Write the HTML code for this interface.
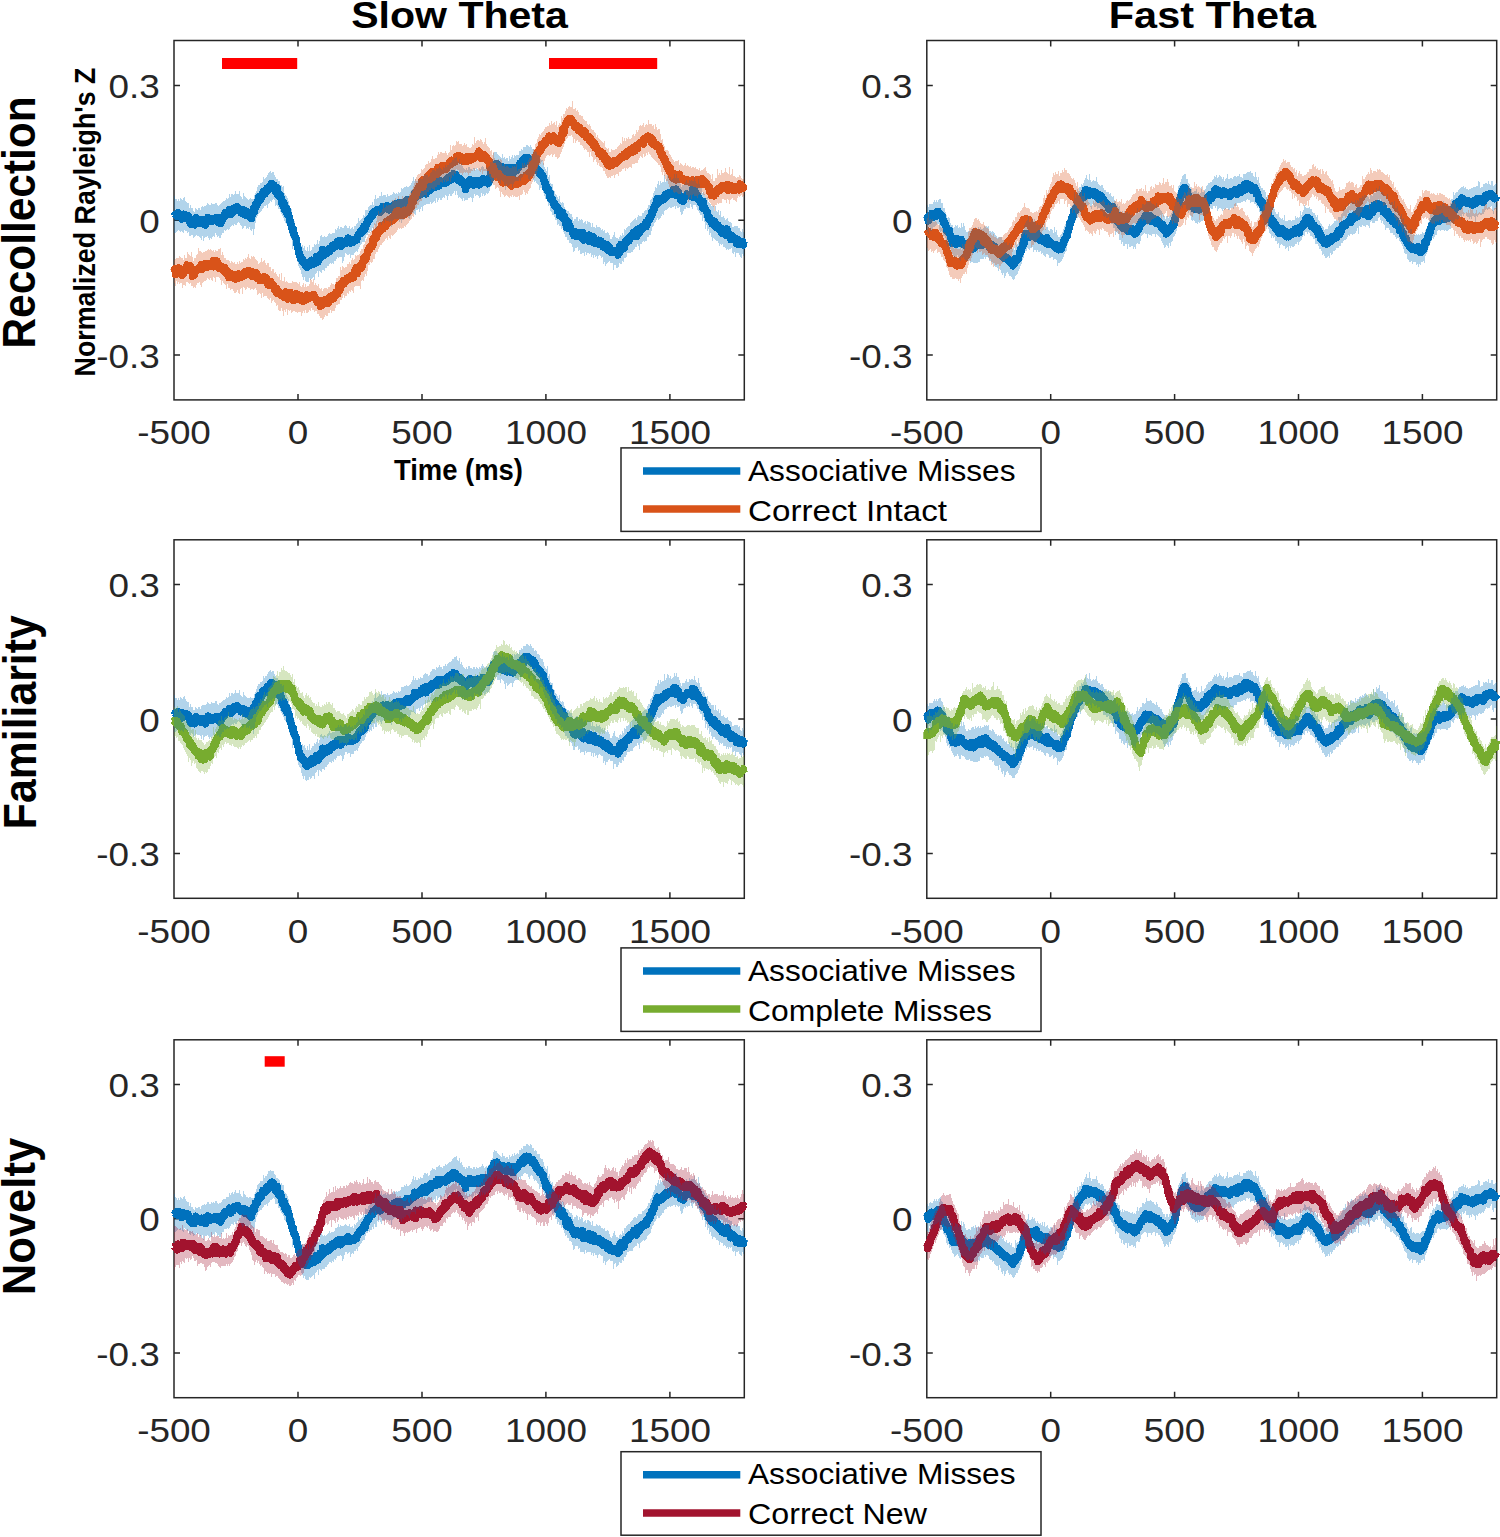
<!DOCTYPE html><html><head><meta charset="utf-8"><style>html,body{margin:0;padding:0;background:#fff;}svg{display:block;}text{font-family:"Liberation Sans",sans-serif;}</style></head><body>
<svg width="1500" height="1537" viewBox="0 0 1500 1537">
<rect width="1500" height="1537" fill="#fff"/>
<path d="M298 399.9V393.9M298 40.5V46.5M422 399.9V393.9M422 40.5V46.5M545.9 399.9V393.9M545.9 40.5V46.5M669.9 399.9V393.9M669.9 40.5V46.5M174 85.4H180M744.3 85.4H738.3M174 220.2H180M744.3 220.2H738.3M174 355H180M744.3 355H738.3" stroke="#262626" stroke-width="1.5" fill="none"/>
<rect x="174" y="40.5" width="570.3" height="359.4" fill="none" stroke="#262626" stroke-width="1.5"/>
<clipPath id="cp00"><rect x="174" y="40.5" width="570.3" height="359.4"/></clipPath>
<clipPath id="lp00"><rect x="170.5" y="40.5" width="577.3" height="359.4"/></clipPath>
<g clip-path="url(#lp00)"><path transform="scale(.1)" d="M1740 2161l5-3 5-13 5 7 5-1 5 7 5-15 5 20 5-36 5 28 5-21 5 18 5 15 5 0 5-5 5 3 5 24 5-41 5 29 5-35 5 14 5 8 5-14 5 17 5 10 5-26 5 19 5 2 5-17 5 29 5-4 5 39 5-28 5 43 5-30 5 40 5-18 5 2 5 7 5 7 5 5 5 2 5-32 5-17 5-22 5 34 5 13 5-1 5-1 5-4 5-1 5 7 5 5 5-30 5 36 5-39 5 18 5-9 5 3 5-9 5-4 5 13 5-11 5 53 5-44 5-5 5 0 5-7 5-21 5 33 5 7 5-25 5 24 5-22 5 16 5 5 5 0 5-5 5-18 5 16 5-15 5 13 5 2 5-13 5-14 5 28 5-18 5 9 5-8 5 33 5-13 5-27 5 42 5 12 5-13 5-37 5 6 5-2 5-2 5-18 5-20 5 21 5-9 5-35 5 14 5 3 5-13 5 6 5 1 5-2 5-13 5-27 5 24 5 15 5 9 5-34 5-8 5 22 5-2 5-15 5 0 5-28 5 24 5-20 5 12 5 2 5-2 5-27 5 17 5 19 5-6 5-4 5 16 5 8 5 10 5-18 5 12 5-4 5-9 5-10 5 17 5-13 5 45 5-31 5 1 5-3 5 38 5-36 5 18 5-5 5 11 5 4 5 28 5-34 5 24 5 23 5-41 5-2 5-19 5-40 5 27 5 5 5-40 5-33 5 20 5-17 5 3 5-15 5-27 5 1 5-39 5 37 5-19 5 7 5-5 5-28 5-4 5-16 5-22 5 21 5 2 5-25 5 21 5-15 5-1 5-24 5-18 5 29 5-8 5-11 5-10 5-4 5-3 5-13 5-21 5 35 5-39 5 17 5 1 5 14 5-17 5 47 5 4 5 10 5 14 5-20 5-28 5 59 5 19 5 6 5-21 5 12 5 13 5-18 5 28 5 12 5 45 5-21 5 47 5-11 5-22 5 69 5-37 5 33 5 26 5-24 5 0 5 53 5 0 5-5 5 19 5 26 5 33 5-1 5 30 5 28 5 12 5 19 5 13 5-25 5 59 5 3 5 11 5 5 5 13 5 27 5 40 5 4 5 25 5 22 5 32 5-2 5 21 5 36 5-16 5 25 5-15 5 31 5 1 5 7 5-7 5 1 5 17 5-1 5 32 5 7 5-33 5 34 5-18 5 7 5-17 5-22 5 34 5-10 5-31 5-13 5 20 5-11 5 8 5 10 5 9 5-33 5 19 5-3 5-30 5-23 5 34 5-10 5 25 5-17 5-17 5 6 5-42 5 13 5-13 5 26 5-21 5-59 5 64 5-40 5 31 5-22 5 8 5 2 5-10 5-22 5 28 5-26 5-7 5 10 5-23 5 32 5-18 5-1 5-7 5-23 5-11 5 20 5-1 5 3 5-15 5-19 5 23 5-5 5-3 5-16 5-25 5 32 5-32 5 16 5-26 5 35 5-22 5 26 5 12 5-13 5-39 5 3 5 0 5 22 5-8 5-8 5-1 5-2 5-1 5 15 5-27 5 8 5-29 5 10 5 10 5-10 5 21 5 17 5-21 5 2 5-4 5 11 5-9 5 13 5-6 5-8 5-2 5-18 5 0 5 16 5-33 5 4 5-17 5-15 5-3 5-12 5 7 5-18 5-7 5 21 5-29 5 14 5-22 5-1 5-30 5 6 5 26 5-33 5-9 5-21 5 4 5-32 5-7 5 13 5-3 5-22 5-3 5-8 5-4 5-16 5-10 5 16 5-34 5 7 5-3 5-17 5 14 5-16 5 2 5-15 5-1 5 20 5-1 5-13 5 12 5-8 5-4 5 20 5-33 5 9 5-7 5-12 5-16 5 29 5-9 5-8 5 0 5 3 5-17 5 22 5-27 5 26 5-16 5 16 5 15 5-12 5-8 5 13 5-9 5-9 5-1 5 25 5-16 5 1 5-34 5 23 5-29 5 28 5-20 5 44 5-60 5 46 5-8 5-42 5 21 5 24 5-5 5-43 5 15 5-15 5 1 5-1 5 37 5-27 5-7 5-6 5 11 5-1 5-22 5 27 5-42 5 10 5 5 5 24 5-33 5 4 5 13 5-13 5 0 5-1 5-14 5-3 5 3 5-18 5 15 5-54 5 11 5 31 5-18 5-19 5 12 5 12 5-28 5 18 5-14 5 0 5-6 5 14 5-35 5 11 5 13 5-33 5-12 5 28 5-10 5-7 5 0 5-20 5 56 5-58 5 8 5-14 5 11 5 25 5-23 5 4 5-19 5 29 5-26 5-25 5 28 5-23 5 14 5-8 5 5 5-5 5-19 5-12 5 37 5-22 5 4 5-15 5-28 5 14 5 38 5-36 5 4 5-19 5 12 5 2 5 1 5-1 5-9 5 1 5 2 5 0 5-9 5 25 5-21 5-2 5-16 5 27 5-33 5-14 5 7 5 18 5-31 5 34 5-24 5-24 5 16 5 25 5-45 5-11 5 26 5 8 5-8 5-20 5 8 5 9 5 17 5 19 5-23 5 28 5-15 5 21 5-20 5 8 5 20 5-18 5 29 5-17 5 15 5 0 5 3 5 16 5 14 5 37 5-71 5 22 5-8 5-13 5 10 5-23 5 10 5 27 5-51 5 38 5 1 5-19 5 28 5-1 5-19 5 24 5-40 5 25 5-10 5-10 5 6 5 3 5 15 5-36 5 25 5-7 5 27 5-36 5 32 5-41 5 29 5-14 5 9 5-19 5-22 5 1 5 40 5-16 5-10 5 22 5-24 5 0 5-3 5 31 5 10 5-55 5 14 5 1 5 5 5-82 5 27 5-7 5-49 5 8 5-23 5-4 5-25 5 9 5-16 5 25 5-7 5-8 5-16 5 44 5 2 5 0 5-20 5 12 5 32 5-14 5-18 5 12 5 0 5-2 5-11 5 44 5 1 5-13 5-21 5 21 5 6 5 19 5-22 5 22 5-11 5-11 5-33 5 28 5-9 5 22 5 4 5 15 5-25 5-16 5 48 5-33 5-9 5 0 5-22 5 27 5-12 5 14 5-10 5-7 5-1 5-27 5-5 5 0 5-20 5 14 5-12 5 9 5-10 5-34 5 24 5 18 5-56 5 10 5 9 5-29 5 9 5 11 5-23 5 24 5 5 5-27 5 26 5 17 5-19 5 15 5 6 5-7 5 24 5-10 5-19 5 30 5 7 5 10 5-18 5 24 5 25 5-9 5 24 5 8 5-16 5 17 5-5 5 27 5-11 5-2 5 16 5 9 5 17 5 6 5-12 5 21 5 26 5 13 5 5 5 53 5-6 5-10 5 25 5 21 5 1 5-18 5 38 5 10 5 44 5-46 5 59 5-14 5 24 5-11 5 20 5 24 5-6 5 26 5-14 5 6 5 16 5 0 5 18 5 29 5-29 5 6 5 34 5 33 5 0 5 7 5 5 5-24 5 17 5-38 5 38 5 25 5-27 5 9 5 19 5 30 5 27 5 31 5-11 5-36 5-13 5 49 5 23 5-37 5 20 5 13 5 13 5 3 5 9 5 18 5-5 5 16 5 20 5-37 5-1 5 30 5 14 5-30 5 12 5-20 5 20 5-15 5 21 5-2 5 6 5 18 5 0 5-26 5 16 5-38 5 48 5 28 5-32 5 1 5-2 5 21 5-18 5 14 5-12 5-2 5 6 5-2 5-22 5 62 5-27 5-25 5 51 5-12 5 7 5 11 5-23 5-29 5 45 5 5 5 14 5-25 5 6 5 10 5-6 5 1 5 3 5-17 5 37 5-37 5 20 5-7 5-1 5 22 5 11 5 15 5-5 5-11 5 25 5-34 5 28 5 12 5 1 5-25 5-5 5 51 5-31 5-9 5 6 5 24 5 21 5-13 5 22 5-9 5 5 5 9 5-17 5 10 5-7 5-4 5 20 5-21 5 23 5-9 5 15 5-6 5 21 5-23 5-8 5 13 5-74 5 23 5-37 5 41 5 8 5-2 5-11 5-22 5 28 5-27 5-20 5-27 5 16 5-21 5-9 5 6 5-5 5-17 5 28 5-37 5-9 5 18 5-9 5-2 5-16 5 1 5-17 5-17 5 33 5-32 5 4 5 10 5-10 5 38 5-68 5 5 5 14 5 20 5-29 5-22 5 34 5-37 5 6 5 9 5-31 5 3 5 11 5-13 5 8 5-24 5 4 5-19 5-13 5 42 5-27 5-1 5-34 5 10 5-10 5-32 5 21 5-30 5-5 5-31 5 24 5-19 5-14 5-34 5-6 5 12 5-37 5-5 5-11 5-32 5 39 5-58 5 33 5-6 5-25 5 29 5 0 5-15 5-17 5 16 5 4 5-20 5 14 5-16 5-4 5 7 5-34 5-7 5 9 5 0 5 13 5-11 5-17 5-2 5-8 5 0 5-1 5 19 5-22 5 4 5 5 5-9 5 2 5-33 5 37 5-11 5 0 5 4 5-31 5 65 5-34 5 12 5-21 5 44 5 0 5-7 5 24 5 23 5-26 5-6 5 34 5-13 5-8 5 35 5-32 5-11 5 1 5-11 5 3 5-2 5-22 5 2 5 12 5 1 5 2 5 1 5-14 5 2 5-12 5-1 5 16 5-53 5 36 5 43 5-72 5 52 5-47 5 38 5 29 5 6 5-30 5 3 5 5 5 36 5-9 5 13 5 13 5 11 5 9 5 2 5-13 5 51 5-58 5 70 5-23 5 15 5 5 5 12 5 16 5 11 5-4 5 42 5-5 5 34 5-13 5-1 5 23 5 14 5-15 5 10 5 33 5-29 5 10 5 25 5-15 5-17 5 17 5 37 5 7 5-1 5-3 5-23 5 32 5 12 5-21 5 31 5-10 5 11 5 6 5-24 5 50 5-35 5 13 5-3 5 20 5 3 5-3 5 22 5-13 5-9 5-37 5 43 5 5 5-6 5 3 5 25 5 14 5 18 5-10 5-28 5 23 5-19 5 35 5-3 5-16 5 9 5 4 5-4 5 31 5 22 5-33 5 9 5-7 5-5 5 44 5-33 5 24 5-3 5 9 5-8 5 12 5-32 5 16 5 20 5-38" fill="none" stroke="#0072bd" stroke-width="75.0" stroke-linejoin="round" shape-rendering="crispEdges"/><path transform="scale(.1)" d="M1740 2706l5-18 5 10 5 45 5-57 5 18 5 6 5-8 5-14 5 33 5-41 5 16 5 16 5-5 5 31 5-24 5 39 5-30 5 23 5-25 5-15 5-7 5 15 5-28 5 1 5-12 5-24 5 38 5 0 5-29 5 25 5-7 5-23 5 23 5 27 5 12 5 0 5 45 5-32 5-11 5-11 5 46 5-31 5-8 5-17 5-4 5 1 5 7 5-4 5-7 5 4 5-20 5-8 5 12 5-30 5 43 5-4 5 1 5-29 5 6 5 2 5-22 5-7 5 8 5 5 5-17 5 19 5 18 5-23 5-11 5-3 5 30 5-17 5 8 5-8 5-16 5 31 5-28 5 4 5-35 5 64 5-19 5-15 5-14 5 2 5-16 5 30 5-16 5 22 5 8 5 29 5-20 5 2 5 14 5-14 5 10 5 13 5 12 5-4 5-6 5 23 5-20 5-12 5 51 5-13 5-3 5-9 5 17 5 41 5-24 5 39 5-36 5 23 5-11 5-3 5-1 5 4 5-10 5 7 5 23 5 12 5-16 5 0 5-6 5 28 5-5 5-34 5 16 5-10 5-16 5 39 5-8 5-16 5 16 5-26 5 13 5 10 5-26 5 9 5-19 5 22 5 0 5-37 5 1 5 8 5 17 5-28 5-6 5 14 5 21 5-40 5 21 5 22 5-20 5-2 5 17 5-29 5 50 5-24 5-10 5 10 5-1 5 2 5-14 5 18 5-17 5 53 5-33 5 10 5 3 5 31 5-13 5 27 5-30 5 5 5-6 5 1 5 20 5 1 5 3 5-33 5 33 5-15 5-3 5-5 5 23 5 29 5 11 5 9 5-36 5 7 5 17 5 0 5 3 5-22 5 27 5 13 5-2 5-4 5 0 5 14 5 29 5-11 5 16 5 20 5-35 5 28 5 5 5 18 5-17 5 4 5-1 5 22 5-1 5 4 5 10 5-9 5-6 5 11 5-4 5 14 5 13 5-24 5-32 5 49 5-12 5-13 5 15 5 32 5-47 5 9 5 16 5-46 5 41 5 18 5-1 5-8 5-13 5 2 5 44 5-40 5 17 5-41 5 29 5 7 5-3 5-37 5 30 5 27 5-10 5-17 5 23 5-37 5 45 5-1 5-14 5-7 5-15 5 24 5 26 5-13 5-7 5 7 5-21 5 22 5-50 5 33 5-6 5 4 5-3 5 3 5-26 5 21 5-20 5 13 5-17 5 11 5-1 5-10 5 11 5-16 5 28 5 11 5-8 5 9 5 20 5 10 5 8 5-24 5 9 5 24 5 3 5-34 5 59 5-9 5-34 5 36 5-24 5-2 5-17 5 1 5 4 5 4 5-22 5 12 5-4 5 2 5-8 5 3 5 28 5-55 5 4 5 8 5-14 5-12 5 20 5-24 5 20 5 11 5-5 5-13 5-4 5-4 5-9 5-30 5 24 5-15 5 10 5-25 5-6 5-61 5 26 5 27 5-33 5-28 5 11 5-17 5-4 5-24 5 15 5 14 5-15 5 0 5-23 5 14 5-13 5-19 5 6 5-3 5 11 5-2 5-19 5-6 5 15 5-26 5 4 5-1 5-4 5-9 5 29 5-21 5-28 5-25 5 2 5 19 5-48 5 60 5-39 5 0 5 5 5-33 5 15 5-6 5 6 5-37 5 17 5 1 5-23 5-24 5-16 5-25 5 11 5 9 5 3 5-18 5-6 5-36 5-12 5-32 5-1 5-14 5 6 5 1 5-22 5-9 5 8 5 2 5-20 5-53 5 45 5-38 5-28 5 9 5 9 5-63 5 48 5-26 5-10 5-34 5 2 5-13 5 26 5-35 5 15 5-22 5-24 5 33 5-2 5 1 5-40 5 0 5 5 5-12 5-8 5 30 5-48 5 19 5-23 5 25 5-25 5-13 5 21 5-9 5-13 5-4 5-10 5 17 5-6 5 13 5-40 5 29 5-15 5-33 5 31 5-54 5 31 5-44 5 28 5-14 5 3 5-20 5 18 5 29 5-10 5-9 5 0 5-9 5 28 5-25 5 17 5-40 5-5 5 42 5-40 5 8 5 10 5 5 5-5 5-8 5 7 5-28 5 0 5-25 5-10 5 18 5-41 5-46 5 27 5-11 5 12 5-42 5-26 5 6 5 14 5-46 5 13 5-17 5-9 5-31 5 7 5-22 5 10 5-17 5 21 5-33 5-2 5-37 5 15 5 47 5-48 5-27 5 19 5-9 5-10 5-1 5-8 5 15 5-38 5 14 5 6 5-32 5 47 5-40 5-4 5-11 5 18 5-43 5 32 5 24 5-32 5 5 5-27 5 22 5-21 5-2 5-1 5 29 5-44 5-27 5 33 5 3 5-3 5-9 5 12 5-12 5-4 5-21 5-18 5 43 5-45 5 31 5 0 5-31 5 7 5 19 5 9 5-27 5 11 5-17 5-8 5 9 5-15 5-25 5 32 5-19 5-10 5-17 5 29 5-9 5-9 5-12 5-2 5 20 5-30 5-7 5-18 5 12 5-12 5-5 5 26 5-17 5-8 5 8 5 6 5-11 5 42 5-9 5-26 5 42 5-26 5 13 5-5 5 12 5 1 5 8 5 0 5-49 5 31 5 6 5 0 5-24 5 12 5 3 5-27 5 14 5 17 5-31 5 8 5 1 5 0 5-3 5 4 5-15 5 0 5-9 5-2 5-7 5 12 5-2 5-34 5-9 5 46 5-16 5-9 5 41 5 10 5-35 5 3 5 5 5 1 5 11 5-19 5 19 5-4 5 22 5-17 5 24 5 16 5-4 5 6 5-7 5 25 5 46 5-4 5-8 5 5 5 17 5 25 5-47 5 46 5-13 5 46 5-33 5 38 5-13 5 14 5 22 5-28 5 15 5-7 5-12 5 24 5 19 5-1 5 4 5-11 5 45 5-29 5 38 5-22 5 8 5-25 5 24 5-18 5 15 5 15 5-13 5-1 5 13 5-24 5 24 5-11 5 29 5-24 5 37 5 4 5-66 5 25 5-19 5 44 5-30 5 24 5-4 5-21 5-7 5 40 5-29 5 8 5 17 5-22 5-7 5-11 5 23 5-21 5-14 5 13 5-9 5-20 5 18 5 11 5-5 5 17 5-17 5-12 5-33 5 27 5 9 5-30 5 22 5-45 5 10 5-5 5 12 5-36 5 19 5-50 5-32 5 16 5 13 5-44 5 23 5-39 5 21 5-76 5 55 5-80 5 18 5-35 5 9 5-19 5-12 5 7 5 4 5-30 5 13 5-50 5 3 5-6 5 20 5-4 5-27 5-8 5-16 5 28 5-3 5-34 5 0 5-7 5 6 5 4 5-41 5 24 5 20 5-31 5 33 5-2 5-34 5-3 5 31 5-41 5 14 5-5 5 29 5 5 5 5 5 5 5-26 5 42 5-16 5-3 5 25 5-31 5-9 5-2 5 6 5-44 5-2 5-54 5 9 5 35 5-12 5-39 5-28 5-17 5-8 5 0 5-24 5 18 5-13 5-23 5-9 5-3 5 11 5 4 5 17 5-30 5 24 5 13 5 8 5 11 5-15 5 28 5 19 5-25 5 25 5-1 5-8 5-4 5 11 5 36 5-23 5-12 5 8 5 30 5-18 5 28 5-2 5-3 5 28 5-40 5 15 5 12 5 14 5-20 5 14 5 33 5-18 5 26 5-13 5-1 5 23 5 21 5-14 5-17 5 19 5 14 5 9 5-4 5 33 5-27 5 40 5-27 5 7 5 39 5 2 5-8 5 7 5 13 5 11 5 9 5 19 5-24 5 19 5 4 5-16 5 43 5 8 5-22 5-17 5 21 5 40 5-41 5 11 5 35 5 24 5 8 5 13 5-44 5 36 5-4 5 0 5 32 5-3 5-23 5 7 5-3 5 16 5-28 5 10 5-26 5 19 5-10 5 5 5-7 5 19 5-33 5-4 5-3 5 13 5-5 5-12 5-13 5 1 5-12 5 13 5-12 5-1 5-9 5-2 5 14 5-28 5 13 5-1 5-21 5 30 5-27 5-21 5 31 5-6 5-3 5-13 5-6 5 5 5-29 5 22 5-7 5 10 5-24 5 10 5-30 5 8 5 17 5 7 5-16 5-34 5 4 5 2 5 21 5-38 5 2 5-4 5-8 5-11 5 0 5 5 5-12 5-3 5 11 5 8 5 6 5-55 5 17 5-3 5-21 5 10 5-12 5-7 5 5 5 15 5-29 5 8 5 8 5-6 5 5 5 0 5 16 5 40 5-41 5 44 5-21 5 7 5 30 5 0 5 3 5-7 5 14 5-18 5 13 5 8 5-7 5 1 5 51 5-12 5-1 5 36 5 24 5-2 5-18 5 30 5 16 5 18 5-18 5 14 5 35 5 6 5 15 5 18 5-29 5 12 5 15 5 42 5-9 5 20 5-43 5 50 5 22 5 15 5-28 5 45 5-33 5 35 5 4 5-29 5-17 5 56 5-31 5-22 5 29 5-18 5 20 5-16 5-18 5 48 5-18 5 7 5 7 5 3 5-8 5 18 5 2 5-4 5-6 5 3 5 16 5-1 5-16 5 20 5 1 5 0 5-5 5 9 5-13 5 10 5-2 5 4 5 3 5-2 5-20 5 1 5 21 5-6 5 14 5-20 5 5 5-11 5 14 5 0 5 22 5-16 5 18 5-37 5-8 5 43 5-14 5 14 5-39 5-15 5 53 5-22 5-13 5 44 5-30 5-3 5 23 5-5 5 2 5 22 5 2 5 3 5 14 5-10 5 34 5 25 5-13 5 22 5 24 5-33 5 3 5 1 5 11 5 19 5-20 5 8 5-29 5 22 5-37 5-3 5-3 5-7 5 1 5 15 5-10 5 8 5-23 5-6 5-13 5 28 5-33 5 18 5-5 5 1 5-8 5 10 5-2 5 16 5-28 5-2 5-12 5 57 5-38 5 26 5-1 5-27 5 11 5 23 5-17 5-16 5 17 5 20 5-23 5 1 5 10 5 17 5-32 5-4 5 12 5-1 5-13 5 18 5-15 5 30 5-22 5-38 5 23 5 23 5-17 5-3 5 4 5-6 5 21 5-18" fill="none" stroke="#d95319" stroke-width="75.0" stroke-linejoin="round" shape-rendering="crispEdges"/></g><g clip-path="url(#cp00)"><path transform="scale(.1)" d="M1740 1958h10v30h10v6h10v20h10v-21h10v17h10v-26h10v8h10v10h10v-18h10v-12h10v33h10v19h10v6h10v2h10v44h10v-29h10v33h10v0h10v27h10v9h10v-35h10v8h10v8h10v-15h10v1h10v20h10v-30h10v-10h10v3h10v-8h10v5h10v-12h10v-17h10v4h10v16h10v0h10v-21h10v6h10v-2h10v6h10v-18h10v1h10v22h10v8h10v-11h10v-2h10v-9h10v-18h10v-9h10v0h10v-6h10v-18h10v4h10v-6h10v-40h10v26h10v-27h10v-3h10v14h10v-15h10v-27h10v31h10v4h10v-1h10v-32h10v47h10v13h10v14h10v-57h10v29h10v11h10v15h10v4h10v9h10v-9h10v-6h10v13h10v0h10v-2h10v-42h10v-21h10v-24h10v-39h10v-15h10v-5h10v-19h10v-1h10v-5h10v-55h10v27h10v-18h10v-3h10v-19h10v-27h10v-5h10v-10h10v16h10v-8h10v4h10v28h10v16h10v22h10v2h10v16h10v6h10v40h10v-5h10v18h10v-4h10v67h10v16h10v13h10v18h10v30h10v48h10v23h10v15h10v60h10v33h10v23h10v53h10v30h10v50h10v21h10v35h10v31h10v29h10v-3h10v22h10v-19h10v38h10v13h10v-39h10v45h10v-61h10v56h10v-14h10v-23h10v-2h10v-30h10v7h10v-12h10v-34h10v36h10v-29h10v-48h10v-12h10v22h10v4h10v-10h10v10h10v-5h10v-13h10v-12h10v-19h10v18h10v-6h10v-5h10v-2h10v-2h10v-37h10v5h10v-13h10v-25h10v28h10v-21h10v9h10v6h10v-3h10v-16h10v-7h10v7h10v18h10v-4h10v-16h10v26h10v-4h10v-10h10v23h10v-36h10v5h10v-22h10v-8h10v-52h10v30h10v-9h10v-11h10v-10h10v-30h10v11h10v-64h10v2h10v0h10v-30h10v-10h10v-11h10v-4h10v-29h10v31h10v-56h10v-46h10v49h10v-17h10v-1h10v-21h10v1h10v-37h10v41h10v-8h10v-3h10v-1h10v18h10v-23h10v14h10v4h10v-11h10v1h10v-10h10v-17h10v9h10v4h10v-11h10v11h10v-16h10v7h10v-12h10v-33h10v2h10v-5h10v-14h10v6h10v-16h10v18h10v-1h10v-10h10v-13h10v-16h10v-28h10v-33h10v37h10v-24h10v25h10v-1h10v-22h10v14h10v-19h10v5h10v0h10v-28h10v-14h10v-4h10v11h10v-7h10v25h10v-10h10v-35h10v-9h10v-21h10v8h10v0h10v4h10v-29h10v7h10v-9h10v-17h10v23h10v2h10v12h10v-28h10v6h10v-21h10v11h10v-15h10v-5h10v-14h10v-2h10v-7h10v-21h10v-5h10v-13h10v0h10v-10h10v39h10v7h10v-31h10v59h10v-19h10v34h10v19h10v6h10v13h10v-21h10v16h10v-24h10v0h10v17h10v4h10v12h10v-20h10v0h10v14h10v-14h10v8h10v3h10v-15h10v5h10v-11h10v-19h10v19h10v18h10v-7h10v-16h10v9h10v-13h10v-10h10v-40h10v1h10v-28h10v-59h10v-13h10v7h10v1h10v17h10v8h10v13h10v5h10v13h10v-37h10v33h10v-3h10v20h10v-15h10v5h10v24h10v-48h10v28h10v-19h10v-18h10v26h10v-30h10v14h10v-9h10v-6h10v4h10v-35h10v-2h10v-22h10v12h10v-33h10v3h10v2h10v-21h10v0h10v5h10v16h10v-26h10v17h10v22h10v7h10v27h10v-8h10v7h10v34h10v0h10v1h10v35h10v11h10v-1h10v31h10v38h10v21h10v15h10v-32h10v97h10v-22h10v79h10v13h10v-3h10v60h10v10h10v36h10v7h10v17h10v27h10v-30h10v57h10v8h10v-5h10v10h10v32h10v25h10v12h10v5h10v5h10v20h10v11h10v-2h10v25h10v38h10v-18h10v-1h10v-18h10v6h10v37h10v-26h10v16h10v-13h10v10h10v34h10v-11h10v-8h10v28h10v-30h10v7h10v4h10v10h10v35h10v-39h10v44h10v-1h10v9h10v-29h10v16h10v6h10v-8h10v12h10v21h10v-5h10v16h10v-13h10v30h10v2h10v-13h10v13h10v24h10v37h10v3h10v-18h10v-28h10v-23h10v44h10v14h10v0h10v10h10v-26h10v-11h10v8h10v-36h10v20h10v-55h10v7h10v-23h10v-7h10v-11h10v-1h10v-22h10v-11h10v-10h10v-16h10v-12h10v-5h10v15h10v-23h10v-18h10v1h10v2h10v1h10v-31h10v-1h10v-13h10v-13h10v-1h10v-24h10v-27h10v0h10v-49h10v-7h10v-24h10v-37h10v-20h10v-43h10v7h10v-31h10v-35h10v41h10v-39h10v18h10v-7h10v1h10v-69h10v61h10v-24h10v-43h10v15h10v27h10v-18h10v29h10v-15h10v-3h10v-39h10v31h10v-34h10v37h10v4h10v31h10v28h10v26h10v-22h10v0h10v-9h10v-12h10v-20h10v23h10v2h10v-33h10v17h10v-14h10v6h10v1h10v-37h10v43h10v17h10v9h10v-51h10v53h10v36h10v7h10v44h10v-7h10v20h10v26h10v13h10v-9h10v48h10v13h10v12h10v17h10v2h10v1h10v45h10v-47h10v53h10v4h10v-19h10v46h10v-35h10v58h10v-1h10v-6h10v16h10v19h10v-5h10v-7h10v29h10v4h10v5h10v7h10v39h10v4h10v-13h10v3h10v-1h10v-2h10v20h10v-3h10v34h10v10h10v-30h10v25h10v-64h10v55h10V2539h-10v-8h-10v28h-10v-21h-10v41h-10v-13h-10v-14h-10v-22h-10v2h-10v1h-10v38h-10v-50h-10v14h-10v-6h-10v-47h-10v10h-10v-6h-10v15h-10v-16h-10v12h-10v-21h-10v-8h-10v5h-10v-33h-10v8h-10v-10h-10v24h-10v-34h-10v-14h-10v0h-10v-17h-10v-12h-10v-3h-10v23h-10v-31h-10v-41h-10v17h-10v-56h-10v15h-10v-58h-10v36h-10v-69h-10v-36h-10v26h-10v-62h-10v0h-10v-16h-10v-25h-10v-8h-10v-23h-10v-20h-10v-7h-10v6h-10v40h-10v-25h-10v-25h-10v33h-10v-1h-10v9h-10v-11h-10v21h-10v-7h-10v18h-10v39h-10v10h-10v-36h-10v-49h-10v14h-10v-7h-10v-16h-10v26h-10v-24h-10v4h-10v3h-10v8h-10v2h-10v-9h-10v13h-10v2h-10v19h-10v-3h-10v11h-10v36h-10v-6h-10v20h-10v16h-10v11h-10v6h-10v-18h-10v26h-10v20h-10v9h-10v32h-10v10h-10v32h-10v42h-10v4h-10v14h-10v8h-10v32h-10v5h-10v12h-10v-10h-10v11h-10v12h-10v5h-10v56h-10v-40h-10v-14h-10v30h-10v-3h-10v16h-10v10h-10v27h-10v0h-10v3h-10v3h-10v1h-10v3h-10v33h-10v16h-10v1h-10v39h-10v-9h-10v30h-10v-1h-10v-8h-10v32h-10v12h-10v4h-10v-32h-10v3h-10v48h-10v-76h-10v1h-10v-1h-10v-20h-10v10h-10v14h-10v6h-10v28h-10v-40h-10v20h-10v-71h-10v3h-10v-11h-10v-14h-10v14h-10v26h-10v-28h-10v7h-10v-24h-10v33h-10v-33h-10v23h-10v-34h-10v1h-10v-5h-10v4h-10v12h-10v-27h-10v37h-10v-23h-10v-1h-10v3h-10v4h-10v-42h-10v10h-10v-33h-10v5h-10v0h-10v27h-10v10h-10v-50h-10v-28h-10v-9h-10v-1h-10v-32h-10v-1h-10v-27h-10v1h-10v-30h-10v-24h-10v-31h-10v7h-10v-29h-10v1h-10v-27h-10v16h-10v-52h-10v0h-10v-33h-10v-20h-10v1h-10v-26h-10v-10h-10v-62h-10v13h-10v-42h-10v-27h-10v-3h-10v-32h-10v-26h-10v-43h-10v-13h-10v6h-10v19h-10v-51h-10v-11h-10v-15h-10v-18h-10v11h-10v-20h-10v-27h-10v-14h-10v16h-10v26h-10v-13h-10v-39h-10v1h-10v-8h-10v0h-10v14h-10v16h-10v6h-10v31h-10v-24h-10v28h-10v3h-10v-3h-10v3h-10v4h-10v19h-10v39h-10v-34h-10v-1h-10v6h-10v11h-10v13h-10v-29h-10v55h-10v-43h-10v-31h-10v-17h-10v-3h-10v34h-10v-31h-10v1h-10v0h-10v-31h-10v11h-10v-6h-10v26h-10v34h-10v16h-10v9h-10v44h-10v16h-10v13h-10v-9h-10v20h-10v10h-10v-20h-10v19h-10v-25h-10v37h-10v9h-10v-17h-10v-11h-10v-5h-10v17h-10v-23h-10v35h-10v39h-10v-33h-10v-10h-10v6h-10v6h-10v14h-10v-3h-10v3h-10v13h-10v-31h-10v31h-10v-26h-10v-10h-10v-2h-10v6h-10v-28h-10v-45h-10v46h-10v-40h-10v17h-10v9h-10v23h-10v0h-10v-22h-10v24h-10v35h-10v-40h-10v-12h-10v35h-10v-11h-10v14h-10v15h-10v-1h-10v-18h-10v15h-10v22h-10v-40h-10v52h-10v-22h-10v9h-10v15h-10v5h-10v-21h-10v20h-10v0h-10v1h-10v7h-10v8h-10v1h-10v6h-10v55h-10v-44h-10v22h-10v27h-10v-28h-10v10h-10v1h-10v51h-10v-14h-10v-9h-10v5h-10v-3h-10v25h-10v34h-10v-13h-10v-14h-10v2h-10v14h-10v4h-10v21h-10v-9h-10v38h-10v-29h-10v16h-10v-28h-10v1h-10v-2h-10v-2h-10v0h-10v14h-10v9h-10v53h-10v-55h-10v9h-10v-10h-10v2h-10v-2h-10v-5h-10v21h-10v-15h-10v8h-10v34h-10v-21h-10v-20h-10v20h-10v-9h-10v60h-10v3h-10v-34h-10v51h-10v-21h-10v37h-10v-8h-10v19h-10v-3h-10v19h-10v4h-10v29h-10v37h-10v2h-10v4h-10v20h-10v9h-10v24h-10v13h-10v33h-10v-10h-10v13h-10v2h-10v28h-10v-6h-10v4h-10v32h-10v-44h-10v7h-10v5h-10v-15h-10v-5h-10v35h-10v40h-10v20h-10v-56h-10v-4h-10v8h-10v1h-10v-2h-10v20h-10v20h-10v-8h-10v30h-10v-9h-10v16h-10v-9h-10v3h-10v20h-10v7h-10v20h-10v-1h-10v25h-10v-6h-10v2h-10v25h-10v-8h-10v-10h-10v60h-10v-57h-10v21h-10v8h-10v60h-10v-34h-10v7h-10v13h-10v13h-10v-19h-10v34h-10v-1h-10v3h-10v-8h-10v-39h-10v28h-10v-32h-10v-24h-10v-48h-10v-16h-10v-20h-10v-35h-10v-56h-10v-26h-10v-62h-10v-18h-10v24h-10v-99h-10v-15h-10v-34h-10v-37h-10v-40h-10v-17h-10v-19h-10v-12h-10v-35h-10v-22h-10v-16h-10v-19h-10v-28h-10v-3h-10v-33h-10v-3h-10v3h-10v-53h-10v-14h-10v10h-10v17h-10v-6h-10v19h-10v8h-10v38h-10v-24h-10v9h-10v-2h-10v25h-10v7h-10v19h-10v6h-10v9h-10v13h-10v25h-10v17h-10v52h-10v58h-10v61h-10v-57h-10v11h-10v-4h-10v-33h-10v25h-10v-11h-10v9h-10v-32h-10v4h-10v13h-10v12h-10v-27h-10v-15h-10v-19h-10v-3h-10v4h-10v23h-10v1h-10v-15h-10v22h-10v-6h-10v4h-10v13h-10v21h-10v11h-10v-8h-10v10h-10v2h-10v-5h-10v33h-10v-4h-10v21h-10v29h-10v0h-10v-16h-10v8h-10v-27h-10v-12h-10v34h-10v-10h-10v11h-10v21h-10v-8h-10v16h-10v-19h-10v-16h-10v10h-10v-1h-10v6h-10v35h-10v-52h-10v39h-10v-23h-10v-11h-10v-6h-10v-1h-10v-10h-10v12h-10v6h-10v13h-10v-26h-10v-8h-10v17h-10v-5h-10v-33h-10v3h-10v-18h-10v-1h-10v-10h-10v32h-10v-9h-10v-7h-10v5h-10v-9h-10v-9h-10v12h-10v10h-10v10h-10v0h-10Z" fill="#0072bd" fill-opacity="0.3" shape-rendering="crispEdges"/><path transform="scale(.1)" d="M1740 2596h10v-4h10v-17h10v0h10v9h10v-23h10v4h10v12h10v6h10v13h10v-44h10v25h10v-2h10v-53h10v15h10v14h10v4h10v-35h10v52h10v34h10v-29h10v-1h10v-23h10v-9h10v-64h10v34h10v-1h10v5h10v11h10v-6h10v-6h10v-3h10v-3h10v-15h10v-3h10v10h10v-9h10v2h10v10h10v-2h10v13h10v-21h10v9h10v2h10v-16h10v-4h10v-4h10v65h10v-27h10v31h10v25h10v0h10v19h10v4h10v-3h10v16h10v19h10v-20h10v10h10v7h10v-12h10v19h10v1h10v-21h10v21h10v-29h10v19h10v-10h10v-1h10v-31h10v16h10v-18h10v3h10v-17h10v-26h10v32h10v10h10v-25h10v11h10v-11h10v10h10v16h10v15h10v9h10v30h10v-9h10v-12h10v-41h10v38h10v-6h10v-11h10v35h10v12h10v-14h10v0h10v41h10v-3h10v35h10v-16h10v-4h10v41h10v-7h10v21h10v15h10v19h10v-32h10v55h10v-67h10v78h10v4h10v-45h10v54h10v-11h10v5h10v14h10v0h10v2h10v-6h10v-18h10v8h10v5h10v-5h10v6h10v6h10v10h10v-18h10v39h10v13h10v-23h10v-21h10v38h10v-28h10v30h10v-11h10v-1h10v-15h10v-55h10v14h10v17h10v-25h10v59h10v-20h10v18h10v13h10v-17h10v36h10v5h10v-1h10v27h10v-19h10v-15h10v2h10v4h10v8h10v-24h10v1h10v-18h10v-18h10v4h10v5h10v7h10v-28h10v-43h10v1h10v-21h10v3h10v-95h10v39h10v-42h10v3h10v17h10v-17h10v3h10v-30h10v1h10v-15h10v16h10v-43h10v-19h10v18h10v-11h10v-33h10v3h10v-1h10v-4h10v-14h10v-23h10v-25h10v1h10v-38h10v-9h10v-31h10v-25h10v-16h10v-28h10v-2h10v-24h10v-9h10v-8h10v-31h10v-40h10v13h10v-33h10v-49h10v-45h10v24h10v-11h10v-5h10v-34h10v-60h10v53h10v-13h10v-14h10v9h10v-11h10v-1h10v-4h10v-12h10v-36h10v4h10v5h10v-29h10v27h10v-9h10v-41h10v47h10v-16h10v2h10v-30h10v17h10v-5h10v-11h10v11h10v-11h10v7h10v-32h10v-19h10v-12h10v-16h10v-31h10v-29h10v-40h10v-17h10v-23h10v-7h10v-4h10v-11h10v-34h10v7h10v-10h10v-8h10v-31h10v-13h10v7h10v-31h10v17h10v-11h10v-26h10v-29h10v23h10v6h10v-16h10v4h10v-31h10v-28h10v22h10v-25h10v-2h10v8h10v5h10v2h10v-20h10v20h10v17h10v-22h10v-11h10v-62h10v48h10v-43h10v-6h10v4h10v-8h10v-44h10v13h10v-4h10v26h10v2h10v-3h10v17h10v-4h10v-20h10v19h10v-8h10v28h10v3h10v5h10v1h10v-14h10v-22h10v2h10v-80h10v67h10v-23h10v-6h10v-1h10v11h10v-27h10v9h10v20h10v26h10v-22h10v-43h10v64h10v19h10v13h10v2h10v30h10v-10h10v58h10v-38h10v65h10v15h10v8h10v-8h10v-4h10v32h10v-35h10v10h10v58h10v3h10v-21h10v35h10v-16h10v5h10v3h10v10h10v4h10v1h10v-19h10v7h10v-11h10v16h10v-37h10v76h10v-26h10v8h10v-19h10v0h10v-46h10v21h10v-17h10v21h10v-11h10v-28h10v-11h10v-21h10v-6h10v-40h10v-2h10v-50h10v5h10v-47h10v-15h10v-42h10v-20h10v-22h10v3h10v-14h10v-15h10v-8h10v-18h10v-18h10v0h10v-12h10v-7h10v-21h10v18h10v-42h10v26h10v-2h10v-12h10v26h10v-35h10v53h10v-14h10v-25h10v9h10v-79h10v24h10v-44h10v-1h10v-26h10v-28h10v5h10v-18h10v-11h10v12h10v0h10v-60h10v81h10v-6h10v-3h10v27h10v-14h10v25h10v25h10v6h10v9h10v1h10v25h10v16h10v10h10v-6h10v36h10v5h10v-4h10v18h10v33h10v1h10v8h10v12h10v11h10v45h10v-18h10v26h10v14h10v9h10v7h10v10h10v9h10v-21h10v65h10v10h10v8h10v-14h10v48h10v-1h10v-32h10v9h10v-4h10v-1h10v-7h10v6h10v-21h10v-12h10v-10h10v-19h10v6h10v-66h10v39h10v-27h10v27h10v-27h10v7h10v-18h10v14h10v-1h10v-10h10v-22h10v-11h10v16h10v-17h10v-47h10v20h10v-19h10v-36h10v-9h10v13h10v-16h10v-16h10v35h10v-16h10v-10h10v8h10v-49h10v39h10v3h10v-1h10v17h10v-7h10v37h10v-47h10v33h10v29h10v-13h10v2h10v50h10v56h10v-6h10v49h10v16h10v41h10v4h10v2h10v2h10v29h10v12h10v27h10v17h10v10h10v14h10v-10h10v3h10v1h10v-5h10v42h10v-21h10v13h10v12h10v8h10v-8h10v-18h10v30h10v-12h10v8h10v14h10v-15h10v23h10v-12h10v-1h10v8h10v-10h10v25h10v-3h10v14h10v-17h10v27h10v-13h10v-1h10v-6h10v-7h10v-17h10v47h10v13h10v5h10v4h10v18h10v39h10v-58h10v75h10v0h10v-34h10v4h10v-87h10v52h10v-14h10v17h10v-45h10v24h10v0h10v-5h10v-41h10v38h10v7h10v14h10v-66h10v74h10v-7h10v-51h10v71h10v-1h10v9h10v13h10v-12h10v-1h10v-24h10v15h10v18h10v10h10v0h10v-15h10v37h10V1941h-10v13h-10v4h-10v7h-10v-15h-10v11h-10v9h-10v-10h-10v23h-10v38h-10v-15h-10v-7h-10v1h-10v-18h-10v6h-10v15h-10v37h-10v-45h-10v-3h-10v39h-10v-32h-10v2h-10v-15h-10v7h-10v37h-10v3h-10v-3h-10v13h-10v-17h-10v22h-10v-1h-10v64h-10v-45h-10v-6h-10v-7h-10v-26h-10v-6h-10v-17h-10v-18h-10v-1h-10v-20h-10v-16h-10v2h-10v-32h-10v16h-10v18h-10v-9h-10v3h-10v35h-10v-27h-10v0h-10v0h-10v-18h-10v16h-10v41h-10v-43h-10v20h-10v46h-10v-68h-10v-4h-10v-30h-10v4h-10v21h-10v-22h-10v4h-10v18h-10v2h-10v-7h-10v-6h-10v-12h-10v-1h-10v10h-10v-11h-10v-26h-10v7h-10v-12h-10v-16h-10v-33h-10v-29h-10v3h-10v-20h-10v-25h-10v-42h-10v27h-10v-30h-10v-48h-10v-23h-10v1h-10v-19h-10v-10h-10v-13h-10v-4h-10v-17h-10v-3h-10v-18h-10v-15h-10v-12h-10v-20h-10v27h-10v-12h-10v28h-10v6h-10v-26h-10v34h-10v-5h-10v-7h-10v21h-10v14h-10v35h-10v-6h-10v7h-10v8h-10v-5h-10v6h-10v38h-10v-10h-10v-5h-10v15h-10v4h-10v-8h-10v31h-10v-24h-10v10h-10v-3h-10v16h-10v15h-10v1h-10v37h-10v-19h-10v1h-10v6h-10v27h-10v-30h-10v13h-10v1h-10v19h-10v-10h-10v10h-10v1h-10v-23h-10v-14h-10v-35h-10v0h-10v-23h-10v-13h-10v-6h-10v-9h-10v-25h-10v17h-10v-31h-10v-28h-10v9h-10v17h-10v-50h-10v-7h-10v-38h-10v45h-10v-49h-10v2h-10v-18h-10v-8h-10v5h-10v-15h-10v-26h-10v-6h-10v3h-10v-31h-10v-7h-10v-15h-10v6h-10v23h-10v-39h-10v38h-10v-63h-10v-12h-10v7h-10v4h-10v-5h-10v18h-10v11h-10v25h-10v24h-10v32h-10v22h-10v28h-10v18h-10v32h-10v12h-10v7h-10v-20h-10v-2h-10v-28h-10v11h-10v17h-10v-26h-10v11h-10v10h-10v-13h-10v5h-10v4h-10v20h-10v31h-10v40h-10v-42h-10v11h-10v19h-10v17h-10v-3h-10v55h-10v49h-10v-15h-10v39h-10v10h-10v29h-10v19h-10v47h-10v9h-10v16h-10v34h-10v-14h-10v19h-10v-28h-10v-16h-10v35h-10v15h-10v-5h-10v47h-10v-34h-10v7h-10v0h-10v3h-10v-12h-10v7h-10v-12h-10v17h-10v-11h-10v20h-10v-13h-10v-7h-10v-6h-10v1h-10v10h-10v-16h-10v-7h-10v-25h-10v54h-10v-58h-10v-31h-10v-8h-10v5h-10v15h-10v-45h-10v0h-10v-19h-10v-11h-10v-32h-10v-15h-10v-24h-10v8h-10v-42h-10v-2h-10v-6h-10v6h-10v31h-10v-41h-10v16h-10v-6h-10v-10h-10v-23h-10v5h-10v7h-10v14h-10v-19h-10v26h-10v-2h-10v15h-10v9h-10v20h-10v-29h-10v-3h-10v3h-10v-1h-10v9h-10v16h-10v-18h-10v3h-10v2h-10v-33h-10v-2h-10v-13h-10v52h-10v-8h-10v32h-10v-12h-10v29h-10v39h-10v-54h-10v44h-10v-1h-10v13h-10v-27h-10v25h-10v-16h-10v21h-10v-3h-10v-4h-10v34h-10v0h-10v-3h-10v20h-10v3h-10v31h-10v-10h-10v-1h-10v-11h-10v15h-10v2h-10v26h-10v-4h-10v55h-10v-28h-10v0h-10v16h-10v4h-10v47h-10v-9h-10v10h-10v33h-10v5h-10v25h-10v5h-10v25h-10v59h-10v-10h-10v29h-10v17h-10v10h-10v17h-10v12h-10v11h-10v17h-10v-7h-10v19h-10v-4h-10v8h-10v-5h-10v5h-10v-5h-10v19h-10v20h-10v7h-10v9h-10v9h-10v15h-10v-12h-10v45h-10v-17h-10v-20h-10v41h-10v-17h-10v7h-10v22h-10v8h-10v10h-10v24h-10v1h-10v14h-10v23h-10v35h-10v0h-10v18h-10v45h-10v-1h-10v31h-10v16h-10v-15h-10v27h-10v8h-10v56h-10v53h-10v-24h-10v27h-10v46h-10v-7h-10v7h-10v74h-10v-25h-10v-5h-10v5h-10v2h-10v-7h-10v13h-10v66h-10v-24h-10v-10h-10v24h-10v-10h-10v24h-10v-10h-10v31h-10v-1h-10v21h-10v-27h-10v32h-10v12h-10v8h-10v34h-10v1h-10v8h-10v2h-10v27h-10v30h-10v1h-10v1h-10v25h-10v-29h-10v21h-10v4h-10v30h-10v2h-10v-16h-10v25h-10v19h-10v12h-10v-21h-10v-2h-10v-19h-10v-16h-10v-2h-10v-27h-10v-3h-10v6h-10v-15h-10v2h-10v-23h-10v25h-10v-4h-10v15h-10v13h-10v-4h-10v-22h-10v28h-10v-24h-10v17h-10v33h-10v-36h-10v-4h-10v6h-10v1h-10v-5h-10v-1h-10v-6h-10v-4h-10v10h-10v8h-10v-29h-10v11h-10v-6h-10v45h-10v-62h-10v38h-10v-22h-10v54h-10v-48h-10v-27h-10v28h-10v-4h-10v-2h-10v-54h-10v15h-10v-31h-10v-16h-10v-19h-10v13h-10v22h-10v-56h-10v21h-10v-13h-10v-3h-10v-23h-10v1h-10v1h-10v5h-10v-32h-10v46h-10v-38h-10v-17h-10v11h-10v10h-10v-50h-10v-14h-10v11h-10v4h-10v-4h-10v-7h-10v10h-10v-18h-10v-3h-10v-2h-10v13h-10v13h-10v-15h-10v-15h-10v71h-10v-58h-10v12h-10v42h-10v-6h-10v-34h-10v20h-10v9h-10v8h-10v-25h-10v-15h-10v-6h-10v11h-10v-15h-10v-2h-10v-42h-10v54h-10v-42h-10v-16h-10v-3h-10v-22h-10v36h-10v-45h-10v-22h-10v-13h-10v1h-10v4h-10v47h-10v-38h-10v-6h-10v35h-10v-14h-10v-19h-10v24h-10v-13h-10v-11h-10v24h-10v6h-10v4h-10v14h-10v2h-10v42h-10v-23h-10v-21h-10v4h-10v2h-10v20h-10v26h-10v-9h-10v11h-10v-21h-10v2h-10v-25h-10v7h-10v-12h-10v-7h-10v-6h-10v46h-10v-15h-10v2h-10v27h-10v-42h-10v-1h-10v4h-10v-13h-10v11h-10v-26h-10v47h-10v-26h-10Z" fill="#d95319" fill-opacity="0.3" shape-rendering="crispEdges"/></g>
<path d="M1050.7 399.9V393.9M1050.7 40.5V46.5M1174.6 399.9V393.9M1174.6 40.5V46.5M1298.5 399.9V393.9M1298.5 40.5V46.5M1422.4 399.9V393.9M1422.4 40.5V46.5M926.8 85.4H932.8M1496.7 85.4H1490.7M926.8 220.2H932.8M1496.7 220.2H1490.7M926.8 355H932.8M1496.7 355H1490.7" stroke="#262626" stroke-width="1.5" fill="none"/>
<rect x="926.8" y="40.5" width="569.9" height="359.4" fill="none" stroke="#262626" stroke-width="1.5"/>
<clipPath id="cp01"><rect x="926.8" y="40.5" width="569.9" height="359.4"/></clipPath>
<clipPath id="lp01"><rect x="923.3" y="40.5" width="576.9" height="359.4"/></clipPath>
<g clip-path="url(#lp01)"><path transform="scale(.1)" d="M9268 2186l5-16 5 17 5 23 5-41 5 15 5-30 5 1 5-2 5 17 5-33 5 4 5 9 5 22 5-23 5 19 5-15 5-6 5 17 5-30 5-10 5 11 5-21 5 1 5 7 5 9 5 19 5 7 5-13 5 12 5 7 5-6 5 41 5-4 5 32 5-4 5 8 5 30 5 2 5 1 5 47 5 0 5 9 5 6 5 0 5-25 5 43 5 9 5 28 5-12 5 36 5 6 5 27 5-26 5 16 5 3 5 0 5 10 5-16 5-27 5 43 5-53 5 39 5 10 5-29 5 7 5-1 5-17 5 17 5-20 5 20 5 6 5 12 5 11 5-4 5 7 5-7 5 7 5 18 5 5 5 0 5-7 5 17 5-28 5 10 5 14 5 10 5-40 5 3 5-3 5 25 5 1 5 10 5 9 5-48 5 13 5-3 5-10 5 14 5-10 5 16 5-10 5-23 5 24 5 2 5-15 5-24 5-7 5 12 5 32 5 4 5-12 5-4 5-42 5 37 5-18 5 2 5-11 5-16 5 40 5-5 5-12 5 1 5 19 5 29 5-3 5-4 5 14 5-9 5-19 5 26 5-11 5-4 5 32 5-7 5-18 5 37 5-4 5 0 5 2 5 1 5 0 5 28 5 6 5-11 5 8 5-5 5 4 5 15 5 1 5 19 5-19 5 17 5 1 5 5 5 18 5-5 5-12 5 5 5 3 5 5 5 3 5 9 5 5 5 11 5-11 5 17 5 6 5 13 5-5 5 11 5 1 5 19 5-17 5-25 5 23 5-25 5-27 5 31 5-16 5-5 5-1 5-19 5 12 5-23 5-17 5-10 5-42 5 27 5-40 5 3 5-24 5-12 5-26 5 20 5-75 5 10 5-22 5-24 5 35 5-24 5 34 5-20 5-7 5 2 5-21 5-2 5 36 5-11 5-24 5 13 5-5 5 15 5-10 5-12 5 23 5-20 5 21 5-8 5-35 5 72 5-32 5 28 5-1 5-16 5-10 5 46 5-21 5 16 5-4 5 15 5-7 5-14 5 15 5 17 5-20 5 10 5-1 5 17 5 9 5-55 5 38 5 25 5-43 5 8 5 37 5-14 5-9 5 13 5 8 5-5 5 9 5 3 5 4 5 1 5 5 5-4 5 23 5-20 5-2 5-6 5 18 5 21 5-3 5 12 5-21 5 12 5-21 5 16 5 5 5-15 5-21 5 2 5-17 5-28 5-12 5-8 5 6 5-12 5-17 5-22 5 19 5-50 5-8 5-17 5-4 5-55 5 17 5-33 5-8 5-30 5-16 5 11 5-16 5-48 5 14 5-26 5 15 5-17 5-6 5-23 5-11 5-23 5-21 5 2 5 16 5-4 5-39 5-5 5-2 5-10 5-13 5 4 5 9 5-2 5 5 5-33 5-35 5 16 5-16 5 7 5-8 5 28 5-24 5 16 5 32 5-21 5-20 5 33 5-5 5 2 5 3 5-23 5 0 5 16 5-21 5 13 5 29 5-34 5 23 5 12 5-8 5 2 5 28 5-37 5 47 5-33 5 16 5-14 5-2 5 35 5-4 5 14 5-16 5 21 5-4 5 23 5 12 5 5 5 3 5-12 5 20 5-10 5 35 5-16 5 26 5-20 5 13 5 0 5-21 5 33 5-20 5-8 5 40 5 29 5 4 5-14 5-1 5 2 5 42 5 7 5 15 5 27 5-10 5-2 5 6 5 10 5 18 5 20 5 1 5 8 5 1 5 5 5 7 5 2 5-31 5 9 5 8 5 2 5 15 5 2 5-13 5 36 5-10 5 3 5-21 5 23 5-15 5-6 5 18 5-17 5 1 5 32 5 8 5-19 5 25 5 6 5-5 5-13 5-16 5 17 5-36 5 5 5-4 5 5 5-35 5-9 5-8 5-15 5 7 5-4 5 2 5-30 5 6 5-23 5 2 5 22 5-30 5-25 5 20 5 3 5-16 5 31 5 6 5-15 5 22 5-47 5 34 5-14 5 33 5-27 5-2 5 3 5-2 5 6 5 20 5-5 5 2 5 4 5-13 5 38 5-37 5 28 5-12 5 17 5-12 5 26 5 3 5 11 5 17 5-15 5 11 5-30 5 43 5 17 5-1 5 13 5 2 5-17 5 41 5-25 5-13 5 28 5-13 5-4 5-15 5-16 5 19 5-31 5 7 5-21 5-12 5 20 5-30 5 20 5-56 5 17 5-39 5-4 5-26 5-60 5 14 5-32 5-34 5 0 5-32 5-16 5 0 5-20 5-26 5-22 5 27 5-40 5-16 5 42 5-3 5-55 5 29 5-18 5 44 5-13 5 0 5 45 5-9 5 29 5-5 5 43 5 9 5-8 5-14 5 44 5-10 5 31 5 11 5-18 5 15 5-29 5 28 5 18 5-41 5 33 5-5 5 8 5-8 5-3 5 19 5-10 5 2 5-30 5 20 5-4 5-14 5-7 5-31 5 8 5 0 5-11 5 33 5-26 5-31 5 33 5-60 5-3 5 4 5 2 5 35 5-44 5 8 5-29 5 7 5 34 5-23 5-12 5 5 5-17 5-12 5-25 5-10 5 14 5 1 5-7 5 26 5 22 5-22 5-18 5 4 5 35 5-3 5-10 5 7 5 12 5-15 5 6 5-8 5-26 5 34 5 1 5 1 5-13 5 10 5 1 5-5 5-10 5 0 5 12 5 8 5 19 5-30 5 6 5 3 5-32 5 27 5-20 5-5 5 16 5-20 5 8 5-21 5 12 5-14 5 7 5 41 5-41 5-3 5-8 5-10 5 37 5-39 5 47 5-42 5 16 5-14 5-16 5 7 5 18 5-25 5-29 5 57 5-44 5 7 5 21 5-47 5 16 5 16 5-1 5 2 5-19 5 32 5-17 5 10 5-13 5 43 5-25 5 6 5-7 5 18 5-20 5 21 5 6 5 35 5-20 5 11 5 14 5 24 5 29 5-9 5 8 5 25 5-15 5 14 5-7 5 15 5-4 5 55 5-10 5 13 5-12 5 28 5-5 5 6 5-2 5 20 5 52 5-37 5 26 5 17 5 4 5 17 5-17 5 51 5 12 5-23 5-1 5 0 5-5 5 36 5 14 5 19 5-38 5 36 5 14 5-10 5-5 5 19 5 32 5-47 5 14 5-3 5 11 5 26 5-22 5-23 5 16 5 2 5 30 5 1 5-20 5 37 5-36 5 27 5 25 5-44 5 35 5 8 5-28 5 9 5-23 5 26 5-25 5 6 5 12 5-15 5-15 5 14 5-7 5-11 5-17 5 22 5 15 5-24 5-6 5 1 5 15 5-36 5 33 5 15 5-26 5-13 5-4 5-6 5-19 5-7 5-9 5 1 5 14 5-33 5 18 5-50 5 18 5-24 5 13 5-1 5-24 5 30 5 8 5 5 5-27 5 2 5 37 5-18 5 55 5-17 5 5 5-5 5-1 5 17 5-3 5 27 5-10 5 9 5 26 5 5 5-36 5 65 5-45 5 19 5 18 5 0 5 48 5-14 5-9 5 21 5 1 5 11 5 23 5 9 5-6 5-7 5 6 5 15 5-8 5-14 5 16 5-46 5 12 5 12 5 0 5 7 5-18 5 0 5-6 5-28 5 6 5 21 5-15 5-18 5-2 5 22 5-6 5 3 5-13 5-30 5-5 5-26 5 38 5-9 5 9 5-47 5 33 5-29 5-15 5-3 5-27 5 7 5-18 5 3 5 11 5-13 5 10 5-20 5-2 5-9 5 6 5-10 5 7 5-22 5-9 5 10 5 19 5-19 5-42 5 26 5-13 5-3 5 13 5-14 5-2 5-24 5 16 5-14 5 11 5 8 5-34 5 1 5 8 5-34 5 11 5-16 5 10 5 4 5-1 5 21 5-13 5-6 5 16 5 9 5-36 5-1 5 14 5 15 5-48 5 30 5 43 5-37 5 31 5 6 5-31 5 17 5-41 5-32 5 9 5 27 5 15 5-33 5-35 5 22 5-31 5 28 5 17 5-49 5-6 5 0 5-2 5 11 5 4 5 11 5-19 5 38 5-4 5-16 5 9 5 2 5-14 5 61 5-10 5-3 5 19 5-9 5 0 5 31 5-31 5 3 5-4 5 29 5 32 5-17 5 29 5-24 5 19 5-18 5 25 5 22 5-26 5-10 5 27 5 14 5-16 5 44 5-40 5 32 5 15 5-12 5 23 5-4 5-2 5 8 5 43 5-40 5 37 5-3 5 13 5 28 5-19 5 2 5 50 5 12 5-7 5-5 5 6 5 27 5 9 5 11 5 13 5-5 5 19 5-3 5 17 5-5 5 14 5-16 5 13 5-9 5 29 5-15 5-1 5-1 5-4 5 1 5 25 5 2 5 4 5-20 5 14 5-31 5 44 5-31 5 32 5-7 5 19 5-30 5-24 5 37 5-16 5-7 5 4 5-37 5-36 5 23 5-14 5 5 5-32 5-2 5-31 5 16 5-23 5-39 5 13 5-11 5-28 5-32 5 3 5-13 5-16 5 2 5-7 5-24 5 14 5-24 5 10 5-8 5 8 5-28 5 8 5-31 5 44 5 12 5-32 5 10 5 3 5-13 5 17 5-28 5 9 5 1 5-7 5-14 5 35 5-10 5-10 5-9 5 13 5-12 5 17 5-12 5 1 5 5 5-19 5-1 5 0 5-14 5-48 5 45 5-25 5 1 5 7 5-37 5 3 5-48 5 48 5-28 5-9 5-1 5 7 5-40 5 50 5-36 5-11 5 16 5-19 5-11 5-26 5 28 5-9 5-11 5 10 5 12 5-10 5 25 5-19 5 23 5-12 5 11 5-23 5 15 5 14 5-1 5-7 5 15 5-13 5 5 5 16 5 2 5-1 5-20 5-21 5 2 5 20 5-14 5 19 5-29 5 16 5-36 5 16 5 10 5-2 5-3 5-19 5 19 5-8 5-7 5 11 5-14 5-3 5 37 5-33 5 10 5-33 5 0 5-17 5 1 5-1 5 23 5-18 5-3 5-4 5 13 5-19 5 13 5-22 5 19 5-1 5 18 5-19 5 17 5 4 5-6 5 22 5-10 5 2 5-20" fill="none" stroke="#0072bd" stroke-width="75.0" stroke-linejoin="round" shape-rendering="crispEdges"/><path transform="scale(.1)" d="M9268 2297l5 10 5 1 5 16 5 2 5 13 5 2 5-1 5-5 5 5 5 24 5-16 5 11 5 10 5-12 5-29 5 9 5 41 5-54 5 49 5-28 5 25 5 19 5-19 5 33 5-40 5 31 5 2 5 20 5 14 5 10 5-1 5-10 5 2 5 22 5-3 5-13 5 7 5 42 5 7 5 21 5 18 5-10 5 39 5-7 5 37 5 8 5 32 5-11 5-9 5 9 5 1 5 6 5 5 5-26 5-3 5 31 5-11 5 21 5-4 5 19 5-9 5-21 5 9 5 15 5-24 5 13 5 5 5 4 5-8 5-39 5 34 5-38 5 4 5-21 5 12 5-21 5-4 5-5 5-16 5-24 5 22 5-22 5-16 5-50 5-19 5 42 5-21 5-50 5 19 5-13 5-30 5-1 5 14 5-47 5 5 5-28 5-16 5 53 5-26 5-9 5 0 5 3 5-5 5 25 5 10 5-13 5 7 5-9 5 23 5-31 5 28 5 24 5-20 5 47 5-57 5 17 5 9 5 19 5 9 5-4 5-17 5 50 5 0 5 12 5-27 5 38 5-6 5 21 5 16 5-32 5 11 5 6 5-10 5 25 5 5 5-19 5 3 5 19 5-24 5 34 5 6 5-1 5-23 5 37 5 6 5-49 5 33 5-2 5-11 5-26 5 21 5-40 5 15 5 12 5-13 5-13 5 6 5-14 5 5 5-24 5-15 5 2 5-15 5 23 5 19 5-32 5 1 5-37 5 4 5-25 5 17 5-17 5-26 5 24 5-29 5 2 5-7 5 1 5-13 5-24 5-9 5-12 5-7 5 34 5-36 5 22 5-42 5-2 5 16 5-29 5-18 5 27 5-46 5 3 5 14 5 5 5-21 5-8 5 44 5-26 5-3 5 16 5 21 5-47 5 30 5 33 5 6 5-1 5 4 5 18 5 10 5-18 5 2 5 16 5-17 5-12 5 7 5-17 5 18 5-1 5-26 5 5 5-5 5 10 5-9 5-19 5-6 5 6 5-24 5-7 5-35 5 7 5-8 5-15 5-27 5-15 5 20 5-12 5-19 5-24 5-8 5-6 5-3 5-22 5-24 5-6 5-19 5 31 5-46 5 19 5-24 5 15 5-49 5 18 5-31 5-4 5-7 5-16 5-6 5 5 5 19 5-34 5-17 5 30 5 11 5-51 5 33 5-27 5-8 5 34 5 9 5 11 5-28 5-3 5 6 5 6 5 2 5 10 5-17 5 1 5 2 5-4 5 23 5 23 5-4 5-31 5 60 5-30 5 46 5 8 5-15 5 17 5-33 5 19 5-3 5 21 5 1 5 9 5 8 5 23 5-17 5 5 5 19 5 13 5 8 5-8 5 19 5 12 5-3 5-3 5 24 5-22 5 35 5-5 5 22 5 11 5 38 5 4 5 12 5-23 5 0 5 29 5-19 5 18 5-2 5 14 5 16 5-28 5 14 5 0 5 0 5-2 5-20 5-2 5-6 5-22 5 40 5-16 5 4 5-21 5-15 5 26 5-15 5 37 5 2 5-35 5 27 5-13 5-16 5-18 5 33 5 6 5-1 5-9 5 12 5 12 5-3 5-10 5 28 5 1 5-19 5 16 5 9 5-9 5 2 5-1 5-25 5 21 5-19 5 7 5 16 5-28 5 23 5-11 5 7 5-46 5-34 5 41 5 44 5-23 5-7 5 4 5 9 5-6 5 41 5-29 5-17 5-3 5 23 5 4 5 10 5-1 5 1 5-31 5 29 5-14 5 7 5-23 5 30 5-6 5-22 5-24 5 17 5-16 5-27 5 25 5-5 5-11 5-42 5 33 5-3 5-29 5 18 5-6 5 0 5-42 5 19 5 5 5-28 5 21 5 15 5-46 5 40 5-15 5-27 5-8 5-9 5 16 5-41 5 45 5-29 5 17 5 6 5 24 5-21 5 6 5 27 5 9 5-16 5-1 5 10 5 1 5 1 5-14 5-18 5 30 5-13 5 9 5-9 5 3 5-32 5 11 5-35 5 17 5 1 5-21 5 4 5 28 5-44 5 25 5-23 5 14 5-50 5 18 5 15 5 16 5-27 5-13 5 13 5 16 5-36 5 24 5-1 5-4 5 8 5-20 5 16 5-1 5 12 5-19 5-4 5-13 5 10 5-2 5 45 5-46 5 44 5 5 5 9 5-6 5 44 5-35 5-14 5 19 5 3 5 38 5-18 5-8 5 12 5 19 5 3 5 17 5 25 5-28 5 19 5 21 5-22 5 34 5 3 5-29 5 4 5-25 5-4 5-5 5-16 5 11 5-29 5 13 5-25 5 24 5-8 5-16 5-31 5 5 5-30 5 48 5-22 5-2 5 7 5-20 5 9 5 6 5 2 5 15 5-53 5 26 5-24 5-4 5 18 5-2 5-19 5 22 5 35 5-36 5 0 5 39 5-9 5-18 5 24 5-18 5-4 5 19 5-18 5 30 5 23 5-17 5 21 5 17 5 31 5 10 5 31 5 33 5-10 5 33 5 35 5 10 5-13 5 47 5-18 5 36 5-28 5 39 5-2 5 7 5 5 5 0 5 32 5 0 5 8 5-31 5 15 5-2 5-37 5 22 5-1 5-49 5-6 5 46 5-39 5-15 5-19 5 11 5-23 5 11 5-14 5 4 5-3 5-15 5 12 5 3 5-14 5-4 5 8 5 22 5-30 5-6 5 8 5-15 5 7 5 1 5-12 5 8 5-23 5-2 5-11 5 13 5 14 5 16 5 31 5-39 5-2 5 33 5-46 5 38 5-5 5 21 5-29 5 13 5-22 5 19 5 9 5-4 5 2 5 37 5-35 5 5 5 11 5 18 5 3 5 17 5-4 5 49 5-29 5 11 5 21 5 41 5-26 5 5 5 35 5-14 5-9 5 7 5 12 5-21 5 27 5-27 5 9 5-28 5-24 5 9 5-3 5-28 5 32 5-30 5 1 5-23 5 12 5 1 5-49 5-25 5 4 5-13 5-2 5-49 5 33 5-22 5-19 5-21 5 5 5-3 5-17 5-7 5-20 5-11 5-44 5 29 5-22 5-38 5-14 5-35 5-4 5 4 5-31 5-21 5-8 5-3 5-36 5 8 5-8 5-9 5-14 5-11 5-13 5 10 5-35 5 25 5-47 5 11 5 4 5-33 5 27 5 0 5-37 5 9 5 6 5-8 5 4 5-38 5 26 5 22 5-34 5 12 5 21 5-4 5-11 5 12 5 19 5 7 5 30 5-1 5-1 5 1 5 15 5 33 5-35 5 2 5-3 5 26 5-10 5-2 5 21 5 2 5 28 5 10 5-27 5 0 5 22 5-9 5-5 5 19 5-17 5 27 5 25 5-50 5 21 5-12 5 17 5-12 5-33 5 0 5-15 5 24 5-30 5 9 5 7 5-30 5-10 5-8 5-2 5 2 5-12 5 9 5-9 5 18 5-2 5 9 5-23 5-2 5 39 5-5 5-31 5 25 5 22 5 18 5 23 5-15 5-7 5-11 5 3 5 9 5-3 5 15 5 21 5-3 5-18 5 27 5 9 5-16 5 3 5 10 5 9 5-27 5 24 5-2 5 26 5 13 5-5 5 30 5-4 5 2 5 6 5-9 5 54 5-18 5-16 5 40 5 17 5-23 5 28 5 24 5-9 5-8 5-4 5-1 5-21 5 4 5 7 5-7 5 14 5-47 5 57 5-46 5-4 5 7 5 10 5-20 5 15 5-9 5-15 5-12 5-6 5-1 5-28 5 37 5-24 5-4 5-15 5-4 5 31 5-46 5 39 5-15 5-3 5 40 5-18 5 27 5-13 5-25 5 39 5-10 5 20 5 2 5 12 5-6 5-7 5-16 5-26 5-18 5 25 5-30 5 2 5 0 5-5 5-6 5-20 5-6 5-9 5-9 5-26 5 12 5 5 5-12 5 0 5-38 5 17 5 50 5-43 5 16 5 7 5-9 5-10 5-1 5-20 5 39 5-16 5 10 5-34 5-8 5-4 5 43 5-21 5-5 5 7 5-6 5 0 5-14 5-5 5 23 5 16 5-17 5 16 5-3 5 22 5-22 5 44 5 6 5-23 5 1 5-19 5 39 5-6 5 10 5-22 5 42 5 19 5-40 5 19 5 28 5 1 5 3 5 42 5-17 5-6 5-35 5 48 5-8 5 14 5 46 5-24 5 20 5 32 5-26 5 8 5-1 5 16 5-9 5 32 5-9 5 25 5 10 5-1 5 12 5 1 5 27 5 18 5 7 5 24 5-10 5 8 5 16 5-23 5 23 5-17 5 38 5 16 5-26 5 18 5 11 5 26 5-11 5 10 5-19 5-8 5-54 5-19 5 36 5 4 5-67 5-8 5 14 5 3 5-55 5-2 5 13 5-16 5-10 5 0 5-35 5-4 5 29 5-51 5 30 5-26 5 24 5-29 5-9 5 17 5-21 5 2 5-32 5 45 5-5 5 26 5-15 5-4 5 41 5-16 5 1 5-14 5 42 5-5 5-26 5 27 5-5 5 8 5-18 5 28 5-59 5 3 5 31 5 4 5-10 5 27 5-32 5-35 5 45 5-21 5-7 5 15 5 0 5-9 5 22 5 2 5-2 5 5 5-22 5 19 5 5 5 12 5 26 5-22 5-4 5-9 5 22 5-7 5 0 5 23 5-18 5 19 5 29 5-11 5-11 5 12 5 2 5 37 5 4 5 8 5-24 5 12 5 18 5-27 5 13 5 29 5-15 5-1 5 22 5-5 5-3 5 10 5-26 5 34 5-1 5 12 5 1 5 15 5-31 5 29 5 27 5-35 5-8 5 0 5-10 5 61 5-40 5 11 5-24 5 8 5-2 5-12 5 17 5 24 5-28 5 28 5 17 5-20 5 15 5-2 5-26 5 5 5-21 5 12 5 23 5-17 5-8 5-6 5-3 5 1 5 41 5-16 5-13 5-11 5-12 5 14 5-22 5-4 5-7 5 21 5-19 5 18 5-31 5 1 5 0 5 26 5-22 5 13 5 36 5-11 5-8 5 4 5-46 5 18 5 44 5-25 5 2 5 21 5-33 5 22 5-7 5 7" fill="none" stroke="#d95319" stroke-width="75.0" stroke-linejoin="round" shape-rendering="crispEdges"/></g><g clip-path="url(#cp01)"><path transform="scale(.1)" d="M9260 2080h10v-29h10v20h10v-27h10v-5h10v2h10v1h10v-21h10v-17h10v15h10v-17h10v17h10v-15h10v-11h10v-7h10v40h10v7h10v45h10v4h10v41h10v29h10v31h10v-15h10v12h10v46h10v20h10v0h10v36h10v-12h10v-21h10v8h10v-5h10v29h10v-15h10v10h10v-51h10v45h10v-39h10v29h10v37h10v20h10v2h10v-14h10v5h10v1h10v-22h10v-3h10v-8h10v22h10v-32h10v24h10v-6h10v-15h10v23h10v-23h10v16h10v-2h10v-5h10v-20h10v9h10v-6h10v4h10v-5h10v51h10v-2h10v9h10v-15h10v10h10v18h10v21h10v1h10v20h10v-8h10v7h10v-8h10v7h10v28h10v-5h10v25h10v10h10v-10h10v28h10v2h10v-18h10v37h10v-27h10v42h10v-3h10v17h10v-82h10v28h10v-6h10v-8h10v-33h10v4h10v-39h10v-40h10v1h10v-71h10v-21h10v-19h10v-9h10v-45h10v59h10v1h10v-19h10v-16h10v21h10v-11h10v29h10v22h10v-19h10v21h10v3h10v-6h10v26h10v-33h10v33h10v-38h10v53h10v-13h10v-3h10v29h10v7h10v-18h10v3h10v8h10v33h10v-66h10v51h10v-18h10v54h10v22h10v-1h10v-23h10v-11h10v-23h10v-22h10v-35h10v-18h10v7h10v-61h10v-25h10v-24h10v-65h10v0h10v-27h10v-36h10v-87h10v53h10v-34h10v-57h10v24h10v-38h10v-1h10v-33h10v15h10v-23h10v-26h10v-24h10v-26h10v36h10v7h10v-61h10v61h10v26h10v-16h10v-5h10v6h10v-2h10v-37h10v47h10v29h10v1h10v14h10v-9h10v0h10v28h10v24h10v-3h10v21h10v3h10v-8h10v25h10v-13h10v32h10v8h10v-4h10v38h10v4h10v42h10v-6h10v27h10v-4h10v47h10v22h10v-24h10v24h10v-23h10v17h10v-6h10v0h10v17h10v-6h10v16h10v0h10v-10h10v21h10v-10h10v2h10v-30h10v-37h10v42h10v-27h10v-15h10v-4h10v-39h10v2h10v9h10v-14h10v-47h10v31h10v2h10v-1h10v-13h10v15h10v13h10v-1h10v16h10v11h10v-33h10v27h10v23h10v3h10v14h10v7h10v29h10v20h10v2h10v29h10v-27h10v-1h10v23h10v-25h10v-9h10v-19h10v-14h10v-13h10v-40h10v-45h10v-36h10v-55h10v-61h10v-17h10v-27h10v-32h10v-32h10v-7h10v-8h10v-4h10v56h10v0h10v36h10v12h10v31h10v21h10v26h10v0h10v-7h10v-2h10v-24h10v42h10v-9h10v26h10v-16h10v-58h10v46h10v4h10v-21h10v-13h10v-26h10v-6h10v-20h10v-8h10v-7h10v1h10v-24h10v-11h10v-22h10v11h10v-20h10v24h10v-10h10v-23h10v17h10v8h10v17h10v-14h10v33h10v-12h10v-18h10v-41h10v57h10v-7h10v-4h10v-1h10v12h10v-18h10v-13h10v3h10v1h10v-8h10v5h10v-26h10v35h10v-3h10v8h10v-38h10v0h10v3h10v-15h10v-7h10v-4h10v5h10v-10h10v17h10v3h10v31h10v7h10v-48h10v52h10v23h10v-22h10v59h10v31h10v19h10v-2h10v20h10v1h10v23h10v44h10v-15h10v48h10v32h10v24h10v12h10v3h10v0h10v21h10v29h10v20h10v-7h10v-14h10v51h10v6h10v13h10v-8h10v17h10v-51h10v57h10v6h10v1h10v-10h10v-3h10v0h10v9h10v-8h10v-4h10v6h10v-45h10v17h10v-2h10v11h10v-12h10v-63h10v43h10v-36h10v-19h10v-43h10v14h10v14h10v1h10v-1h10v-9h10v21h10v-3h10v31h10v9h10v-5h10v22h10v20h10v-14h10v49h10v11h10v15h10v6h10v22h10v12h10v31h10v-6h10v-1h10v-6h10v-29h10v-17h10v20h10v-10h10v-15h10v-8h10v-17h10v-1h10v-13h10v9h10v-36h10v1h10v-6h10v-23h10v-17h10v-32h10v3h10v-37h10v34h10v-21h10v-41h10v31h10v-36h10v-20h10v17h10v-5h10v15h10v-38h10v30h10v-24h10v5h10v-29h10v-2h10v2h10v-20h10v15h10v-18h10v-9h10v19h10v-3h10v13h10v14h10v-35h10v-2h10v13h10v-60h10v28h10v-3h10v-53h10v21h10v-9h10v-25h10v54h10v5h10v-2h10v24h10v9h10v3h10v31h10v-52h10v63h10v14h10v20h10v-13h10v1h10v25h10v-36h10v67h10v-1h10v-14h10v45h10v26h10v26h10v-15h10v43h10v-9h10v60h10v5h10v4h10v43h10v13h10v23h10v-33h10v-7h10v65h10v-10h10v5h10v9h10v-13h10v8h10v-5h10v6h10v-9h10v-4h10v-13h10v6h10v-4h10v-31h10v-15h10v-24h10v-35h10v-44h10v-34h10v-3h10v-22h10v-27h10v13h10v-18h10v-33h10v4h10v3h10v2h10v-10h10v12h10v-26h10v-24h10v28h10v14h10v0h10v2h10v-10h10v11h10v-26h10v-40h10v-5h10v-64h10v29h10v-27h10v-3h10v-2h10v-23h10v-13h10v-4h10v-10h10v1h10v-16h10v25h10v-13h10v22h10v-2h10v13h10v-7h10v0h10v-17h10v0h10v-5h10v-2h10v-5h10v-3h10v-6h10v-42h10v10h10v52h10v-9h10v0h10v-32h10v2h10v-11h10v0h10v12h10v-33h10v37h10v3h10v-34h10v3h10v42h10v-4h10v-14h10v-6h10v-7h10V2094h-10v15h-10v-20h-10v6h-10v40h-10v-24h-10v-54h-10v14h-10v18h-10v0h-10v7h-10v-10h-10v17h-10v21h-10v18h-10v-6h-10v10h-10v5h-10v-8h-10v11h-10v17h-10v-13h-10v57h-10v-42h-10v-9h-10v-7h-10v29h-10v-20h-10v28h-10v-29h-10v2h-10v-5h-10v-36h-10v18h-10v13h-10v-20h-10v62h-10v-43h-10v3h-10v34h-10v8h-10v-11h-10v-1h-10v23h-10v27h-10v-6h-10v-8h-10v60h-10v3h-10v7h-10v14h-10v1h-10v-7h-10v2h-10v-2h-10v-1h-10v1h-10v11h-10v-12h-10v-4h-10v7h-10v40h-10v0h-10v22h-10v27h-10v-12h-10v28h-10v21h-10v28h-10v25h-10v31h-10v29h-10v19h-10v63h-10v-21h-10v10h-10v0h-10v31h-10v-3h-10v22h-10v-27h-10v7h-10v-25h-10v-5h-10v4h-10v24h-10v-33h-10v9h-10v1h-10v-19h-10v-8h-10v-49h-10v-5h-10v-12h-10v-37h-10v-29h-10v-21h-10v-23h-10v-7h-10v-26h-10v-8h-10v11h-10v-19h-10v-18h-10v-5h-10v-17h-10v1h-10v2h-10v-33h-10v-17h-10v1h-10v-7h-10v29h-10v-55h-10v-10h-10v-33h-10v21h-10v-23h-10v-31h-10v5h-10v35h-10v-7h-10v4h-10v22h-10v-3h-10v-3h-10v-12h-10v8h-10v59h-10v-19h-10v-17h-10v7h-10v20h-10v-8h-10v-2h-10v-11h-10v20h-10v-5h-10v-2h-10v80h-10v-68h-10v29h-10v27h-10v5h-10v3h-10v9h-10v-5h-10v-1h-10v19h-10v-10h-10v22h-10v16h-10v12h-10v-4h-10v10h-10v19h-10v0h-10v36h-10v-8h-10v22h-10v6h-10v-4h-10v20h-10v13h-10v-1h-10v26h-10v17h-10v-20h-10v44h-10v-23h-10v17h-10v5h-10v7h-10v-24h-10v-23h-10v8h-10v-31h-10v-29h-10v6h-10v-34h-10v-19h-10v-3h-10v9h-10v-55h-10v-4h-10v-11h-10v-17h-10v6h-10v-29h-10v-11h-10v14h-10v-20h-10v-1h-10v43h-10v-7h-10v13h-10v33h-10v13h-10v8h-10v34h-10v-32h-10v21h-10v-1h-10v22h-10v7h-10v-5h-10v-3h-10v17h-10v-24h-10v57h-10v-38h-10v10h-10v3h-10v-32h-10v6h-10v-12h-10v-14h-10v13h-10v32h-10v-46h-10v1h-10v-21h-10v-5h-10v-42h-10v12h-10v-24h-10v25h-10v-45h-10v-8h-10v-35h-10v-29h-10v6h-10v-15h-10v6h-10v-59h-10v-22h-10v-16h-10v-10h-10v-31h-10v-48h-10v4h-10v-16h-10v-26h-10v3h-10v-20h-10v4h-10v0h-10v6h-10v-34h-10v6h-10v-12h-10v8h-10v24h-10v-12h-10v3h-10v12h-10v-3h-10v8h-10v-2h-10v7h-10v-4h-10v27h-10v-1h-10v3h-10v32h-10v-11h-10v-4h-10v5h-10v15h-10v1h-10v-22h-10v4h-10v10h-10v15h-10v-19h-10v25h-10v-21h-10v-11h-10v-3h-10v12h-10v27h-10v-51h-10v17h-10v-21h-10v3h-10v31h-10v-8h-10v-1h-10v19h-10v25h-10v8h-10v7h-10v21h-10v-2h-10v38h-10v11h-10v0h-10v4h-10v17h-10v-17h-10v28h-10v-16h-10v7h-10v-23h-10v-7h-10v3h-10v-12h-10v-34h-10v-51h-10v21h-10v-33h-10v-13h-10v-35h-10v2h-10v-6h-10v31h-10v-5h-10v18h-10v43h-10v52h-10v47h-10v76h-10v28h-10v19h-10v13h-10v40h-10v15h-10v36h-10v-27h-10v52h-10v-22h-10v-9h-10v17h-10v10h-10v-28h-10v-26h-10v-19h-10v-27h-10v-12h-10v-5h-10v-15h-10v-4h-10v27h-10v-36h-10v1h-10v4h-10v21h-10v-16h-10v3h-10v-4h-10v36h-10v-40h-10v-3h-10v-5h-10v7h-10v12h-10v9h-10v45h-10v30h-10v1h-10v-9h-10v10h-10v56h-10v-21h-10v13h-10v-24h-10v2h-10v10h-10v-1h-10v-28h-10v47h-10v-47h-10v-4h-10v24h-10v-8h-10v-39h-10v24h-10v-41h-10v-3h-10v-56h-10v-12h-10v-9h-10v33h-10v-69h-10v-8h-10v-36h-10v-3h-10v-28h-10v-7h-10v-28h-10v4h-10v-2h-10v-19h-10v8h-10v-2h-10v-48h-10v-1h-10v-8h-10v-25h-10v2h-10v10h-10v-34h-10v15h-10v-4h-10v-16h-10v-10h-10v45h-10v-24h-10v-24h-10v13h-10v9h-10v-12h-10v-1h-10v19h-10v35h-10v-2h-10v9h-10v40h-10v-17h-10v11h-10v34h-10v1h-10v25h-10v10h-10v36h-10v36h-10v54h-10v3h-10v30h-10v50h-10v22h-10v66h-10v4h-10v20h-10v33h-10v25h-10v15h-10v10h-10v10h-10v-4h-10v36h-10v-65h-10v-10h-10v3h-10v11h-10v-35h-10v8h-10v7h-10v3h-10v-33h-10v-11h-10v3h-10v27h-10v-10h-10v-14h-10v-16h-10v6h-10v-27h-10v16h-10v0h-10v-22h-10v17h-10v-24h-10v0h-10v20h-10v-42h-10v11h-10v-4h-10v15h-10v-9h-10v-9h-10v31h-10v-3h-10v20h-10v57h-10v13h-10v44h-10v22h-10v33h-10v19h-10v29h-10v5h-10v16h-10v27h-10v5h-10v-7h-10v-20h-10v-10h-10v3h-10v-17h-10v-25h-10v10h-10v28h-10v22h-10v-52h-10v24h-10v-18h-10v-37h-10v-34h-10v49h-10v-36h-10v-4h-10v-3h-10v-9h-10v-33h-10v10h-10v-21h-10v-4h-10v-2h-10v-31h-10v-11h-10v0h-10v19h-10v-18h-10v23h-10v2h-10v-3h-10v-5h-10v39h-10v-7h-10v13h-10v-3h-10v4h-10v2h-10v1h-10v-15h-10v5h-10v2h-10v-22h-10v10h-10v-2h-10v0h-10v-13h-10v-13h-10v-12h-10v2h-10v-11h-10v41h-10v-7h-10v-28h-10v-18h-10v16h-10v2h-10v11h-10v-24h-10v-15h-10v-24h-10v-34h-10v7h-10v-33h-10v8h-10v-28h-10v-56h-10v-22h-10v-6h-10v-37h-10v-8h-10v8h-10v-18h-10v-64h-10v8h-10v7h-10v6h-10v8h-10v3h-10v24h-10v17h-10v-1h-10v-35h-10v68h-10v-21h-10v0h-10Z" fill="#0072bd" fill-opacity="0.3" shape-rendering="crispEdges"/><path transform="scale(.1)" d="M9260 2149h10v26h10v-60h10v82h10v-12h10v15h10v-9h10v27h10v-2h10v-3h10v6h10v21h10v11h10v-4h10v20h10v13h10v-1h10v38h10v4h10v4h10v39h10v22h10v29h10v39h10v17h10v-34h10v24h10v17h10v15h10v-9h10v0h10v2h10v0h10v6h10v-27h10v37h10v-63h10v21h10v-20h10v-24h10v-13h10v-14h10v-72h10v-35h10v2h10v-11h10v-27h10v-24h10v-30h10v-9h10v-4h10v24h10v-10h10v20h10v14h10v13h10v1h10v-18h10v25h10v14h10v13h10v5h10v10h10v51h10v-10h10v21h10v5h10v-13h10v23h10v5h10v11h10v4h10v-10h10v-6h10v3h10v-6h10v-3h10v-19h10v-11h10v-7h10v-3h10v-7h10v-23h10v-16h10v-6h10v-17h10v-41h10v-17h10v7h10v-32h10v-6h10v-42h10v-9h10v18h10v-20h10v-18h10v-17h10v-8h10v-38h10v35h10v7h10v7h10v-4h10v12h10v33h10v-4h10v15h10v-7h10v-3h10v-5h10v-6h10v9h10v-24h10v-29h10v-9h10v3h10v-27h10v-54h10v-37h10v37h10v-80h10v29h10v-28h10v-31h10v-35h10v-16h10v-53h10v-35h10v13h10v-25h10v19h10v3h10v-37h10v57h10v-34h10v0h10v-33h10v22h10v-34h10v15h10v4h10v27h10v-2h10v11h10v20h10v16h10v17h10v-12h10v18h10v35h10v22h10v-40h10v65h10v25h10v29h10v-36h10v60h10v4h10v-28h10v57h10v13h10v-28h10v45h10v6h10v31h10v-1h10v-8h10v-41h10v26h10v-47h10v35h10v3h10v6h10v-22h10v9h10v3h10v-13h10v-12h10v26h10v28h10v-5h10v2h10v-15h10v18h10v-18h10v14h10v-27h10v20h10v-27h10v-3h10v-22h10v35h10v-5h10v-10h10v10h10v-31h10v57h10v-11h10v9h10v-7h10v-29h10v-9h10v18h10v-14h10v-12h10v-20h10v-15h10v-18h10v6h10v-14h10v-34h10v-5h10v19h10v-14h10v-2h10v-10h10v31h10v-20h10v17h10v-58h10v63h10v15h10v-16h10v-8h10v-32h10v-12h10v26h10v-18h10v6h10v-36h10v12h10v-6h10v8h10v-29h10v6h10v22h10v-26h10v-42h10v54h10v-15h10v-2h10v-33h10v34h10v38h10v-5h10v-6h10v28h10v-26h10v58h10v11h10v6h10v19h10v31h10v17h10v0h10v-7h10v-17h10v-15h10v-33h10v10h10v18h10v-26h10v-64h10v32h10v8h10v-26h10v7h10v0h10v-61h10v38h10v-14h10v29h10v-9h10v6h10v8h10v15h10v-31h10v35h10v14h10v44h10v-2h10v54h10v60h10v-9h10v56h10v43h10v8h10v17h10v18h10v11h10v-19h10v-5h10v-23h10v7h10v-19h10v-14h10v10h10v-49h10v-8h10v-7h10v11h10v-1h10v-4h10v6h10v0h10v-18h10v0h10v-9h10v-30h10v-5h10v40h10v-19h10v20h10v29h10v-10h10v-9h10v-4h10v34h10v5h10v26h10v13h10v-7h10v21h10v20h10v42h10v-26h10v61h10v-10h10v-37h10v2h10v-7h10v-21h10v-14h10v-21h10v-13h10v-37h10v-14h10v-34h10v-22h10v6h10v-78h10v26h10v-20h10v-45h10v-19h10v-83h10v22h10v-58h10v-16h10v-34h10v-21h10v3h10v-22h10v-33h10v-19h10v-17h10v-17h10v-26h10v17h10v-9h10v30h10v-8h10v4h10v-2h10v26h10v20h10v3h10v23h10v-16h10v42h10v-21h10v56h10v-21h10v-28h10v37h10v-8h10v24h10v-1h10v-13h10v9h10v-11h10v-21h10v-1h10v-29h10v-1h10v-4h10v-42h10v-4h10v24h10v-9h10v29h10v-2h10v16h10v-1h10v-7h10v49h10v-51h10v24h10v30h10v-26h10v-12h10v46h10v11h10v19h10v10h10v14h10v-10h10v40h10v47h10v23h10v14h10v3h10v-16h10v-32h10v29h10v-7h10v-6h10v1h10v-6h10v-18h10v-38h10v5h10v-19h10v-10h10v24h10v-8h10v1h10v10h10v42h10v-25h10v-14h10v41h10v4h10v-12h10v-16h10v1h10v-89h10v26h10v-5h10v-20h10v-19h10v-5h10v-24h10v20h10v-53h10v12h10v30h10v-17h10v-3h10v2h10v7h10v-27h10v10h10v-5h10v8h10v17h10v0h10v13h10v13h10v4h10v1h10v-8h10v33h10v-20h10v47h10v10h10v25h10v-17h10v58h10v-9h10v35h10v-1h10v19h10v27h10v8h10v24h10v23h10v-18h10v37h10v14h10v23h10v25h10v7h10v-4h10v-35h10v71h10v-7h10v-30h10v-15h10v-23h10v-15h10v-41h10v0h10v-35h10v1h10v13h10v-70h10v26h10v-18h10v-6h10v-3h10v14h10v-6h10v0h10v33h10v-7h10v2h10v-9h10v14h10v5h10v0h10v-17h10v17h10v-18h10v-1h10v12h10v-3h10v18h10v-3h10v14h10v0h10v18h10v11h10v-17h10v25h10v23h10v-10h10v14h10v-19h10v27h10v42h10v-11h10v22h10v13h10v-5h10v-19h10v-13h10v52h10v11h10v-3h10v-5h10v10h10v-29h10v30h10v-64h10v28h10v-7h10v37h10v14h10v-13h10v-23h10v35h10v-6h10v-14h10v7h10v1h10v-33h10v-8h10v-28h10v-21h10v4h10v37h10v-6h10v-2h10v11h10v7h10v12h10v10h10v-34h10v5h10v-9h10v3h10V2431h-10v2h-10v-9h-10v-24h-10v35h-10v19h-10v-24h-10v-29h-10v-5h-10v-7h-10v2h-10v-18h-10v0h-10v12h-10v0h-10v12h-10v20h-10v48h-10v-73h-10v19h-10v20h-10v9h-10v-18h-10v9h-10v8h-10v-33h-10v-15h-10v27h-10v-16h-10v10h-10v-11h-10v5h-10v-3h-10v18h-10v-25h-10v-18h-10v-1h-10v-16h-10v22h-10v-28h-10v-14h-10v1h-10v-28h-10v48h-10v-67h-10v-13h-10v0h-10v-24h-10v-6h-10v1h-10v-2h-10v-2h-10v-21h-10v-6h-10v2h-10v-24h-10v4h-10v25h-10v-28h-10v17h-10v-13h-10v16h-10v-16h-10v33h-10v-8h-10v10h-10v-13h-10v-4h-10v-12h-10v-7h-10v-21h-10v5h-10v-16h-10v4h-10v12h-10v-9h-10v57h-10v-4h-10v26h-10v15h-10v30h-10v9h-10v30h-10v16h-10v42h-10v35h-10v-1h-10v2h-10v-16h-10v0h-10v-15h-10v-21h-10v-27h-10v-26h-10v-42h-10v31h-10v-46h-10v-20h-10v-15h-10v20h-10v-60h-10v6h-10v-28h-10v-9h-10v-45h-10v2h-10v-18h-10v-7h-10v-24h-10v1h-10v-12h-10v-24h-10v10h-10v-5h-10v13h-10v-37h-10v-12h-10v-24h-10v24h-10v-17h-10v8h-10v24h-10v-10h-10v-1h-10v5h-10v7h-10v-11h-10v16h-10v60h-10v-75h-10v-4h-10v15h-10v15h-10v19h-10v1h-10v27h-10v33h-10v4h-10v31h-10v8h-10v-18h-10v0h-10v-21h-10v7h-10v-1h-10v-37h-10v6h-10v9h-10v-7h-10v26h-10v-1h-10v37h-10v14h-10v-22h-10v6h-10v14h-10v45h-10v-26h-10v29h-10v-25h-10v14h-10v-10h-10v-14h-10v2h-10v-27h-10v-14h-10v-21h-10v0h-10v-15h-10v-22h-10v1h-10v-22h-10v59h-10v-76h-10v-13h-10v2h-10v-18h-10v-26h-10v4h-10v3h-10v-33h-10v11h-10v-22h-10v11h-10v-24h-10v-11h-10v33h-10v3h-10v20h-10v66h-10v-47h-10v31h-10v19h-10v-29h-10v24h-10v-15h-10v-13h-10v-3h-10v32h-10v-60h-10v10h-10v-40h-10v-11h-10v19h-10v-36h-10v45h-10v-60h-10v-22h-10v4h-10v-18h-10v7h-10v-11h-10v-16h-10v-5h-10v18h-10v20h-10v2h-10v14h-10v8h-10v23h-10v28h-10v-6h-10v28h-10v20h-10v50h-10v4h-10v52h-10v39h-10v17h-10v68h-10v16h-10v27h-10v19h-10v9h-10v11h-10v27h-10v19h-10v33h-10v27h-10v30h-10v-7h-10v15h-10v16h-10v16h-10v20h-10v28h-10v-32h-10v-4h-10v-14h-10v-47h-10v-8h-10v7h-10v34h-10v-69h-10v-31h-10v51h-10v-29h-10v-19h-10v-9h-10v-26h-10v27h-10v-33h-10v-14h-10v25h-10v-35h-10v0h-10v27h-10v21h-10v-15h-10v-5h-10v66h-10v-64h-10v10h-10v14h-10v-6h-10v33h-10v13h-10v9h-10v18h-10v13h-10v37h-10v21h-10v-9h-10v-11h-10v-31h-10v-1h-10v-20h-10v-45h-10v-17h-10v-28h-10v-67h-10v-37h-10v-32h-10v-43h-10v-21h-10v-16h-10v7h-10v-7h-10v53h-10v-57h-10v-2h-10v-9h-10v-3h-10v-17h-10v25h-10v39h-10v-13h-10v-7h-10v-2h-10v28h-10v-10h-10v34h-10v48h-10v-62h-10v42h-10v21h-10v5h-10v13h-10v2h-10v0h-10v-33h-10v-14h-10v8h-10v-7h-10v-19h-10v32h-10v-29h-10v-43h-10v-10h-10v16h-10v-3h-10v-65h-10v26h-10v9h-10v33h-10v-38h-10v77h-10v-62h-10v8h-10v8h-10v-9h-10v12h-10v8h-10v-1h-10v11h-10v2h-10v14h-10v11h-10v16h-10v13h-10v9h-10v-23h-10v-30h-10v3h-10v-17h-10v23h-10v-22h-10v0h-10v20h-10v7h-10v13h-10v-1h-10v14h-10v-14h-10v1h-10v12h-10v38h-10v-5h-10v7h-10v24h-10v39h-10v-22h-10v13h-10v18h-10v-5h-10v34h-10v-30h-10v-26h-10v19h-10v-8h-10v-21h-10v2h-10v-2h-10v-7h-10v62h-10v-44h-10v15h-10v-4h-10v29h-10v-14h-10v-30h-10v-5h-10v-2h-10v-1h-10v-21h-10v-9h-10v18h-10v-8h-10v53h-10v-47h-10v-5h-10v17h-10v31h-10v-10h-10v-21h-10v47h-10v-22h-10v-6h-10v12h-10v-26h-10v-11h-10v-7h-10v14h-10v-46h-10v-18h-10v-17h-10v-10h-10v-17h-10v-26h-10v-13h-10v-27h-10v41h-10v-54h-10v-27h-10v-2h-10v37h-10v-65h-10v-12h-10v-19h-10v5h-10v24h-10v-62h-10v2h-10v38h-10v-57h-10v6h-10v0h-10v-4h-10v47h-10v-26h-10v21h-10v5h-10v8h-10v24h-10v23h-10v-4h-10v26h-10v28h-10v48h-10v-11h-10v24h-10v17h-10v78h-10v-29h-10v32h-10v6h-10v39h-10v-1h-10v27h-10v12h-10v4h-10v25h-10v17h-10v-10h-10v30h-10v-2h-10v21h-10v-69h-10v-6h-10v-26h-10v11h-10v-41h-10v11h-10v-21h-10v12h-10v25h-10v18h-10v10h-10v58h-10v-19h-10v-18h-10v53h-10v-20h-10v31h-10v4h-10v41h-10v56h-10v-22h-10v0h-10v12h-10v10h-10v11h-10v5h-10v16h-10v-3h-10v24h-10v4h-10v24h-10v26h-10v-41h-10v-1h-10v3h-10v-1h-10v-18h-10v40h-10v-49h-10v34h-10v-60h-10v8h-10v-33h-10v-15h-10v-2h-10v4h-10v-26h-10v16h-10v5h-10v-35h-10v7h-10v-1h-10v-43h-10v51h-10v-47h-10v-13h-10v25h-10v25h-10v29h-10v37h-10v28h-10v2h-10v31h-10v32h-10v63h-10v-22h-10v25h-10v0h-10v16h-10v23h-10v51h-10v-41h-10v17h-10v-20h-10v-4h-10v-1h-10v7h-10v-3h-10v-2h-10v-18h-10v6h-10v-24h-10v-37h-10v-31h-10v-17h-10v-45h-10v-8h-10v-16h-10v-22h-10v-2h-10v-31h-10v-22h-10v0h-10v8h-10v-42h-10v11h-10v18h-10v11h-10v-12h-10v2h-10v-26h-10v11h-10v10h-10v-26h-10v-16h-10Z" fill="#d95319" fill-opacity="0.3" shape-rendering="crispEdges"/></g>
<path d="M298 898.3V892.3M298 539.8V545.8M422 898.3V892.3M422 539.8V545.8M545.9 898.3V892.3M545.9 539.8V545.8M669.9 898.3V892.3M669.9 539.8V545.8M174 584.6H180M744.3 584.6H738.3M174 719H180M744.3 719H738.3M174 853.5H180M744.3 853.5H738.3" stroke="#262626" stroke-width="1.5" fill="none"/>
<rect x="174" y="539.8" width="570.3" height="358.5" fill="none" stroke="#262626" stroke-width="1.5"/>
<clipPath id="cp10"><rect x="174" y="539.8" width="570.3" height="358.5"/></clipPath>
<clipPath id="lp10"><rect x="170.5" y="539.8" width="577.3" height="358.5"/></clipPath>
<g clip-path="url(#lp10)"><path transform="scale(.1)" d="M1740 7150l5-3 5-14 5 8 5-2 5 8 5-16 5 20 5-35 5 28 5-22 5 19 5 15 5-1 5-5 5 4 5 24 5-41 5 28 5-34 5 14 5 8 5-14 5 16 5 10 5-26 5 19 5 2 5-17 5 30 5-4 5 39 5-28 5 43 5-30 5 40 5-19 5 2 5 7 5 7 5 5 5 2 5-32 5-16 5-22 5 34 5 12 5 0 5-1 5-5 5 0 5 6 5 6 5-30 5 35 5-39 5 18 5-9 5 3 5-9 5-3 5 13 5-12 5 53 5-44 5-5 5 0 5-6 5-22 5 34 5 7 5-26 5 24 5-21 5 16 5 4 5 1 5-6 5-18 5 17 5-16 5 14 5 2 5-14 5-13 5 28 5-18 5 8 5-8 5 33 5-13 5-26 5 42 5 11 5-13 5-36 5 5 5-1 5-2 5-18 5-21 5 22 5-10 5-34 5 13 5 4 5-13 5 6 5 1 5-2 5-14 5-26 5 23 5 15 5 10 5-35 5-7 5 22 5-2 5-15 5 0 5-28 5 24 5-20 5 12 5 2 5-2 5-27 5 17 5 19 5-6 5-4 5 16 5 7 5 11 5-18 5 12 5-4 5-10 5-10 5 18 5-13 5 44 5-31 5 1 5-2 5 38 5-37 5 19 5-5 5 11 5 3 5 29 5-34 5 24 5 23 5-41 5-2 5-19 5-40 5 26 5 5 5-39 5-33 5 20 5-17 5 2 5-14 5-27 5 1 5-39 5 37 5-19 5 7 5-5 5-28 5-3 5-17 5-22 5 21 5 2 5-25 5 22 5-16 5-1 5-24 5-18 5 29 5-8 5-11 5-9 5-4 5-4 5-13 5-21 5 36 5-40 5 18 5 1 5 13 5-16 5 47 5 3 5 10 5 14 5-20 5-28 5 59 5 19 5 6 5-21 5 12 5 13 5-18 5 28 5 12 5 45 5-21 5 47 5-12 5-21 5 69 5-37 5 33 5 26 5-24 5-1 5 53 5 1 5-5 5 18 5 26 5 34 5-1 5 29 5 28 5 12 5 19 5 13 5-25 5 59 5 3 5 11 5 5 5 13 5 27 5 40 5 3 5 25 5 23 5 32 5-2 5 21 5 36 5-16 5 25 5-15 5 31 5 1 5 7 5-7 5 1 5 16 5 0 5 31 5 7 5-32 5 33 5-18 5 8 5-18 5-21 5 33 5-10 5-31 5-12 5 19 5-10 5 8 5 9 5 10 5-34 5 20 5-4 5-29 5-24 5 34 5-9 5 25 5-18 5-16 5 5 5-41 5 13 5-13 5 25 5-21 5-58 5 64 5-40 5 30 5-22 5 9 5 2 5-10 5-23 5 29 5-26 5-7 5 10 5-24 5 33 5-19 5 0 5-7 5-23 5-11 5 20 5-2 5 4 5-15 5-20 5 24 5-5 5-4 5-15 5-25 5 32 5-32 5 16 5-26 5 35 5-23 5 27 5 12 5-13 5-39 5 3 5 0 5 22 5-8 5-8 5-1 5-2 5-1 5 15 5-27 5 7 5-29 5 11 5 10 5-10 5 21 5 16 5-20 5 2 5-4 5 11 5-9 5 12 5-5 5-8 5-2 5-18 5 1 5 15 5-33 5 5 5-18 5-15 5-3 5-12 5 7 5-18 5-7 5 21 5-29 5 14 5-21 5-1 5-30 5 5 5 27 5-33 5-10 5-20 5 3 5-31 5-8 5 14 5-4 5-21 5-3 5-8 5-4 5-16 5-10 5 16 5-34 5 7 5-3 5-17 5 13 5-16 5 3 5-15 5-1 5 19 5-1 5-12 5 11 5-7 5-4 5 20 5-34 5 9 5-6 5-12 5-17 5 29 5-8 5-8 5 0 5 3 5-18 5 23 5-27 5 26 5-16 5 16 5 15 5-12 5-8 5 12 5-8 5-9 5-1 5 24 5-15 5 1 5-34 5 23 5-29 5 28 5-20 5 44 5-61 5 47 5-9 5-41 5 21 5 24 5-5 5-43 5 15 5-15 5 1 5-1 5 37 5-27 5-7 5-6 5 11 5-1 5-22 5 26 5-41 5 10 5 5 5 24 5-33 5 4 5 13 5-13 5 0 5-1 5-14 5-3 5 3 5-18 5 15 5-53 5 10 5 31 5-18 5-19 5 12 5 13 5-29 5 18 5-14 5 0 5-6 5 14 5-35 5 11 5 13 5-33 5-11 5 28 5-11 5-7 5 1 5-21 5 56 5-57 5 8 5-14 5 10 5 26 5-23 5 4 5-19 5 29 5-27 5-24 5 28 5-23 5 14 5-8 5 5 5-6 5-19 5-12 5 37 5-22 5 4 5-15 5-27 5 13 5 38 5-36 5 5 5-20 5 12 5 2 5 2 5-1 5-10 5 1 5 2 5 1 5-9 5 25 5-21 5-3 5-16 5 28 5-34 5-13 5 7 5 17 5-31 5 34 5-24 5-23 5 15 5 26 5-46 5-10 5 25 5 8 5-7 5-21 5 9 5 9 5 17 5 19 5-24 5 28 5-15 5 21 5-20 5 9 5 19 5-17 5 29 5-17 5 14 5 0 5 3 5 17 5 13 5 37 5-70 5 21 5-8 5-12 5 9 5-22 5 9 5 28 5-52 5 38 5 1 5-19 5 28 5-1 5-19 5 25 5-40 5 25 5-10 5-11 5 6 5 3 5 16 5-37 5 26 5-8 5 27 5-35 5 31 5-40 5 28 5-14 5 9 5-19 5-22 5 1 5 41 5-17 5-9 5 21 5-23 5-1 5-2 5 30 5 10 5-54 5 13 5 1 5 6 5-82 5 26 5-6 5-49 5 8 5-23 5-4 5-25 5 9 5-16 5 24 5-6 5-8 5-16 5 44 5 2 5 0 5-21 5 12 5 32 5-13 5-18 5 11 5 1 5-2 5-11 5 44 5 1 5-13 5-21 5 21 5 6 5 19 5-22 5 22 5-12 5-10 5-33 5 28 5-9 5 22 5 4 5 15 5-26 5-15 5 47 5-32 5-9 5 0 5-22 5 27 5-12 5 14 5-10 5-7 5-1 5-28 5-4 5 0 5-20 5 14 5-12 5 9 5-11 5-33 5 24 5 18 5-56 5 10 5 9 5-29 5 9 5 11 5-23 5 24 5 5 5-27 5 26 5 17 5-19 5 15 5 6 5-7 5 24 5-10 5-19 5 29 5 8 5 10 5-18 5 24 5 25 5-9 5 24 5 8 5-16 5 17 5-5 5 27 5-12 5-2 5 16 5 10 5 17 5 6 5-13 5 22 5 26 5 13 5 5 5 53 5-7 5-9 5 24 5 21 5 1 5-18 5 39 5 9 5 44 5-46 5 59 5-14 5 24 5-11 5 20 5 24 5-6 5 26 5-14 5 6 5 16 5 0 5 18 5 29 5-29 5 6 5 34 5 33 5-1 5 7 5 5 5-23 5 16 5-37 5 37 5 26 5-28 5 9 5 20 5 30 5 27 5 30 5-11 5-36 5-12 5 48 5 23 5-37 5 21 5 12 5 13 5 3 5 10 5 17 5-5 5 16 5 20 5-37 5-1 5 30 5 15 5-31 5 12 5-20 5 20 5-15 5 21 5-2 5 6 5 18 5 0 5-26 5 16 5-38 5 48 5 28 5-32 5 1 5-2 5 21 5-18 5 14 5-12 5-2 5 6 5-2 5-22 5 62 5-27 5-25 5 51 5-12 5 7 5 11 5-23 5-29 5 45 5 5 5 14 5-25 5 6 5 10 5-6 5 1 5 3 5-17 5 37 5-37 5 19 5-7 5 0 5 22 5 11 5 15 5-5 5-11 5 25 5-34 5 28 5 12 5 1 5-25 5-5 5 50 5-30 5-9 5 6 5 24 5 21 5-13 5 22 5-9 5 4 5 10 5-18 5 11 5-8 5-3 5 20 5-21 5 23 5-9 5 14 5-5 5 21 5-23 5-8 5 13 5-74 5 23 5-37 5 41 5 8 5-2 5-11 5-22 5 28 5-27 5-20 5-27 5 16 5-21 5-9 5 6 5-5 5-17 5 28 5-37 5-9 5 18 5-9 5-2 5-15 5 0 5-17 5-17 5 33 5-31 5 3 5 10 5-10 5 38 5-68 5 6 5 13 5 20 5-29 5-22 5 34 5-37 5 6 5 9 5-31 5 4 5 10 5-13 5 8 5-24 5 5 5-20 5-12 5 41 5-26 5-1 5-35 5 11 5-10 5-33 5 22 5-30 5-5 5-32 5 25 5-19 5-14 5-34 5-6 5 12 5-37 5-5 5-11 5-33 5 40 5-58 5 33 5-6 5-25 5 29 5 0 5-15 5-17 5 16 5 4 5-20 5 14 5-16 5-4 5 7 5-34 5-7 5 10 5-1 5 13 5-10 5-17 5-3 5-8 5 0 5-1 5 19 5-22 5 4 5 5 5-9 5 2 5-33 5 37 5-11 5 1 5 3 5-31 5 65 5-34 5 12 5-21 5 44 5 0 5-7 5 24 5 23 5-25 5-7 5 34 5-13 5-8 5 35 5-32 5-11 5 1 5-11 5 4 5-3 5-22 5 2 5 12 5 1 5 2 5 1 5-13 5 1 5-12 5-1 5 16 5-52 5 35 5 43 5-72 5 53 5-47 5 37 5 29 5 6 5-30 5 3 5 5 5 36 5-9 5 13 5 13 5 11 5 9 5 2 5-13 5 51 5-58 5 70 5-23 5 14 5 5 5 13 5 16 5 11 5-4 5 42 5-5 5 34 5-13 5-2 5 24 5 14 5-16 5 10 5 34 5-29 5 9 5 25 5-15 5-17 5 17 5 37 5 7 5-1 5-3 5-22 5 32 5 11 5-20 5 31 5-11 5 12 5 5 5-24 5 50 5-35 5 13 5-2 5 19 5 3 5-3 5 22 5-13 5-9 5-37 5 43 5 6 5-7 5 3 5 25 5 14 5 18 5-10 5-28 5 23 5-19 5 35 5-3 5-16 5 10 5 3 5-4 5 31 5 22 5-33 5 9 5-7 5-5 5 44 5-33 5 24 5-3 5 9 5-8 5 12 5-32 5 16 5 20 5-38" fill="none" stroke="#0072bd" stroke-width="75.0" stroke-linejoin="round" shape-rendering="crispEdges"/><path transform="scale(.1)" d="M1740 7215l5-9 5 16 5 8 5-7 5 6 5-20 5 28 5 5 5 17 5-10 5 4 5 21 5 1 5-16 5 23 5 37 5-21 5 13 5 6 5 7 5 6 5 1 5 27 5 1 5 12 5 23 5-6 5 11 5 9 5-10 5 44 5-4 5-15 5 33 5-8 5-1 5 32 5-23 5 28 5 1 5 20 5-6 5 6 5 1 5 18 5 11 5-5 5 5 5 26 5-33 5-4 5 21 5 8 5 37 5-29 5 20 5 13 5-6 5 10 5-35 5 11 5 18 5-22 5 2 5-48 5 10 5-3 5 16 5-11 5 22 5 4 5 5 5-65 5-6 5 8 5 3 5-5 5-17 5-29 5 2 5-21 5 19 5-46 5 23 5-42 5 2 5-18 5-10 5 8 5-18 5 14 5-1 5-19 5-25 5 8 5-3 5 8 5-61 5 51 5-18 5 2 5 18 5-9 5-26 5 8 5 9 5 1 5-1 5 27 5-3 5 9 5-40 5 26 5 23 5-52 5 26 5-14 5 1 5 3 5-18 5 13 5-5 5 31 5 11 5 10 5-38 5 15 5 3 5-13 5 17 5-8 5-12 5 22 5-9 5 26 5-52 5 15 5-8 5 11 5-39 5 34 5-49 5 31 5-3 5 9 5-27 5 24 5-38 5 12 5-16 5 9 5-29 5 27 5-10 5-17 5 20 5-44 5 32 5-16 5 11 5-3 5-30 5 8 5-19 5-30 5 41 5 0 5-32 5 12 5-40 5 5 5-27 5-8 5-9 5 10 5 0 5-41 5 24 5-20 5-6 5-18 5-21 5 35 5-28 5 0 5 1 5-12 5-7 5 3 5-6 5-16 5-9 5 11 5-41 5 16 5-53 5 15 5-35 5 2 5 2 5-3 5-20 5 13 5-13 5 5 5-45 5 47 5-28 5-17 5 17 5 11 5-25 5-29 5 53 5-38 5 16 5-30 5 5 5 10 5 17 5-33 5 14 5-7 5-8 5 54 5-18 5-16 5-4 5-12 5 37 5-7 5 10 5 29 5-1 5-17 5-8 5 23 5 33 5-1 5 7 5 46 5 9 5-10 5 17 5 21 5-19 5 21 5-10 5 22 5-26 5 20 5 42 5 3 5-38 5 47 5-9 5 5 5-7 5 41 5-42 5 29 5 7 5-33 5 24 5 17 5-35 5 15 5 11 5 19 5-1 5-27 5 17 5 1 5 53 5-28 5 13 5 17 5 11 5 1 5 16 5-9 5-16 5 17 5 16 5-11 5 11 5 6 5-20 5 19 5-30 5 32 5 18 5-40 5 16 5-11 5 18 5 28 5-26 5-9 5 6 5-11 5 6 5-10 5-33 5 3 5-7 5 26 5-30 5 32 5-13 5-21 5 37 5 14 5-3 5-12 5 28 5 32 5 15 5-50 5 16 5 2 5 19 5 16 5-21 5 8 5-8 5-9 5 25 5-33 5 8 5 18 5 4 5-37 5 39 5 7 5 2 5 2 5 14 5 16 5-25 5-7 5 8 5-11 5 8 5 19 5-2 5-18 5-16 5 28 5-10 5-8 5-4 5 5 5-12 5-33 5-32 5 46 5 4 5-15 5 5 5 13 5-15 5-10 5 9 5-16 5-16 5 11 5-18 5-4 5-8 5-3 5-28 5 21 5 23 5 6 5-12 5-42 5-21 5 29 5 0 5 2 5-10 5-21 5 19 5-25 5-5 5-30 5 27 5 7 5-37 5 7 5-28 5 35 5-15 5-13 5 23 5-11 5-15 5 18 5-20 5 29 5-12 5-30 5-2 5 2 5 8 5 4 5 35 5-12 5-22 5 33 5 1 5 21 5-14 5-12 5 26 5 9 5-25 5 21 5-7 5 18 5 0 5 12 5-23 5 3 5 3 5 22 5 42 5-21 5-7 5-20 5 1 5-5 5 25 5 11 5-2 5-13 5-14 5 1 5 20 5 4 5-1 5-18 5 9 5-41 5 50 5 22 5-16 5 20 5-3 5-24 5-21 5 41 5 7 5-15 5 3 5 24 5-6 5-26 5-8 5 54 5-21 5 14 5-7 5-9 5 14 5-7 5-4 5 3 5 6 5 31 5-14 5 3 5-11 5 19 5 12 5 16 5-11 5 11 5-4 5 19 5-25 5-3 5 13 5 18 5 15 5-4 5-25 5 19 5-19 5-13 5 5 5-15 5 16 5-18 5-14 5 3 5-4 5-14 5-9 5-6 5 12 5-34 5-10 5 20 5 16 5-6 5-14 5-50 5 3 5-4 5-9 5-26 5-1 5 21 5-18 5-22 5 10 5 3 5-33 5 23 5-46 5-5 5 13 5 3 5-47 5 19 5 22 5-6 5-18 5-15 5 10 5-15 5 20 5-13 5-30 5 20 5-19 5 8 5 16 5-29 5-26 5 24 5 23 5-12 5-23 5 29 5-38 5-19 5 49 5-33 5-5 5-17 5 11 5 8 5 18 5-19 5 0 5-1 5-32 5 15 5-17 5-9 5-4 5 12 5 4 5-12 5 6 5 18 5 1 5-34 5 42 5-14 5-7 5 13 5-3 5-28 5 39 5 16 5-7 5 1 5 3 5 9 5-20 5 13 5 5 5 6 5-14 5 13 5-14 5 30 5-16 5-14 5-23 5 43 5-35 5 5 5-7 5-6 5 1 5-18 5-2 5-3 5 1 5 9 5-5 5 12 5 9 5-3 5-18 5-34 5-5 5 4 5-16 5 19 5-9 5-14 5-25 5-8 5 5 5 8 5-33 5 3 5-19 5 32 5-22 5-19 5 14 5-7 5-2 5-34 5 32 5-44 5 23 5-48 5 5 5-22 5-18 5 24 5-14 5 4 5-37 5-26 5 5 5 4 5-9 5-38 5 19 5-2 5-1 5 11 5-32 5-6 5 18 5 1 5-45 5 26 5 21 5-18 5 5 5-2 5-2 5 4 5 1 5-19 5 35 5-34 5 23 5 16 5 2 5-28 5 53 5-17 5 1 5 11 5 0 5 8 5 16 5-14 5 10 5-5 5 14 5-1 5-17 5 26 5-22 5 11 5 4 5 18 5 4 5-19 5 13 5 8 5 24 5-6 5-36 5 32 5 42 5-31 5-11 5 25 5 24 5-19 5 5 5 23 5-38 5 38 5 0 5 8 5-21 5 41 5-24 5 7 5 5 5 3 5 2 5 49 5-22 5 15 5 1 5 14 5-1 5 17 5 29 5-23 5-28 5 39 5 25 5-43 5 43 5-31 5 28 5 0 5 9 5 2 5 30 5 6 5-9 5 24 5 18 5 6 5-10 5 20 5-14 5 24 5 14 5 13 5 27 5-7 5 17 5-4 5 39 5-16 5 41 5-12 5-13 5 7 5 5 5 44 5-4 5 36 5-8 5-10 5 35 5-12 5-3 5 25 5 20 5-6 5-19 5 29 5-15 5-1 5 28 5 5 5-6 5 21 5-13 5 29 5-7 5-12 5-2 5 12 5-23 5 27 5-34 5 15 5 11 5-7 5 0 5-55 5 36 5 33 5-10 5-21 5 27 5 4 5-1 5-44 5 25 5 5 5-16 5-3 5 15 5-23 5 12 5-32 5 26 5-16 5 38 5-43 5-1 5 9 5 13 5-21 5 24 5-14 5-63 5 64 5-43 5 16 5-15 5 7 5-12 5-8 5 1 5 6 5-3 5-19 5 31 5-52 5 16 5-44 5 26 5 9 5-2 5-17 5-6 5 60 5-29 5-9 5-1 5 28 5 10 5-3 5 8 5-37 5 32 5 6 5-22 5 16 5-21 5-12 5 25 5-28 5 50 5-2 5-4 5-25 5-15 5 19 5 14 5-19 5-11 5-25 5 1 5-10 5-1 5-5 5 17 5-24 5 8 5 0 5-11 5-25 5 5 5 17 5-19 5 2 5 11 5-4 5-16 5 4 5 34 5-62 5-6 5 31 5-46 5 4 5 7 5-16 5-15 5 39 5-16 5-2 5 12 5-20 5 34 5-31 5-9 5 24 5 8 5 19 5-26 5 13 5 14 5-2 5 10 5-2 5 19 5-10 5 16 5-19 5-11 5 14 5-15 5 21 5 0 5-5 5 25 5-15 5 27 5 24 5-6 5 22 5-8 5 1 5-7 5 42 5 3 5-5 5 9 5-1 5 31 5-16 5 18 5 4 5 8 5-9 5-29 5 17 5 43 5-1 5-3 5 3 5 17 5-9 5-5 5 31 5-27 5 41 5-3 5-4 5 0 5 18 5-17 5 36 5-31 5 18 5 18 5-14 5 19 5 24 5-45 5 1 5 10 5 7 5 19 5-28 5 11 5 7 5 11 5 23 5-19 5 23 5-4 5 8 5 2 5-11 5 36 5-29 5-11 5 23 5-17 5-6 5-27 5 18 5-2 5-20 5 14 5-8 5 13 5-39 5 8 5 2 5 20 5-15 5 5 5 3 5 12 5-13 5 1 5-36 5 39 5 2 5-34 5 18 5 29 5 12 5 5 5-4 5 13 5-17 5 24 5-16 5-1 5 48 5-45 5 16 5 28 5-26 5 13 5 25 5 10 5-20 5-24 5 7 5 7 5 1 5-17 5-13 5 30 5-11 5 12 5 20 5-36 5 27 5-28 5 8 5-4 5 26 5-28 5 2 5 16 5-3 5 34 5-2 5-2 5 8 5-1 5 57 5-32 5-3 5-24 5 29 5 41 5-41 5 49 5-4 5 3 5 10 5 0 5 21 5-40 5-1 5 4 5-4 5 33 5 3 5 8 5-6 5-10 5-21 5 7 5 10 5 15 5-6 5 20 5-6 5 48 5-24 5 45 5-37 5 21 5 25 5-36 5 53 5 10 5-26 5 46 5-13 5 16 5-4 5-10 5-13 5 13 5-31 5 26 5 10 5-4 5-8 5 21 5-7 5-18 5-13 5-23 5 27 5 20 5-29 5 12 5-5 5-9 5 23 5-10 5 28 5-41 5-1 5 14 5 38 5-45 5 42 5-7 5-4 5 0 5 21 5-30 5 17 5 14 5 7 5-10 5 15 5 12 5-24 5-4 5-9 5 11 5-3 5-13 5-10 5 37" fill="none" stroke="#77ac30" stroke-width="75.0" stroke-linejoin="round" shape-rendering="crispEdges"/></g><g clip-path="url(#cp10)"><path transform="scale(.1)" d="M1740 6946h10v31h10v6h10v20h10v-21h10v17h10v-26h10v8h10v10h10v-19h10v-11h10v32h10v19h10v6h10v2h10v45h10v-29h10v32h10v0h10v28h10v8h10v-35h10v9h10v7h10v-14h10v1h10v19h10v-29h10v-11h10v3h10v-8h10v5h10v-12h10v-17h10v4h10v16h10v0h10v-20h10v6h10v-3h10v7h10v-19h10v1h10v22h10v9h10v-12h10v-2h10v-9h10v-17h10v-9h10v0h10v-6h10v-19h10v5h10v-6h10v-40h10v26h10v-28h10v-2h10v14h10v-15h10v-27h10v31h10v4h10v-1h10v-32h10v47h10v13h10v13h10v-56h10v29h10v11h10v14h10v5h10v8h10v-9h10v-5h10v12h10v1h10v-2h10v-42h10v-21h10v-24h10v-39h10v-15h10v-5h10v-19h10v-1h10v-5h10v-55h10v27h10v-18h10v-2h10v-19h10v-28h10v-5h10v-9h10v16h10v-8h10v3h10v28h10v16h10v22h10v2h10v16h10v6h10v40h10v-5h10v18h10v-4h10v67h10v16h10v12h10v19h10v29h10v48h10v23h10v15h10v60h10v33h10v24h10v52h10v30h10v50h10v21h10v35h10v31h10v29h10v-3h10v22h10v-19h10v37h10v13h10v-39h10v46h10v-61h10v56h10v-15h10v-22h10v-3h10v-30h10v8h10v-13h10v-33h10v36h10v-29h10v-48h10v-12h10v22h10v4h10v-11h10v10h10v-4h10v-14h10v-11h10v-19h10v17h10v-5h10v-6h10v-1h10v-2h10v-37h10v5h10v-13h10v-25h10v28h10v-21h10v9h10v5h10v-2h10v-16h10v-7h10v7h10v18h10v-4h10v-16h10v26h10v-4h10v-10h10v23h10v-36h10v5h10v-22h10v-8h10v-51h10v29h10v-9h10v-11h10v-9h10v-31h10v11h10v-64h10v2h10v0h10v-30h10v-9h10v-11h10v-5h10v-28h10v30h10v-55h10v-46h10v49h10v-18h10v-1h10v-21h10v2h10v-37h10v40h10v-8h10v-2h10v-1h10v17h10v-22h10v14h10v3h10v-11h10v2h10v-11h10v-16h10v9h10v4h10v-11h10v10h10v-15h10v7h10v-12h10v-33h10v2h10v-5h10v-14h10v6h10v-16h10v18h10v-1h10v-10h10v-13h10v-16h10v-27h10v-34h10v37h10v-24h10v25h10v0h10v-23h10v14h10v-19h10v5h10v0h10v-28h10v-14h10v-4h10v11h10v-7h10v25h10v-10h10v-34h10v-10h10v-20h10v7h10v0h10v5h10v-30h10v7h10v-8h10v-17h10v22h10v2h10v13h10v-29h10v6h10v-20h10v11h10v-16h10v-5h10v-13h10v-2h10v-8h10v-20h10v-5h10v-13h10v0h10v-10h10v39h10v6h10v-31h10v60h10v-20h10v35h10v19h10v5h10v13h10v-21h10v17h10v-24h10v-1h10v17h10v4h10v12h10v-19h10v-1h10v14h10v-14h10v8h10v4h10v-15h10v5h10v-12h10v-19h10v19h10v18h10v-7h10v-16h10v9h10v-12h10v-11h10v-40h10v2h10v-28h10v-59h10v-13h10v7h10v0h10v18h10v8h10v13h10v5h10v12h10v-36h10v32h10v-2h10v20h10v-16h10v6h10v23h10v-47h10v27h10v-18h10v-18h10v25h10v-29h10v14h10v-10h10v-6h10v5h10v-36h10v-1h10v-22h10v12h10v-33h10v3h10v2h10v-21h10v0h10v5h10v16h10v-26h10v17h10v22h10v7h10v27h10v-8h10v7h10v34h10v-1h10v2h10v34h10v12h10v-1h10v31h10v37h10v21h10v15h10v-32h10v97h10v-22h10v79h10v13h10v-3h10v60h10v10h10v36h10v7h10v17h10v26h10v-30h10v58h10v8h10v-5h10v9h10v33h10v24h10v13h10v5h10v4h10v20h10v11h10v-2h10v25h10v38h10v-18h10v-1h10v-18h10v6h10v37h10v-26h10v16h10v-13h10v10h10v34h10v-11h10v-8h10v28h10v-30h10v7h10v4h10v10h10v35h10v-39h10v44h10v-1h10v9h10v-29h10v16h10v6h10v-8h10v12h10v21h10v-5h10v16h10v-13h10v30h10v2h10v-13h10v13h10v24h10v37h10v3h10v-18h10v-29h10v-22h10v44h10v13h10v1h10v9h10v-26h10v-11h10v8h10v-35h10v20h10v-55h10v7h10v-23h10v-7h10v-11h10v-1h10v-22h10v-10h10v-11h10v-16h10v-12h10v-5h10v15h10v-23h10v-18h10v1h10v2h10v1h10v-31h10v-1h10v-13h10v-12h10v-2h10v-23h10v-27h10v-1h10v-48h10v-7h10v-24h10v-37h10v-20h10v-43h10v7h10v-31h10v-36h10v42h10v-39h10v18h10v-7h10v1h10v-69h10v61h10v-24h10v-43h10v15h10v27h10v-18h10v29h10v-14h10v-4h10v-39h10v31h10v-34h10v37h10v4h10v31h10v28h10v26h10v-22h10v0h10v-9h10v-12h10v-20h10v23h10v2h10v-33h10v17h10v-13h10v5h10v1h10v-37h10v44h10v16h10v9h10v-51h10v53h10v36h10v7h10v43h10v-6h10v20h10v26h10v12h10v-8h10v48h10v12h10v13h10v16h10v2h10v2h10v44h10v-46h10v52h10v5h10v-20h10v46h10v-35h10v58h10v-1h10v-6h10v16h10v19h10v-5h10v-7h10v29h10v4h10v5h10v7h10v39h10v4h10v-13h10v3h10v-1h10v-2h10v20h10v-3h10v34h10v10h10v-30h10v25h10v-64h10v55h10V7527h-10v-8h-10v28h-10v-21h-10v41h-10v-13h-10v-14h-10v-22h-10v2h-10v1h-10v38h-10v-50h-10v14h-10v-6h-10v-47h-10v10h-10v-6h-10v15h-10v-16h-10v12h-10v-21h-10v-8h-10v5h-10v-33h-10v8h-10v-10h-10v25h-10v-35h-10v-14h-10v1h-10v-17h-10v-13h-10v-2h-10v22h-10v-31h-10v-40h-10v17h-10v-57h-10v16h-10v-58h-10v36h-10v-70h-10v-35h-10v26h-10v-62h-10v0h-10v-16h-10v-25h-10v-8h-10v-23h-10v-20h-10v-7h-10v6h-10v41h-10v-26h-10v-25h-10v33h-10v-1h-10v9h-10v-10h-10v20h-10v-7h-10v18h-10v39h-10v10h-10v-36h-10v-49h-10v15h-10v-8h-10v-16h-10v26h-10v-24h-10v4h-10v3h-10v8h-10v2h-10v-8h-10v12h-10v2h-10v19h-10v-2h-10v10h-10v36h-10v-6h-10v20h-10v16h-10v11h-10v6h-10v-18h-10v26h-10v19h-10v10h-10v32h-10v9h-10v33h-10v41h-10v5h-10v14h-10v7h-10v32h-10v5h-10v12h-10v-10h-10v11h-10v13h-10v5h-10v56h-10v-41h-10v-13h-10v29h-10v-3h-10v16h-10v10h-10v27h-10v0h-10v3h-10v3h-10v1h-10v3h-10v33h-10v16h-10v1h-10v39h-10v-9h-10v30h-10v-1h-10v-8h-10v31h-10v13h-10v4h-10v-32h-10v2h-10v49h-10v-76h-10v0h-10v-1h-10v-19h-10v10h-10v14h-10v6h-10v28h-10v-41h-10v21h-10v-71h-10v3h-10v-11h-10v-14h-10v14h-10v26h-10v-28h-10v7h-10v-24h-10v33h-10v-33h-10v23h-10v-34h-10v1h-10v-5h-10v5h-10v11h-10v-27h-10v38h-10v-24h-10v-1h-10v3h-10v4h-10v-42h-10v11h-10v-34h-10v5h-10v1h-10v27h-10v9h-10v-49h-10v-28h-10v-10h-10v-1h-10v-32h-10v-1h-10v-27h-10v2h-10v-30h-10v-24h-10v-31h-10v6h-10v-28h-10v1h-10v-27h-10v16h-10v-52h-10v-1h-10v-32h-10v-20h-10v1h-10v-26h-10v-10h-10v-62h-10v13h-10v-41h-10v-28h-10v-2h-10v-33h-10v-25h-10v-43h-10v-13h-10v5h-10v20h-10v-51h-10v-12h-10v-14h-10v-18h-10v11h-10v-20h-10v-27h-10v-14h-10v16h-10v26h-10v-13h-10v-39h-10v1h-10v-8h-10v0h-10v14h-10v16h-10v6h-10v31h-10v-24h-10v28h-10v3h-10v-3h-10v3h-10v3h-10v20h-10v38h-10v-34h-10v0h-10v5h-10v12h-10v13h-10v-30h-10v56h-10v-44h-10v-30h-10v-18h-10v-2h-10v34h-10v-31h-10v1h-10v0h-10v-31h-10v11h-10v-6h-10v26h-10v33h-10v17h-10v9h-10v44h-10v15h-10v14h-10v-10h-10v21h-10v9h-10v-19h-10v18h-10v-25h-10v38h-10v8h-10v-16h-10v-12h-10v-5h-10v18h-10v-23h-10v34h-10v39h-10v-33h-10v-10h-10v6h-10v7h-10v14h-10v-4h-10v4h-10v12h-10v-30h-10v30h-10v-26h-10v-9h-10v-2h-10v5h-10v-27h-10v-45h-10v45h-10v-40h-10v18h-10v8h-10v23h-10v0h-10v-22h-10v25h-10v35h-10v-41h-10v-11h-10v35h-10v-12h-10v15h-10v15h-10v-1h-10v-18h-10v14h-10v22h-10v-40h-10v52h-10v-22h-10v9h-10v15h-10v6h-10v-22h-10v20h-10v0h-10v1h-10v7h-10v8h-10v2h-10v5h-10v55h-10v-44h-10v22h-10v27h-10v-28h-10v10h-10v1h-10v51h-10v-14h-10v-9h-10v5h-10v-3h-10v25h-10v34h-10v-13h-10v-14h-10v2h-10v14h-10v4h-10v21h-10v-10h-10v39h-10v-29h-10v16h-10v-28h-10v1h-10v-2h-10v-2h-10v0h-10v14h-10v9h-10v53h-10v-55h-10v8h-10v-9h-10v1h-10v-1h-10v-5h-10v21h-10v-15h-10v7h-10v34h-10v-20h-10v-20h-10v19h-10v-9h-10v61h-10v2h-10v-33h-10v51h-10v-22h-10v37h-10v-8h-10v20h-10v-4h-10v19h-10v4h-10v30h-10v36h-10v2h-10v4h-10v21h-10v8h-10v24h-10v13h-10v33h-10v-10h-10v13h-10v2h-10v28h-10v-6h-10v4h-10v32h-10v-44h-10v7h-10v5h-10v-15h-10v-5h-10v35h-10v40h-10v20h-10v-56h-10v-4h-10v8h-10v1h-10v-2h-10v20h-10v20h-10v-8h-10v30h-10v-9h-10v16h-10v-9h-10v3h-10v19h-10v8h-10v20h-10v-2h-10v26h-10v-6h-10v2h-10v24h-10v-7h-10v-10h-10v60h-10v-58h-10v21h-10v9h-10v60h-10v-34h-10v7h-10v13h-10v12h-10v-19h-10v35h-10v-2h-10v3h-10v-7h-10v-39h-10v27h-10v-31h-10v-25h-10v-48h-10v-15h-10v-20h-10v-35h-10v-56h-10v-26h-10v-62h-10v-18h-10v25h-10v-100h-10v-14h-10v-34h-10v-37h-10v-41h-10v-17h-10v-18h-10v-12h-10v-35h-10v-22h-10v-16h-10v-19h-10v-28h-10v-3h-10v-33h-10v-3h-10v3h-10v-53h-10v-13h-10v9h-10v17h-10v-6h-10v19h-10v8h-10v38h-10v-24h-10v9h-10v-2h-10v25h-10v7h-10v19h-10v6h-10v9h-10v13h-10v25h-10v17h-10v52h-10v58h-10v61h-10v-57h-10v11h-10v-4h-10v-34h-10v26h-10v-11h-10v8h-10v-31h-10v3h-10v14h-10v12h-10v-27h-10v-16h-10v-18h-10v-3h-10v4h-10v23h-10v1h-10v-16h-10v23h-10v-6h-10v4h-10v13h-10v21h-10v10h-10v-8h-10v10h-10v3h-10v-6h-10v34h-10v-5h-10v21h-10v29h-10v0h-10v-16h-10v8h-10v-27h-10v-11h-10v34h-10v-10h-10v10h-10v21h-10v-8h-10v17h-10v-20h-10v-16h-10v11h-10v-1h-10v6h-10v34h-10v-52h-10v39h-10v-23h-10v-11h-10v-6h-10v-1h-10v-10h-10v12h-10v7h-10v12h-10v-26h-10v-8h-10v18h-10v-5h-10v-34h-10v3h-10v-17h-10v-2h-10v-10h-10v32h-10v-9h-10v-7h-10v5h-10v-8h-10v-10h-10v12h-10v11h-10v9h-10v1h-10Z" fill="#0072bd" fill-opacity="0.3" shape-rendering="crispEdges"/><path transform="scale(.1)" d="M1740 7069h10v12h10v-1h10v-18h10v55h10v-24h10v14h10v23h10v5h10v18h10v8h10v49h10v3h10v24h10v9h10v9h10v12h10v37h10v-14h10v-1h10v78h10v-68h10v77h10v26h10v-21h10v16h10v-2h10v1h10v23h10v14h10v16h10v-12h10v-18h10v-3h10v-6h10v-7h10v9h10v-45h10v-10h10v-88h10v58h10v-41h10v-19h10v-29h10v-26h10v-11h10v13h10v-50h10v35h10v10h10v-25h10v-11h10v1h10v-12h10v-43h10v55h10v-5h10v10h10v-6h10v24h10v-18h10v9h10v4h10v9h10v2h10v-23h10v20h10v-7h10v-52h10v51h10v-18h10v-4h10v1h10v-4h10v-22h10v-26h10v-21h10v-7h10v-5h10v-13h10v12h10v-16h10v-9h10v-5h10v-26h10v-3h10v-34h10v4h10v-14h10v-30h10v-36h10v33h10v-20h10v-11h10v-35h10v-12h10v-15h10v-9h10v-30h10v-55h10v7h10v6h10v-21h10v-47h10v49h10v-36h10v4h10v-44h10v19h10v-37h10v41h10v9h10v-2h10v9h10v9h10v0h10v26h10v14h10v-30h10v78h10v-26h10v64h10v8h10v13h10v-6h10v32h10v24h10v8h10v-10h10v35h10v19h10v-23h10v-26h10v35h10v-14h10v34h10v-10h10v29h10v13h10v12h10v-1h10v31h10v-17h10v15h10v-34h10v42h10v5h10v6h10v-21h10v9h10v-25h10v12h10v-26h10v12h10v-18h10v3h10v19h10v13h10v-18h10v50h10v-5h10v21h10v17h10v-5h10v-4h10v3h10v15h10v12h10v-3h10v-3h10v21h10v5h10v21h10v-36h10v1h10v-16h10v-6h10v-12h10v-22h10v16h10v20h10v-47h10v-17h10v9h10v-26h10v-1h10v5h10v2h10v-35h10v-4h10v-38h10v19h10v-18h10v1h10v-18h10v-33h10v-4h10v-8h10v17h10v26h10v-17h10v-51h10v32h10v12h10v-24h10v14h10v15h10v30h10v-17h10v1h10v42h10v-19h10v42h10v-7h10v-8h10v-33h10v38h10v4h10v-4h10v27h10v-7h10v-7h10v-19h10v23h10v-16h10v23h10v22h10v-1h10v-4h10v16h10v-1h10v14h10v-16h10v18h10v8h10v11h10v2h10v2h10v9h10v-50h10v58h10v17h10v6h10v-8h10v11h10v-1h10v-22h10v-21h10v9h10v-29h10v-12h10v-67h10v54h10v-51h10v-31h10v28h10v-34h10v-25h10v-10h10v17h10v-32h10v-17h10v-13h10v-5h10v-3h10v-31h10v-8h10v12h10v-25h10v-38h10v45h10v6h10v-22h10v11h10v-38h10v21h10v-53h10v16h10v-10h10v16h10v-23h10v-24h10v1h10v-2h10v8h10v23h10v-15h10v-1h10v-2h10v0h10v34h10v31h10v-40h10v21h10v-37h10v24h10v3h10v-6h10v8h10v-23h10v4h10v-26h10v31h10v2h10v-20h10v-28h10v6h10v-25h10v-24h10v13h10v-27h10v11h10v-19h10v-16h10v-7h10v-9h10v-19h10v-25h10v-32h10v-12h10v-30h10v-20h10v-39h10v18h10v7h10v-14h10v1h10v-20h10v9h10v-45h10v4h10v39h10v-7h10v5h10v12h10v-13h10v33h10v-9h10v33h10v5h10v-5h10v22h10v-10h10v15h10v9h10v-20h10v33h10v-4h10v-16h10v32h10v25h10v-28h10v35h10v11h10v1h10v27h10v16h10v9h10v44h10v-15h10v4h10v-11h10v44h10v-6h10v26h10v-12h10v36h10v1h10v27h10v0h10v39h10v38h10v-17h10v34h10v5h10v23h10v24h10v-24h10v52h10v23h10v7h10v36h10v23h10v-5h10v-3h10v-3h10v25h10v-10h10v40h10v12h10v6h10v5h10v2h10v-22h10v24h10v-18h10v-12h10v-12h10v37h10v-18h10v-4h10v-11h10v-16h10v-14h10v17h10v3h10v-40h10v-3h10v18h10v-30h10v6h10v-17h10v-9h10v2h10v4h10v-18h10v-13h10v6h10v2h10v-6h10v-21h10v43h10v-25h10v17h10v23h10v-31h10v33h10v-5h10v12h10v-57h10v21h10v-10h10v-18h10v10h10v-9h10v-18h10v-28h10v-3h10v40h10v-19h10v-18h10v-3h10v-3h10v-14h10v-8h10v-23h10v6h10v6h10v2h10v-15h10v15h10v-17h10v6h10v48h10v-47h10v40h10v-7h10v-3h10v20h10v-13h10v48h10v1h10v-28h10v60h10v12h10v-13h10v32h10v6h10v20h10v18h10v8h10v28h10v-5h10v15h10v29h10v-23h10v37h10v-6h10v18h10v16h10v16h10v17h10v5h10v-12h10v1h10v31h10v-23h10v32h10v0h10v0h10v9h10v7h10v-8h10v-46h10v12h10v-18h10v-22h10v9h10v-1h10v-3h10v-5h10v19h10v-15h10v-6h10v35h10v-4h10v22h10v29h10v-17h10v7h10v17h10v-4h10v-4h10v-10h10v-8h10v3h10v6h10v-6h10v-3h10v1h10v5h10v20h10v3h10v4h10v-2h10v60h10v2h10v-25h10v42h10v22h10v-3h10v-9h10v36h10v-18h10v35h10v-45h10v38h10v-14h10v44h10v2h10v11h10v3h10v32h10v10h10v30h10v4h10v21h10v-12h10v9h10v-26h10v20h10v-20h10v19h10v-15h10v14h10v-19h10v24h10v-9h10v-23h10v33h10v-4h10v21h10v-2h10v-5h10v31h10v-12h10v2h10v-17h10v5h10v-6h10v5h10v-30h10V7821h-10v10h-10v37h-10v-21h-10v-7h-10v-5h-10v18h-10v8h-10v-13h-10v-13h-10v13h-10v-23h-10v-9h-10v-6h-10v36h-10v-42h-10v-10h-10v19h-10v26h-10v-9h-10v0h-10v-7h-10v42h-10v-45h-10v0h-10v15h-10v-6h-10v-18h-10v-27h-10v-14h-10v-24h-10v2h-10v-15h-10v-21h-10v7h-10v-20h-10v-12h-10v16h-10v-17h-10v7h-10v-14h-10v32h-10v-36h-10v52h-10v-81h-10v-22h-10v18h-10v-12h-10v-10h-10v-30h-10v28h-10v-38h-10v13h-10v-1h-10v-3h-10v1h-10v-5h-10v-11h-10v-15h-10v33h-10v-5h-10v-10h-10v-8h-10v-10h-10v27h-10v-25h-10v-41h-10v-9h-10v-13h-10v-3h-10v11h-10v-7h-10v-13h-10v-3h-10v62h-10v-41h-10v-2h-10v2h-10v26h-10v-22h-10v14h-10v8h-10v40h-10v-47h-10v-6h-10v-5h-10v-2h-10v-28h-10v15h-10v1h-10v-15h-10v-4h-10v26h-10v-34h-10v16h-10v-42h-10v-30h-10v16h-10v-13h-10v2h-10v-10h-10v-14h-10v46h-10v-70h-10v-6h-10v-20h-10v3h-10v-20h-10v19h-10v-57h-10v-6h-10v-9h-10v-10h-10v18h-10v-63h-10v55h-10v-32h-10v-25h-10v6h-10v-24h-10v7h-10v-25h-10v25h-10v-32h-10v8h-10v34h-10v-39h-10v23h-10v25h-10v-11h-10v1h-10v-13h-10v28h-10v2h-10v-20h-10v18h-10v23h-10v-8h-10v42h-10v-31h-10v38h-10v39h-10v-1h-10v6h-10v-23h-10v25h-10v24h-10v-40h-10v-6h-10v-4h-10v2h-10v-22h-10v30h-10v-15h-10v-14h-10v-6h-10v16h-10v12h-10v24h-10v-28h-10v29h-10v18h-10v0h-10v27h-10v-19h-10v6h-10v15h-10v-7h-10v-2h-10v12h-10v24h-10v42h-10v-38h-10v-6h-10v-10h-10v-7h-10v60h-10v-54h-10v-20h-10v16h-10v2h-10v-10h-10v10h-10v-12h-10v6h-10v-15h-10v-22h-10v-11h-10v-13h-10v2h-10v-31h-10v-44h-10v3h-10v-31h-10v-16h-10v2h-10v-27h-10v-24h-10v-23h-10v-27h-10v3h-10v-32h-10v-6h-10v-13h-10v-32h-10v0h-10v-24h-10v-11h-10v-15h-10v-4h-10v1h-10v-1h-10v-12h-10v-15h-10v4h-10v-52h-10v-6h-10v-17h-10v-9h-10v-2h-10v-17h-10v-17h-10v17h-10v-40h-10v10h-10v-7h-10v-11h-10v-16h-10v-10h-10v-8h-10v-3h-10v-14h-10v10h-10v-19h-10v-6h-10v-3h-10v-18h-10v18h-10v-23h-10v35h-10v-35h-10v20h-10v-15h-10v6h-10v7h-10v24h-10v-30h-10v15h-10v0h-10v22h-10v17h-10v24h-10v31h-10v6h-10v28h-10v18h-10v39h-10v-12h-10v12h-10v4h-10v24h-10v-2h-10v18h-10v12h-10v4h-10v98h-10v-51h-10v18h-10v25h-10v15h-10v-10h-10v5h-10v6h-10v-12h-10v25h-10v-4h-10v-1h-10v42h-10v3h-10v-49h-10v34h-10v-10h-10v-16h-10v10h-10v-27h-10v8h-10v-3h-10v-25h-10v-15h-10v-6h-10v13h-10v31h-10v-9h-10v0h-10v0h-10v61h-10v-9h-10v-32h-10v21h-10v6h-10v2h-10v3h-10v-9h-10v36h-10v-5h-10v-17h-10v1h-10v37h-10v-1h-10v-4h-10v13h-10v45h-10v54h-10v-62h-10v24h-10v13h-10v29h-10v10h-10v37h-10v30h-10v-14h-10v41h-10v-13h-10v18h-10v-7h-10v79h-10v-47h-10v-7h-10v9h-10v3h-10v-8h-10v10h-10v-33h-10v14h-10v-24h-10v-12h-10v-12h-10v5h-10v-19h-10v-6h-10v3h-10v-5h-10v12h-10v4h-10v18h-10v-26h-10v17h-10v-35h-10v2h-10v-23h-10v6h-10v-4h-10v-12h-10v-12h-10v11h-10v32h-10v-26h-10v10h-10v-13h-10v16h-10v-14h-10v30h-10v-40h-10v12h-10v-40h-10v-8h-10v-27h-10v10h-10v-16h-10v-8h-10v-27h-10v31h-10v3h-10v2h-10v16h-10v-36h-10v15h-10v8h-10v29h-10v40h-10v-28h-10v-14h-10v62h-10v-37h-10v46h-10v-14h-10v23h-10v-31h-10v18h-10v76h-10v-24h-10v19h-10v0h-10v-6h-10v-4h-10v9h-10v-4h-10v25h-10v12h-10v16h-10v-21h-10v0h-10v1h-10v-8h-10v14h-10v1h-10v5h-10v-34h-10v-2h-10v0h-10v-5h-10v-3h-10v8h-10v-17h-10v5h-10v-14h-10v-25h-10v9h-10v20h-10v-18h-10v7h-10v0h-10v16h-10v-3h-10v-10h-10v-7h-10v16h-10v-11h-10v-5h-10v-23h-10v17h-10v-20h-10v-3h-10v-3h-10v-14h-10v-41h-10v17h-10v-36h-10v-15h-10v31h-10v-14h-10v-6h-10v-1h-10v-14h-10v-32h-10v14h-10v-27h-10v-18h-10v10h-10v-28h-10v22h-10v-82h-10v-10h-10v-2h-10v-46h-10v-18h-10v-11h-10v-4h-10v-14h-10v-6h-10v5h-10v8h-10v-5h-10v-13h-10v29h-10v-25h-10v10h-10v24h-10v-9h-10v28h-10v24h-10v31h-10v-21h-10v41h-10v1h-10v16h-10v13h-10v20h-10v23h-10v10h-10v20h-10v9h-10v20h-10v10h-10v14h-10v32h-10v-3h-10v35h-10v2h-10v40h-10v-13h-10v17h-10v2h-10v15h-10v-2h-10v25h-10v-22h-10v12h-10v5h-10v10h-10v8h-10v11h-10v15h-10v-9h-10v21h-10v18h-10v-25h-10v21h-10v-3h-10v-18h-10v6h-10v-3h-10v-6h-10v-22h-10v21h-10v-14h-10v1h-10v-23h-10v2h-10v8h-10v-19h-10v20h-10v32h-10v-21h-10v54h-10v-18h-10v5h-10v40h-10v-9h-10v64h-10v-27h-10v17h-10v12h-10v50h-10v-1h-10v29h-10v26h-10v-3h-10v32h-10v14h-10v-12h-10v19h-10v-17h-10v-10h-10v-1h-10v23h-10v-12h-10v-11h-10v-18h-10v-11h-10v-52h-10v13h-10v-33h-10v22h-10v27h-10v-55h-10v-21h-10v39h-10v-67h-10v-13h-10v-24h-10v-23h-10v-17h-10v-24h-10v-18h-10v-2h-10v-23h-10v2h-10v-43h-10v6h-10v-18h-10v16h-10Z" fill="#77ac30" fill-opacity="0.3" shape-rendering="crispEdges"/></g>
<path d="M1050.7 898.3V892.3M1050.7 539.8V545.8M1174.6 898.3V892.3M1174.6 539.8V545.8M1298.5 898.3V892.3M1298.5 539.8V545.8M1422.4 898.3V892.3M1422.4 539.8V545.8M926.8 584.6H932.8M1496.7 584.6H1490.7M926.8 719H932.8M1496.7 719H1490.7M926.8 853.5H932.8M1496.7 853.5H1490.7" stroke="#262626" stroke-width="1.5" fill="none"/>
<rect x="926.8" y="539.8" width="569.9" height="358.5" fill="none" stroke="#262626" stroke-width="1.5"/>
<clipPath id="cp11"><rect x="926.8" y="539.8" width="569.9" height="358.5"/></clipPath>
<clipPath id="lp11"><rect x="923.3" y="539.8" width="576.9" height="358.5"/></clipPath>
<g clip-path="url(#lp11)"><path transform="scale(.1)" d="M9268 7174l5-16 5 17 5 23 5-40 5 14 5-30 5 2 5-3 5 18 5-34 5 5 5 9 5 22 5-23 5 19 5-15 5-6 5 17 5-30 5-11 5 11 5-21 5 2 5 7 5 9 5 19 5 7 5-14 5 12 5 7 5-5 5 40 5-3 5 31 5-3 5 7 5 31 5 1 5 1 5 47 5 0 5 10 5 5 5 0 5-25 5 43 5 9 5 28 5-12 5 36 5 6 5 27 5-26 5 16 5 3 5 0 5 10 5-16 5-27 5 43 5-53 5 39 5 10 5-29 5 7 5-1 5-17 5 17 5-20 5 20 5 6 5 12 5 11 5-5 5 8 5-8 5 8 5 18 5 5 5 0 5-7 5 17 5-28 5 10 5 14 5 10 5-40 5 3 5-3 5 25 5 1 5 10 5 9 5-48 5 12 5-2 5-10 5 14 5-10 5 16 5-10 5-23 5 23 5 3 5-15 5-24 5-7 5 12 5 31 5 5 5-12 5-4 5-42 5 37 5-18 5 2 5-11 5-16 5 40 5-5 5-12 5 1 5 19 5 29 5-3 5-4 5 14 5-10 5-18 5 26 5-11 5-4 5 32 5-7 5-18 5 37 5-4 5 0 5 2 5 1 5 0 5 28 5 6 5-12 5 9 5-6 5 4 5 16 5 1 5 18 5-18 5 17 5 0 5 6 5 18 5-6 5-11 5 5 5 3 5 4 5 3 5 9 5 6 5 11 5-12 5 18 5 5 5 13 5-4 5 10 5 1 5 19 5-17 5-24 5 23 5-26 5-27 5 31 5-16 5-4 5-2 5-18 5 12 5-24 5-17 5-9 5-42 5 26 5-40 5 4 5-25 5-11 5-26 5 20 5-75 5 10 5-22 5-24 5 35 5-24 5 34 5-20 5-7 5 2 5-21 5-2 5 36 5-11 5-24 5 13 5-5 5 15 5-10 5-11 5 22 5-20 5 21 5-8 5-35 5 72 5-32 5 28 5-1 5-16 5-10 5 46 5-21 5 17 5-5 5 15 5-7 5-14 5 15 5 17 5-20 5 10 5-1 5 17 5 9 5-55 5 38 5 25 5-44 5 9 5 37 5-14 5-9 5 13 5 8 5-5 5 9 5 3 5 4 5 1 5 5 5-4 5 23 5-20 5-2 5-6 5 18 5 21 5-4 5 13 5-21 5 11 5-20 5 16 5 5 5-15 5-21 5 2 5-17 5-28 5-12 5-8 5 6 5-12 5-17 5-22 5 19 5-49 5-9 5-17 5-4 5-55 5 17 5-32 5-8 5-31 5-15 5 11 5-16 5-49 5 15 5-26 5 15 5-17 5-6 5-23 5-11 5-23 5-21 5 2 5 16 5-4 5-39 5-5 5-2 5-10 5-13 5 4 5 9 5-2 5 5 5-33 5-34 5 15 5-16 5 8 5-8 5 27 5-24 5 16 5 32 5-21 5-20 5 33 5-5 5 2 5 4 5-24 5 0 5 16 5-21 5 13 5 29 5-33 5 23 5 11 5-8 5 2 5 28 5-37 5 47 5-33 5 16 5-14 5-2 5 36 5-5 5 14 5-16 5 21 5-4 5 23 5 12 5 5 5 3 5-12 5 20 5-10 5 35 5-16 5 26 5-20 5 13 5 0 5-22 5 34 5-20 5-8 5 40 5 28 5 5 5-14 5-1 5 2 5 41 5 8 5 15 5 27 5-10 5-3 5 6 5 11 5 17 5 21 5 0 5 8 5 1 5 5 5 8 5 2 5-32 5 10 5 7 5 3 5 15 5 2 5-13 5 35 5-10 5 3 5-21 5 23 5-14 5-7 5 18 5-17 5 2 5 32 5 7 5-18 5 24 5 6 5-5 5-13 5-16 5 18 5-36 5 4 5-4 5 5 5-34 5-10 5-7 5-15 5 6 5-4 5 2 5-29 5 5 5-22 5 1 5 22 5-29 5-26 5 20 5 4 5-17 5 31 5 6 5-14 5 21 5-46 5 33 5-14 5 34 5-28 5-1 5 2 5-1 5 6 5 19 5-5 5 3 5 4 5-13 5 38 5-37 5 27 5-12 5 17 5-12 5 26 5 4 5 10 5 17 5-15 5 12 5-30 5 42 5 18 5-2 5 14 5 1 5-17 5 41 5-25 5-12 5 27 5-13 5-4 5-15 5-16 5 20 5-32 5 8 5-22 5-12 5 20 5-30 5 20 5-55 5 17 5-39 5-5 5-25 5-61 5 14 5-31 5-34 5 0 5-32 5-16 5 0 5-19 5-27 5-22 5 27 5-39 5-17 5 43 5-4 5-54 5 28 5-18 5 44 5-13 5 0 5 45 5-9 5 29 5-4 5 42 5 9 5-8 5-14 5 44 5-10 5 31 5 10 5-17 5 15 5-29 5 28 5 18 5-41 5 33 5-5 5 8 5-8 5-4 5 20 5-11 5 3 5-30 5 20 5-4 5-14 5-7 5-31 5 7 5 1 5-11 5 33 5-26 5-31 5 33 5-60 5-2 5 3 5 2 5 35 5-44 5 8 5-29 5 7 5 34 5-23 5-12 5 5 5-17 5-12 5-24 5-10 5 13 5 1 5-7 5 27 5 21 5-22 5-18 5 4 5 35 5-3 5-10 5 7 5 12 5-14 5 6 5-9 5-26 5 34 5 1 5 1 5-13 5 10 5 1 5-5 5-9 5-1 5 12 5 8 5 19 5-30 5 6 5 3 5-31 5 26 5-20 5-4 5 15 5-19 5 7 5-21 5 13 5-15 5 7 5 41 5-40 5-4 5-8 5-10 5 38 5-40 5 47 5-41 5 15 5-13 5-17 5 8 5 17 5-25 5-29 5 58 5-45 5 7 5 22 5-47 5 15 5 16 5 0 5 1 5-19 5 33 5-18 5 10 5-13 5 43 5-25 5 6 5-7 5 18 5-20 5 21 5 7 5 35 5-21 5 11 5 14 5 24 5 30 5-10 5 8 5 25 5-15 5 14 5-7 5 15 5-4 5 55 5-10 5 13 5-12 5 28 5-5 5 6 5-2 5 20 5 52 5-38 5 26 5 17 5 5 5 16 5-16 5 51 5 11 5-22 5-2 5 0 5-4 5 35 5 14 5 20 5-39 5 36 5 14 5-9 5-6 5 19 5 33 5-48 5 14 5-3 5 11 5 26 5-22 5-23 5 16 5 3 5 29 5 1 5-20 5 37 5-36 5 27 5 26 5-44 5 34 5 9 5-29 5 9 5-23 5 26 5-24 5 5 5 12 5-15 5-15 5 15 5-8 5-11 5-16 5 21 5 15 5-24 5-6 5 1 5 15 5-36 5 33 5 16 5-26 5-13 5-4 5-7 5-18 5-7 5-10 5 2 5 13 5-33 5 19 5-50 5 17 5-23 5 12 5-1 5-23 5 29 5 9 5 4 5-26 5 1 5 38 5-18 5 54 5-17 5 5 5-5 5-1 5 17 5-3 5 27 5-10 5 9 5 26 5 5 5-36 5 65 5-44 5 18 5 19 5-1 5 48 5-14 5-9 5 21 5 1 5 11 5 23 5 9 5-6 5-8 5 7 5 15 5-8 5-14 5 16 5-46 5 12 5 12 5 0 5 7 5-18 5 0 5-6 5-27 5 5 5 21 5-15 5-18 5-2 5 22 5-5 5 2 5-13 5-29 5-6 5-26 5 38 5-9 5 9 5-46 5 32 5-28 5-15 5-4 5-27 5 8 5-19 5 3 5 11 5-13 5 11 5-20 5-3 5-9 5 7 5-10 5 6 5-21 5-9 5 10 5 19 5-19 5-43 5 26 5-13 5-2 5 12 5-13 5-2 5-25 5 17 5-15 5 11 5 9 5-34 5 1 5 8 5-34 5 11 5-16 5 10 5 3 5 0 5 21 5-13 5-6 5 16 5 9 5-36 5-1 5 14 5 15 5-48 5 30 5 43 5-37 5 31 5 6 5-32 5 18 5-41 5-33 5 10 5 27 5 15 5-34 5-34 5 22 5-31 5 28 5 17 5-49 5-6 5 0 5-2 5 11 5 4 5 11 5-19 5 37 5-3 5-16 5 8 5 3 5-14 5 60 5-10 5-2 5 18 5-8 5 0 5 31 5-32 5 4 5-4 5 28 5 32 5-16 5 28 5-23 5 19 5-19 5 26 5 21 5-26 5-10 5 28 5 13 5-16 5 45 5-41 5 33 5 14 5-12 5 24 5-5 5-2 5 9 5 42 5-40 5 37 5-3 5 13 5 28 5-19 5 2 5 50 5 12 5-7 5-5 5 6 5 27 5 9 5 11 5 13 5-5 5 19 5-3 5 17 5-5 5 14 5-16 5 13 5-10 5 30 5-15 5-1 5-1 5-4 5 1 5 24 5 3 5 4 5-20 5 14 5-32 5 45 5-32 5 32 5-6 5 19 5-30 5-24 5 37 5-16 5-7 5 4 5-37 5-36 5 23 5-14 5 5 5-32 5-2 5-31 5 16 5-23 5-39 5 13 5-11 5-27 5-33 5 3 5-12 5-17 5 2 5-7 5-24 5 14 5-24 5 11 5-8 5 7 5-27 5 7 5-30 5 43 5 12 5-31 5 9 5 4 5-13 5 16 5-28 5 9 5 1 5-7 5-13 5 35 5-10 5-11 5-9 5 13 5-12 5 18 5-12 5 1 5 5 5-20 5-1 5 1 5-15 5-48 5 46 5-25 5 0 5 7 5-36 5 3 5-48 5 48 5-29 5-8 5-1 5 7 5-40 5 50 5-36 5-11 5 16 5-19 5-11 5-26 5 28 5-9 5-11 5 10 5 12 5-10 5 25 5-19 5 23 5-12 5 11 5-23 5 15 5 14 5-1 5-7 5 15 5-13 5 5 5 16 5 2 5-1 5-20 5-21 5 2 5 20 5-14 5 19 5-29 5 16 5-36 5 16 5 10 5-2 5-3 5-19 5 19 5-8 5-7 5 12 5-15 5-3 5 37 5-33 5 10 5-33 5 0 5-17 5 1 5-1 5 23 5-18 5-3 5-4 5 13 5-19 5 13 5-21 5 18 5-1 5 18 5-19 5 17 5 5 5-7 5 22 5-10 5 2 5-20" fill="none" stroke="#0072bd" stroke-width="75.0" stroke-linejoin="round" shape-rendering="crispEdges"/><path transform="scale(.1)" d="M9268 7388l5-67 5-2 5 18 5 3 5 8 5-10 5-17 5 23 5-1 5-15 5 10 5-17 5-14 5 9 5-15 5-10 5 11 5-69 5 12 5-6 5 5 5-9 5-25 5 1 5-4 5 42 5-9 5-36 5 0 5-13 5-9 5 30 5-12 5 9 5-22 5 16 5 19 5 5 5-2 5-23 5 36 5-21 5 23 5-10 5-20 5 17 5 11 5 5 5-15 5 22 5-9 5-22 5 14 5 21 5-3 5-43 5 2 5 34 5-42 5-10 5 0 5 4 5-24 5-19 5-11 5-15 5-20 5 30 5-47 5-2 5-33 5-9 5-22 5-36 5 16 5-9 5-7 5 17 5 39 5-18 5 20 5-10 5 8 5-23 5 27 5 7 5-15 5 20 5-3 5-19 5-16 5-10 5 10 5-5 5-21 5 6 5 3 5 2 5 11 5-4 5-39 5 34 5-37 5 21 5-15 5-8 5-17 5 32 5-17 5 42 5 14 5-33 5 26 5-11 5 9 5 27 5-6 5 32 5-28 5 27 5-10 5 7 5-17 5 3 5-5 5-16 5 16 5-7 5-3 5 8 5-4 5-31 5 12 5-15 5 15 5-5 5 37 5-15 5-7 5 26 5-49 5 2 5 40 5-7 5 12 5-14 5 24 5 35 5-16 5-4 5-3 5 11 5-16 5 52 5 25 5-20 5 29 5 7 5 20 5 29 5-17 5 56 5 23 5 3 5-19 5 28 5 42 5-55 5 42 5-13 5 30 5-18 5 24 5 8 5 22 5-25 5 18 5-23 5 39 5-32 5 0 5 5 5-29 5 16 5 1 5-11 5-33 5 14 5 3 5-42 5 6 5 25 5-17 5-8 5 17 5-25 5-5 5 32 5-47 5-14 5 10 5-5 5-21 5-16 5 40 5-35 5-19 5 24 5-16 5 1 5 17 5-19 5 30 5 29 5-15 5-10 5 3 5 6 5 5 5-1 5 21 5-35 5 48 5-15 5 5 5-31 5 25 5-14 5-16 5-52 5 17 5-17 5-46 5 14 5-7 5-10 5-19 5-2 5 13 5-1 5-53 5 41 5 4 5-14 5 37 5 22 5-30 5 21 5-9 5 8 5 31 5-32 5 22 5-32 5 58 5-22 5-7 5 15 5-28 5 40 5-17 5 8 5 2 5 3 5 23 5-4 5 9 5-7 5 6 5-10 5 39 5-61 5 34 5-5 5-38 5 40 5-28 5-14 5-20 5-7 5-6 5-1 5 8 5-25 5-20 5 17 5-7 5-9 5-2 5-31 5-20 5-8 5-20 5 18 5-19 5-18 5-38 5 13 5 27 5-38 5 8 5-31 5 36 5-28 5 9 5 30 5-11 5-28 5 0 5 3 5 10 5-13 5-10 5 24 5-21 5 34 5-26 5 32 5-10 5 19 5-12 5 6 5 27 5 15 5-8 5-15 5 9 5 5 5 0 5 36 5 20 5-14 5-32 5 29 5 1 5 37 5-56 5 16 5 34 5-16 5 4 5-13 5 1 5 12 5-27 5 28 5-34 5 24 5 1 5-9 5 10 5-5 5-10 5 11 5-15 5 22 5-24 5 27 5-27 5 6 5-1 5 34 5-16 5-10 5 10 5-39 5 33 5 34 5-30 5 2 5 9 5 9 5-47 5 0 5 28 5-18 5 28 5-23 5-34 5 7 5-22 5 31 5 4 5 0 5 27 5 10 5-11 5-14 5 54 5 12 5 9 5 22 5-16 5 66 5-32 5 37 5-26 5 21 5 49 5-18 5 28 5 0 5 7 5 35 5-18 5-17 5 23 5 25 5 8 5-17 5 22 5 18 5 20 5 4 5 29 5 16 5 34 5 13 5-3 5 4 5 17 5-2 5 7 5 19 5 10 5-5 5 16 5 2 5-49 5 4 5-20 5-4 5-22 5-36 5-14 5 6 5 5 5-63 5 29 5 8 5-27 5 3 5-23 5 2 5-26 5-17 5 40 5-33 5 9 5-18 5-4 5 14 5-7 5 17 5 5 5-1 5 0 5 23 5-38 5 13 5 22 5 6 5-36 5 25 5 34 5-6 5 4 5-4 5-3 5 7 5-17 5-7 5-1 5-22 5 12 5 35 5-78 5 26 5-22 5 12 5-13 5 3 5-8 5-21 5 2 5-58 5 54 5-23 5 5 5-37 5-1 5 13 5-12 5-4 5 2 5-50 5 38 5-17 5-12 5-23 5 19 5-46 5 50 5-38 5 15 5-4 5 15 5-18 5-10 5-7 5 23 5-13 5-17 5 0 5-20 5 31 5-33 5 36 5-3 5 37 5-43 5 17 5 34 5-2 5-21 5 19 5 2 5 4 5-10 5 12 5-21 5 33 5 6 5 0 5-17 5 45 5-7 5-7 5 13 5-10 5 11 5 19 5 36 5-19 5 29 5-9 5 20 5 3 5 24 5-13 5-12 5-1 5 6 5-20 5 14 5-22 5 31 5-67 5 23 5-27 5 7 5 7 5-42 5 31 5 18 5-41 5 2 5 3 5-26 5-14 5-31 5 33 5-15 5-15 5 10 5-17 5-9 5 8 5-34 5 24 5-44 5 11 5 32 5-9 5-12 5-8 5 8 5 11 5 2 5 0 5 3 5-1 5-20 5 21 5 24 5-39 5 25 5-5 5 21 5-5 5 29 5-9 5-16 5 37 5-16 5 10 5 20 5-2 5 25 5-18 5 8 5 8 5 10 5 35 5-2 5 30 5 12 5-41 5 25 5-15 5 12 5 9 5-5 5 10 5 17 5-15 5 40 5-20 5 57 5-54 5 0 5-24 5 45 5-20 5-21 5-28 5 19 5-23 5 39 5-14 5-14 5-44 5 17 5 19 5 1 5-12 5-43 5 23 5 9 5-49 5 24 5-1 5-16 5-32 5 20 5-10 5-4 5-14 5-6 5 1 5 1 5-25 5-14 5 0 5-45 5 16 5-20 5-15 5 0 5-59 5-16 5 20 5-10 5-14 5-26 5 2 5-7 5-19 5-15 5-36 5 45 5 13 5 2 5-13 5 29 5 7 5 21 5-28 5 21 5 16 5-7 5-9 5 29 5 9 5 2 5 11 5 10 5 38 5-25 5 20 5 25 5 23 5-26 5 12 5 0 5 46 5-7 5 19 5 24 5-10 5 17 5-4 5 16 5 4 5-14 5 14 5 24 5-1 5-23 5 37 5-24 5 47 5 1 5-8 5-9 5-8 5 10 5-23 5-2 5-1 5-31 5-8 5-13 5-7 5-24 5 23 5 10 5-13 5-58 5 21 5-1 5-32 5 8 5-41 5 21 5-29 5 14 5-36 5 18 5-1 5-34 5-11 5-24 5 21 5-12 5-21 5 20 5-25 5-20 5 3 5 19 5-13 5-9 5 14 5-21 5 29 5 14 5 3 5 27 5-6 5 31 5 13 5-48 5 68 5-56 5 42 5 28 5-17 5-13 5 8 5 27 5-48 5 44 5-22 5-23 5 0 5-14 5 22 5-6 5-40 5 12 5-9 5 33 5-35 5 51 5-21 5-14 5 15 5 5 5-3 5 27 5-14 5-8 5 32 5-14 5 21 5 2 5 3 5 45 5-28 5 6 5-30 5 14 5 12 5-18 5 24 5-33 5 16 5-9 5 6 5-18 5 3 5 1 5-8 5 18 5-5 5 3 5 7 5 22 5-11 5 4 5 7 5 35 5-37 5 38 5-33 5 42 5 28 5-4 5 1 5-10 5 9 5 4 5-10 5 4 5 5 5-16 5-4 5-8 5 18 5 0 5-4 5 8 5-12 5 0 5-3 5-10 5-11 5 40 5-42 5-7 5 21 5-8 5-25 5 39 5-20 5-16 5 33 5-10 5-27 5 41 5-21 5-11 5 22 5-21 5-6 5-10 5 23 5-1 5-10 5-16 5 14 5-2 5-22 5-11 5 27 5-49 5 40 5-14 5 22 5-29 5 22 5-16 5 5 5 9 5-23 5 20 5-31 5 15 5 16 5 0 5 28 5-29 5-3 5 14 5 32 5 2 5 6 5-13 5 37 5-16 5 47 5 40 5-25 5 14 5-15 5-13 5 18 5-6 5-7 5 48 5-18 5 8 5-6 5 5 5 20 5-11 5 12 5-10 5 4 5-14 5-4 5 26 5 7 5-17 5 21 5 1 5-29 5 22 5 28 5 4 5-22 5 23 5 10 5-1 5-19 5-8 5 2 5 22 5-4 5 16 5-2 5 21 5 1 5 13 5 5 5-15 5-10 5 49 5-15 5-31 5 15 5 24 5-18 5 1 5 34 5-34 5 7 5 21 5 8 5 4 5 5 5-6 5 8 5-11 5 8 5 3 5 4 5 13 5-5 5-8 5-13 5 3 5-9 5-2 5 22 5-48 5 9 5 4 5-16 5 26 5-47 5 6 5-26 5-4 5-3 5-4 5-21 5-1 5-33 5-18 5 33 5-48 5-31 5-10 5-15 5 10 5-29 5-8 5-21 5-3 5-40 5-16 5 10 5-10 5-12 5-24 5 14 5-29 5-6 5-21 5 22 5-27 5-12 5-2 5 14 5-77 5 9 5-10 5-6 5-9 5 10 5-12 5 23 5 2 5 13 5 2 5 9 5-9 5 40 5-24 5-31 5 15 5-3 5 26 5 2 5-4 5 43 5-15 5 14 5-23 5 9 5 21 5 12 5-24 5 32 5 3 5 8 5-7 5 12 5 9 5 10 5 10 5 15 5-13 5 7 5 21 5 14 5-3 5 31 5 13 5 16 5 23 5-20 5 28 5 17 5 15 5 7 5 1 5 34 5-6 5 25 5-8 5 2 5 32 5 7 5 15 5 34 5-16 5 17 5-12 5 8 5 57 5-25 5 10 5 26 5 11 5 1 5 17 5 31 5-25 5 1 5 39 5-1 5-6 5-4 5 24 5 22 5 24 5-21 5 26 5 18 5-35 5 57 5-25 5 27 5 1 5 9 5-17 5-55 5 16 5 4 5-8 5 1 5-5 5-14 5-22 5-33 5 12 5 4 5-31 5 21 5 1 5-18 5-56 5 21 5 36 5-42 5-30" fill="none" stroke="#77ac30" stroke-width="75.0" stroke-linejoin="round" shape-rendering="crispEdges"/></g><g clip-path="url(#cp11)"><path transform="scale(.1)" d="M9260 7069h10v-29h10v20h10v-27h10v-6h10v2h10v2h10v-22h10v-17h10v16h10v-17h10v16h10v-14h10v-11h10v-7h10v39h10v7h10v45h10v4h10v41h10v30h10v30h10v-15h10v12h10v46h10v20h10v0h10v36h10v-12h10v-21h10v8h10v-5h10v29h10v-15h10v10h10v-51h10v45h10v-39h10v29h10v37h10v20h10v2h10v-14h10v5h10v0h10v-22h10v-2h10v-8h10v21h10v-31h10v24h10v-6h10v-15h10v23h10v-23h10v16h10v-2h10v-5h10v-20h10v9h10v-6h10v4h10v-5h10v51h10v-2h10v9h10v-15h10v10h10v18h10v21h10v1h10v20h10v-9h10v8h10v-8h10v7h10v28h10v-5h10v24h10v10h10v-10h10v28h10v2h10v-18h10v37h10v-27h10v42h10v-2h10v16h10v-82h10v29h10v-6h10v-8h10v-33h10v4h10v-40h10v-40h10v2h10v-71h10v-21h10v-19h10v-9h10v-45h10v59h10v1h10v-18h10v-17h10v21h10v-11h10v29h10v22h10v-19h10v21h10v3h10v-6h10v26h10v-33h10v33h10v-38h10v53h10v-13h10v-3h10v29h10v7h10v-18h10v3h10v8h10v33h10v-66h10v51h10v-18h10v54h10v22h10v-1h10v-23h10v-11h10v-23h10v-22h10v-35h10v-18h10v7h10v-61h10v-25h10v-24h10v-64h10v0h10v-27h10v-36h10v-88h10v54h10v-34h10v-57h10v24h10v-38h10v-1h10v-33h10v15h10v-23h10v-25h10v-24h10v-27h10v36h10v8h10v-61h10v60h10v26h10v-15h10v-6h10v6h10v-2h10v-36h10v47h10v28h10v1h10v14h10v-9h10v0h10v28h10v24h10v-3h10v21h10v3h10v-8h10v25h10v-13h10v32h10v8h10v-4h10v37h10v5h10v42h10v-7h10v27h10v-4h10v47h10v22h10v-24h10v24h10v-23h10v18h10v-7h10v1h10v16h10v-6h10v16h10v0h10v-10h10v21h10v-10h10v2h10v-30h10v-37h10v42h10v-27h10v-15h10v-3h10v-40h10v2h10v10h10v-14h10v-47h10v31h10v1h10v0h10v-14h10v16h10v13h10v-1h10v16h10v11h10v-34h10v28h10v23h10v3h10v13h10v7h10v29h10v20h10v3h10v28h10v-27h10v-1h10v23h10v-24h10v-9h10v-20h10v-14h10v-13h10v-40h10v-45h10v-36h10v-54h10v-61h10v-17h10v-27h10v-32h10v-32h10v-7h10v-7h10v-5h10v56h10v0h10v36h10v12h10v31h10v21h10v26h10v0h10v-7h10v-2h10v-24h10v41h10v-8h10v26h10v-17h10v-58h10v47h10v4h10v-21h10v-13h10v-26h10v-6h10v-20h10v-8h10v-7h10v1h10v-24h10v-11h10v-22h10v11h10v-20h10v25h10v-11h10v-23h10v17h10v8h10v17h10v-14h10v33h10v-12h10v-17h10v-42h10v57h10v-7h10v-4h10v-1h10v12h10v-18h10v-12h10v2h10v1h10v-8h10v6h10v-27h10v35h10v-3h10v8h10v-38h10v1h10v2h10v-15h10v-7h10v-3h10v4h10v-10h10v18h10v2h10v32h10v7h10v-49h10v52h10v23h10v-22h10v60h10v30h10v19h10v-2h10v20h10v1h10v23h10v44h10v-15h10v48h10v32h10v23h10v13h10v3h10v0h10v20h10v29h10v21h10v-8h10v-14h10v51h10v6h10v13h10v-8h10v17h10v-50h10v56h10v6h10v1h10v-10h10v-3h10v0h10v9h10v-8h10v-4h10v6h10v-45h10v17h10v-1h10v10h10v-12h10v-63h10v43h10v-36h10v-19h10v-42h10v13h10v15h10v1h10v-1h10v-10h10v22h10v-4h10v31h10v9h10v-5h10v23h10v20h10v-15h10v49h10v11h10v15h10v6h10v22h10v12h10v31h10v-6h10v-2h10v-5h10v-29h10v-17h10v20h10v-10h10v-15h10v-8h10v-17h10v-1h10v-12h10v8h10v-36h10v2h10v-7h10v-23h10v-17h10v-31h10v2h10v-37h10v34h10v-21h10v-41h10v31h10v-36h10v-19h10v16h10v-5h10v15h10v-37h10v29h10v-24h10v5h10v-28h10v-2h10v2h10v-20h10v15h10v-18h10v-9h10v19h10v-4h10v14h10v14h10v-35h10v-2h10v12h10v-59h10v28h10v-3h10v-53h10v21h10v-9h10v-25h10v54h10v5h10v-2h10v24h10v9h10v2h10v32h10v-52h10v63h10v13h10v20h10v-13h10v2h10v24h10v-36h10v68h10v-1h10v-15h10v45h10v26h10v26h10v-15h10v43h10v-9h10v60h10v5h10v4h10v43h10v13h10v23h10v-33h10v-8h10v65h10v-9h10v5h10v8h10v-13h10v8h10v-4h10v6h10v-9h10v-4h10v-13h10v5h10v-3h10v-31h10v-15h10v-24h10v-35h10v-44h10v-34h10v-3h10v-21h10v-28h10v13h10v-17h10v-33h10v4h10v3h10v2h10v-11h10v13h10v-27h10v-24h10v29h10v14h10v-1h10v2h10v-9h10v10h10v-26h10v-39h10v-5h10v-64h10v28h10v-27h10v-2h10v-2h10v-23h10v-13h10v-4h10v-10h10v1h10v-16h10v25h10v-13h10v22h10v-2h10v13h10v-7h10v0h10v-17h10v0h10v-5h10v-2h10v-5h10v-3h10v-6h10v-42h10v10h10v52h10v-9h10v0h10v-32h10v2h10v-11h10v0h10v12h10v-33h10v37h10v3h10v-34h10v3h10v42h10v-4h10v-14h10v-6h10v-7h10V7083h-10v15h-10v-20h-10v6h-10v40h-10v-24h-10v-54h-10v14h-10v18h-10v1h-10v6h-10v-10h-10v17h-10v21h-10v18h-10v-6h-10v10h-10v5h-10v-8h-10v11h-10v17h-10v-13h-10v57h-10v-42h-10v-9h-10v-7h-10v29h-10v-20h-10v28h-10v-29h-10v2h-10v-5h-10v-36h-10v18h-10v13h-10v-20h-10v62h-10v-43h-10v3h-10v34h-10v8h-10v-11h-10v-1h-10v23h-10v26h-10v-5h-10v-9h-10v61h-10v2h-10v7h-10v14h-10v1h-10v-6h-10v2h-10v-3h-10v-1h-10v2h-10v10h-10v-11h-10v-5h-10v8h-10v40h-10v0h-10v21h-10v27h-10v-11h-10v27h-10v21h-10v28h-10v25h-10v31h-10v29h-10v19h-10v63h-10v-22h-10v11h-10v0h-10v31h-10v-3h-10v22h-10v-27h-10v7h-10v-26h-10v-4h-10v3h-10v25h-10v-34h-10v10h-10v1h-10v-20h-10v-7h-10v-49h-10v-5h-10v-11h-10v-38h-10v-28h-10v-22h-10v-23h-10v-7h-10v-26h-10v-7h-10v10h-10v-18h-10v-18h-10v-5h-10v-17h-10v1h-10v2h-10v-34h-10v-16h-10v1h-10v-8h-10v30h-10v-55h-10v-10h-10v-34h-10v21h-10v-22h-10v-31h-10v5h-10v35h-10v-7h-10v4h-10v22h-10v-3h-10v-3h-10v-12h-10v7h-10v60h-10v-19h-10v-17h-10v6h-10v21h-10v-8h-10v-2h-10v-11h-10v20h-10v-6h-10v-1h-10v80h-10v-69h-10v29h-10v27h-10v5h-10v3h-10v10h-10v-5h-10v-2h-10v20h-10v-11h-10v23h-10v16h-10v11h-10v-3h-10v9h-10v19h-10v0h-10v36h-10v-7h-10v21h-10v6h-10v-4h-10v20h-10v13h-10v-1h-10v26h-10v17h-10v-20h-10v44h-10v-23h-10v17h-10v5h-10v7h-10v-24h-10v-23h-10v8h-10v-31h-10v-29h-10v6h-10v-34h-10v-19h-10v-2h-10v8h-10v-55h-10v-4h-10v-11h-10v-17h-10v6h-10v-28h-10v-11h-10v13h-10v-19h-10v-1h-10v42h-10v-6h-10v12h-10v33h-10v14h-10v7h-10v34h-10v-31h-10v20h-10v-1h-10v22h-10v7h-10v-5h-10v-2h-10v16h-10v-24h-10v57h-10v-38h-10v10h-10v3h-10v-32h-10v7h-10v-12h-10v-15h-10v13h-10v33h-10v-46h-10v0h-10v-21h-10v-5h-10v-42h-10v12h-10v-24h-10v26h-10v-46h-10v-8h-10v-34h-10v-30h-10v7h-10v-15h-10v6h-10v-59h-10v-23h-10v-15h-10v-10h-10v-30h-10v-49h-10v4h-10v-16h-10v-26h-10v3h-10v-20h-10v4h-10v0h-10v6h-10v-34h-10v6h-10v-12h-10v9h-10v23h-10v-11h-10v2h-10v12h-10v-3h-10v8h-10v-1h-10v6h-10v-4h-10v28h-10v-2h-10v3h-10v32h-10v-10h-10v-5h-10v6h-10v14h-10v1h-10v-22h-10v4h-10v10h-10v15h-10v-19h-10v25h-10v-21h-10v-11h-10v-3h-10v12h-10v28h-10v-51h-10v16h-10v-20h-10v2h-10v31h-10v-8h-10v-1h-10v19h-10v25h-10v8h-10v7h-10v21h-10v-3h-10v39h-10v11h-10v0h-10v4h-10v17h-10v-18h-10v29h-10v-16h-10v7h-10v-23h-10v-7h-10v3h-10v-12h-10v-34h-10v-51h-10v22h-10v-34h-10v-13h-10v-35h-10v2h-10v-5h-10v30h-10v-4h-10v17h-10v43h-10v52h-10v47h-10v75h-10v29h-10v19h-10v13h-10v39h-10v15h-10v36h-10v-27h-10v52h-10v-22h-10v-9h-10v17h-10v10h-10v-28h-10v-26h-10v-19h-10v-27h-10v-11h-10v-5h-10v-15h-10v-5h-10v27h-10v-36h-10v1h-10v5h-10v21h-10v-16h-10v3h-10v-5h-10v37h-10v-40h-10v-4h-10v-5h-10v8h-10v11h-10v9h-10v46h-10v29h-10v1h-10v-8h-10v10h-10v55h-10v-20h-10v12h-10v-24h-10v2h-10v11h-10v-2h-10v-27h-10v47h-10v-48h-10v-4h-10v25h-10v-9h-10v-39h-10v24h-10v-41h-10v-2h-10v-57h-10v-11h-10v-9h-10v32h-10v-69h-10v-7h-10v-37h-10v-3h-10v-27h-10v-7h-10v-28h-10v4h-10v-2h-10v-19h-10v8h-10v-2h-10v-48h-10v-1h-10v-8h-10v-24h-10v1h-10v10h-10v-34h-10v15h-10v-4h-10v-16h-10v-10h-10v45h-10v-24h-10v-24h-10v13h-10v9h-10v-12h-10v0h-10v18h-10v35h-10v-2h-10v9h-10v40h-10v-17h-10v11h-10v34h-10v1h-10v25h-10v9h-10v37h-10v36h-10v53h-10v4h-10v29h-10v50h-10v22h-10v67h-10v3h-10v20h-10v33h-10v25h-10v15h-10v10h-10v10h-10v-4h-10v36h-10v-66h-10v-9h-10v3h-10v11h-10v-35h-10v8h-10v6h-10v4h-10v-33h-10v-11h-10v3h-10v27h-10v-10h-10v-14h-10v-16h-10v6h-10v-27h-10v16h-10v0h-10v-22h-10v17h-10v-24h-10v0h-10v20h-10v-42h-10v11h-10v-4h-10v15h-10v-9h-10v-9h-10v31h-10v-3h-10v20h-10v57h-10v13h-10v44h-10v22h-10v33h-10v18h-10v29h-10v6h-10v15h-10v27h-10v6h-10v-7h-10v-20h-10v-11h-10v3h-10v-17h-10v-24h-10v9h-10v29h-10v21h-10v-52h-10v25h-10v-18h-10v-37h-10v-34h-10v49h-10v-36h-10v-4h-10v-3h-10v-9h-10v-34h-10v10h-10v-20h-10v-4h-10v-2h-10v-31h-10v-11h-10v0h-10v19h-10v-18h-10v23h-10v2h-10v-3h-10v-5h-10v39h-10v-7h-10v13h-10v-3h-10v4h-10v2h-10v0h-10v-14h-10v5h-10v2h-10v-22h-10v10h-10v-2h-10v0h-10v-13h-10v-13h-10v-12h-10v2h-10v-11h-10v41h-10v-7h-10v-28h-10v-18h-10v16h-10v1h-10v12h-10v-24h-10v-15h-10v-24h-10v-34h-10v7h-10v-33h-10v9h-10v-28h-10v-57h-10v-21h-10v-6h-10v-37h-10v-8h-10v7h-10v-17h-10v-64h-10v8h-10v7h-10v6h-10v8h-10v3h-10v23h-10v18h-10v-2h-10v-34h-10v67h-10v-20h-10v-1h-10Z" fill="#0072bd" fill-opacity="0.3" shape-rendering="crispEdges"/><path transform="scale(.1)" d="M9260 7135h10v29h10v-3h10v-54h10v56h10v-7h10v11h10v-13h10v-5h10v-28h10v10h10v-11h10v-17h10v-35h10v13h10v-4h10v11h10v-35h10v19h10v17h10v-16h10v8h10v-3h10v25h10v5h10v-14h10v1h10v-15h10v-7h10v6h10v2h10v-13h10v-12h10v-29h10v-44h10v-24h10v-30h10v-20h10v5h10v-24h10v-23h10v35h10v-12h10v6h10v-2h10v24h10v-84h10v47h10v-13h10v-1h10v-14h10v-12h10v6h10v-6h10v-5h10v18h10v24h10v-4h10v9h10v-19h10v36h10v-2h10v-12h10v17h10v-3h10v-32h10v-12h10v-36h10v75h10v0h10v-4h10v-28h10v31h10v-5h10v21h10v2h10v33h10v9h10v43h10v34h10v-25h10v78h10v35h10v39h10v23h10v7h10v12h10v-1h10v-5h10v41h10v-25h10v-11h10v0h10v-7h10v-65h10v20h10v-31h10v-24h10v47h10v-59h10v27h10v-7h10v-27h10v-12h10v1h10v-2h10v-9h10v13h10v29h10v3h10v-26h10v42h10v-10h10v-19h10v2h10v-25h10v-27h10v-25h10v-34h10v-11h10v-24h10v20h10v6h10v10h10v-34h10v48h10v9h10v11h10v-16h10v24h10v-12h10v33h10v-13h10v3h10v23h10v2h10v-5h10v-30h10v5h10v-35h10v-24h10v12h10v-14h10v-17h10v-7h10v-39h10v15h10v-40h10v-30h10v3h10v-27h10v-15h10v-3h10v-4h10v5h10v-16h10v9h10v0h10v-21h10v-25h10v74h10v21h10v9h10v33h10v12h10v23h10v-3h10v-15h10v21h10v-9h10v-14h10v13h10v18h10v-19h10v6h10v6h10v-29h10v20h10v-11h10v2h10v-14h10v21h10v-9h10v0h10v2h10v15h10v-1h10v-20h10v44h10v-13h10v-17h10v-4h10v0h10v-9h10v22h10v38h10v10h10v43h10v30h10v15h10v41h10v-18h10v26h10v30h10v13h10v5h10v37h10v23h10v30h10v55h10v37h10v-4h10v33h10v19h10v17h10v-28h10v-50h10v-38h10v-23h10v-25h10v-21h10v-7h10v-27h10v-3h10v-27h10v8h10v-31h10v12h10v14h10v-2h10v3h10v-1h10v19h10v21h10v8h10v-3h10v-11h10v-9h10v-15h10v-19h10v3h10v3h10v-30h10v-36h10v16h10v-33h10v-21h10v-14h10v0h10v-20h10v1h10v-22h10v-4h10v-24h10v14h10v-4h10v-23h10v-28h10v32h10v-6h10v3h10v18h10v-6h10v3h10v27h10v-10h10v23h10v34h10v-12h10v31h10v-4h10v26h10v2h10v23h10v17h10v16h10v5h10v-5h10v-4h10v-18h10v-28h10v-10h10v-5h10v-18h10v-24h10v-47h10v17h10v-41h10v13h10v-15h10v-39h10v23h10v7h10v-43h10v39h10v-6h10v0h10v-5h10v35h10v0h10v-2h10v20h10v3h10v32h10v17h10v12h10v5h10v30h10v17h10v17h10v5h10v-13h10v29h10v11h10v23h10v12h10v10h10v-20h10v-38h10v13h10v-14h10v1h10v-24h10v-30h10v23h10v-19h10v-69h10v55h10v-13h10v-23h10v-26h10v10h10v-35h10v-36h10v-44h10v-14h10v-33h10v-9h10v-42h10v-18h10v-23h10v-6h10v40h10v0h10v-7h10v32h10v31h10v11h10v-2h10v37h10v14h10v-16h10v17h10v71h10v-6h10v45h10v18h10v-13h10v13h10v14h10v13h10v7h10v9h10v-17h10v22h10v-32h10v-7h10v-26h10v-33h10v8h10v-35h10v-24h10v21h10v-51h10v-15h10v-19h10v-15h10v-33h10v1h10v-22h10v-22h10v-15h10v24h10v-4h10v20h10v49h10v15h10v11h10v13h10v10h10v13h10v-3h10v-34h10v-4h10v-8h10v-18h10v-3h10v1h10v-10h10v43h10v24h10v-3h10v16h10v-4h10v20h10v-15h10v11h10v5h10v22h10v-44h10v13h10v-6h10v9h10v-20h10v33h10v26h10v-8h10v10h10v20h10v6h10v24h10v-2h10v24h10v-12h10v-50h10v31h10v-1h10v-12h10v12h10v-1h10v-2h10v-13h10v4h10v-25h10v18h10v-25h10v-9h10v5h10v-11h10v-8h10v-17h10v24h10v-27h10v2h10v-4h10v-21h10v20h10v-46h10v70h10v-38h10v4h10v13h10v25h10v12h10v10h10v13h10v5h10v36h10v20h10v-42h10v47h10v19h10v-1h10v4h10v30h10v18h10v2h10v1h10v6h10v16h10v12h10v-6h10v-30h10v-16h10v48h10v-21h10v-17h10v39h10v50h10v14h10v-1h10v-12h10v12h10v21h10v-3h10v0h10v-8h10v37h10v6h10v4h10v4h10v5h10v-18h10v-18h10v-30h10v6h10v-8h10v-73h10v44h10v-99h10v48h10v-61h10v6h10v-22h10v-56h10v-5h10v-56h10v-6h10v-54h10v-5h10v7h10v-39h10v-28h10v-21h10v-2h10v-17h10v-15h10v-3h10v22h10v-14h10v12h10v26h10v4h10v-18h10v19h10v25h10v24h10v-47h10v15h10v37h10v-13h10v13h10v54h10v9h10v18h10v21h10v-4h10v52h10v49h10v2h10v38h10v41h10v-11h10v35h10v-15h10v34h10v59h10v31h10v1h10v28h10v-9h10v44h10v22h10v-8h10v30h10v13h10v27h10v23h10v12h10v-40h10v40h10v-11h10v-27h10v-23h10v-23h10v-19h10v-6h10v0h10v-11h10v-10h10v-89h10v88h10V7589h-10v12h-10v13h-10v-24h-10v3h-10v14h-10v9h-10v24h-10v48h-10v4h-10v13h-10v13h-10v22h-10v7h-10v-6h-10v-31h-10v-14h-10v-23h-10v-30h-10v-5h-10v-26h-10v-28h-10v4h-10v-41h-10v-16h-10v10h-10v-81h-10v-24h-10v-14h-10v1h-10v-29h-10v-26h-10v-8h-10v-23h-10v-40h-10v-43h-10v-6h-10v-14h-10v-51h-10v-16h-10v-14h-10v-9h-10v-5h-10v0h-10v-23h-10v12h-10v-33h-10v-27h-10v2h-10v9h-10v4h-10v28h-10v-72h-10v-2h-10v-16h-10v10h-10v22h-10v5h-10v12h-10v14h-10v40h-10v31h-10v5h-10v7h-10v36h-10v17h-10v25h-10v35h-10v56h-10v1h-10v23h-10v58h-10v1h-10v28h-10v34h-10v5h-10v18h-10v-3h-10v35h-10v-22h-10v22h-10v1h-10v18h-10v-5h-10v1h-10v-13h-10v-2h-10v-12h-10v-19h-10v13h-10v-26h-10v2h-10v61h-10v-67h-10v-13h-10v-8h-10v-23h-10v58h-10v-58h-10v-19h-10v22h-10v-7h-10v-10h-10v-25h-10v5h-10v8h-10v-2h-10v8h-10v-16h-10v15h-10v-1h-10v-37h-10v29h-10v20h-10v-47h-10v-56h-10v-7h-10v-22h-10v-29h-10v20h-10v-54h-10v-24h-10v55h-10v-9h-10v-16h-10v-11h-10v11h-10v26h-10v6h-10v-16h-10v66h-10v-42h-10v-23h-10v14h-10v4h-10v-6h-10v17h-10v-24h-10v-7h-10v12h-10v10h-10v-4h-10v-10h-10v18h-10v17h-10v-12h-10v13h-10v13h-10v11h-10v17h-10v-43h-10v6h-10v-32h-10v47h-10v-67h-10v-13h-10v-14h-10v-10h-10v-11h-10v4h-10v-4h-10v7h-10v1h-10v74h-10v-65h-10v8h-10v47h-10v-62h-10v14h-10v-14h-10v-18h-10v7h-10v-19h-10v-17h-10v-3h-10v33h-10v25h-10v-32h-10v25h-10v-7h-10v30h-10v5h-10v-50h-10v2h-10v-12h-10v-11h-10v-25h-10v-31h-10v-33h-10v-8h-10v1h-10v5h-10v45h-10v9h-10v3h-10v32h-10v2h-10v31h-10v0h-10v41h-10v-20h-10v30h-10v49h-10v20h-10v12h-10v24h-10v37h-10v-4h-10v-8h-10v9h-10v-1h-10v-17h-10v-18h-10v10h-10v-26h-10v-27h-10v30h-10v-29h-10v-36h-10v-23h-10v-30h-10v-22h-10v-33h-10v-32h-10v12h-10v-13h-10v-32h-10v2h-10v-23h-10v20h-10v-67h-10v3h-10v42h-10v-8h-10v67h-10v0h-10v3h-10v21h-10v52h-10v62h-10v0h-10v-4h-10v13h-10v26h-10v63h-10v1h-10v1h-10v13h-10v-23h-10v30h-10v21h-10v-18h-10v50h-10v-24h-10v10h-10v18h-10v-12h-10v5h-10v-2h-10v7h-10v-9h-10v-18h-10v-6h-10v21h-10v-54h-10v-19h-10v1h-10v-33h-10v-16h-10v-11h-10v-10h-10v-11h-10v33h-10v-30h-10v-28h-10v12h-10v-5h-10v-3h-10v-17h-10v0h-10v-4h-10v25h-10v15h-10v-13h-10v31h-10v11h-10v12h-10v41h-10v4h-10v10h-10v5h-10v8h-10v26h-10v-1h-10v28h-10v-10h-10v-2h-10v1h-10v-24h-10v-25h-10v-22h-10v-39h-10v4h-10v-23h-10v33h-10v-28h-10v19h-10v3h-10v-27h-10v-30h-10v-8h-10v32h-10v-41h-10v14h-10v-35h-10v19h-10v29h-10v-23h-10v11h-10v16h-10v5h-10v18h-10v6h-10v3h-10v11h-10v20h-10v8h-10v9h-10v-20h-10v34h-10v32h-10v8h-10v5h-10v28h-10v38h-10v-10h-10v-4h-10v3h-10v-3h-10v-23h-10v7h-10v-25h-10v27h-10v5h-10v12h-10v-36h-10v22h-10v4h-10v-3h-10v51h-10v-48h-10v16h-10v42h-10v-6h-10v14h-10v50h-10v50h-10v16h-10v44h-10v-35h-10v-50h-10v-12h-10v-23h-10v0h-10v-28h-10v-23h-10v-57h-10v19h-10v-45h-10v-6h-10v-49h-10v10h-10v-48h-10v-25h-10v-31h-10v-45h-10v26h-10v-62h-10v-7h-10v-24h-10v19h-10v4h-10v-11h-10v-5h-10v67h-10v-32h-10v-27h-10v22h-10v13h-10v17h-10v-62h-10v42h-10v-41h-10v0h-10v25h-10v6h-10v-9h-10v-12h-10v2h-10v-8h-10v10h-10v1h-10v13h-10v22h-10v-42h-10v-4h-10v9h-10v-39h-10v-3h-10v-14h-10v-6h-10v-24h-10v-6h-10v-16h-10v-15h-10v9h-10v9h-10v10h-10v-21h-10v6h-10v30h-10v10h-10v26h-10v13h-10v16h-10v39h-10v21h-10v28h-10v-13h-10v51h-10v-19h-10v-5h-10v23h-10v23h-10v-3h-10v27h-10v62h-10v-58h-10v-25h-10v-10h-10v11h-10v-26h-10v-1h-10v4h-10v-14h-10v-2h-10v-2h-10v-8h-10v-17h-10v-14h-10v8h-10v-31h-10v8h-10v22h-10v19h-10v31h-10v31h-10v13h-10v27h-10v-8h-10v47h-10v-63h-10v30h-10v-5h-10v-24h-10v-39h-10v4h-10v54h-10v-45h-10v7h-10v25h-10v21h-10v-16h-10v4h-10v19h-10v33h-10v-23h-10v37h-10v31h-10v-8h-10v8h-10v1h-10v83h-10v-89h-10v30h-10v-44h-10v12h-10v-7h-10v-30h-10v-11h-10v-62h-10v-13h-10v-23h-10v-20h-10v-4h-10v-74h-10v-9h-10v13h-10v-38h-10v-18h-10v14h-10v7h-10v-25h-10v2h-10v-25h-10v-3h-10v4h-10v19h-10v15h-10v7h-10v21h-10v2h-10v-18h-10v-16h-10v7h-10v10h-10v-64h-10v-15h-10v6h-10v-11h-10v-11h-10v33h-10v2h-10v-8h-10v38h-10v-21h-10v54h-10v-23h-10v14h-10v-7h-10v0h-10v-23h-10v-18h-10v44h-10v-40h-10v29h-10v22h-10v38h-10v33h-10v30h-10v14h-10v37h-10v19h-10v15h-10v-37h-10v49h-10v-42h-10v8h-10v-14h-10v-13h-10v17h-10v-13h-10v11h-10v-14h-10v6h-10v30h-10v-24h-10v67h-10v-69h-10v17h-10v16h-10v36h-10v-11h-10v92h-10v7h-10v17h-10v-14h-10v-8h-10v12h-10v32h-10v7h-10v29h-10Z" fill="#77ac30" fill-opacity="0.3" shape-rendering="crispEdges"/></g>
<path d="M298 1397.7V1391.7M298 1039.8V1045.8M422 1397.7V1391.7M422 1039.8V1045.8M545.9 1397.7V1391.7M545.9 1039.8V1045.8M669.9 1397.7V1391.7M669.9 1039.8V1045.8M174 1084.5H180M744.3 1084.5H738.3M174 1218.8H180M744.3 1218.8H738.3M174 1353H180M744.3 1353H738.3" stroke="#262626" stroke-width="1.5" fill="none"/>
<rect x="174" y="1039.8" width="570.3" height="357.9" fill="none" stroke="#262626" stroke-width="1.5"/>
<clipPath id="cp20"><rect x="174" y="1039.8" width="570.3" height="357.9"/></clipPath>
<clipPath id="lp20"><rect x="170.5" y="1039.8" width="577.3" height="357.9"/></clipPath>
<g clip-path="url(#lp20)"><path transform="scale(.1)" d="M1740 12147l5-3 5-13 5 7 5-1 5 7 5-16 5 20 5-35 5 28 5-22 5 19 5 15 5-1 5-5 5 4 5 24 5-41 5 28 5-34 5 14 5 8 5-14 5 16 5 10 5-26 5 19 5 2 5-17 5 30 5-4 5 39 5-28 5 43 5-31 5 41 5-19 5 2 5 7 5 7 5 5 5 2 5-32 5-16 5-23 5 35 5 12 5 0 5-1 5-5 5 0 5 6 5 6 5-30 5 35 5-39 5 18 5-9 5 3 5-9 5-3 5 13 5-12 5 53 5-44 5-5 5 0 5-6 5-22 5 34 5 7 5-26 5 24 5-21 5 16 5 4 5 1 5-6 5-18 5 17 5-16 5 14 5 2 5-14 5-13 5 28 5-18 5 8 5-8 5 33 5-13 5-26 5 42 5 11 5-13 5-36 5 5 5-1 5-2 5-18 5-21 5 22 5-10 5-34 5 13 5 4 5-13 5 6 5 1 5-2 5-13 5-27 5 24 5 15 5 9 5-35 5-7 5 22 5-2 5-15 5 0 5-28 5 24 5-20 5 12 5 2 5-2 5-27 5 17 5 19 5-6 5-4 5 16 5 8 5 10 5-18 5 12 5-4 5-9 5-10 5 17 5-13 5 45 5-32 5 2 5-3 5 38 5-37 5 19 5-5 5 11 5 4 5 28 5-34 5 24 5 23 5-41 5-2 5-19 5-40 5 27 5 5 5-40 5-33 5 20 5-16 5 2 5-15 5-27 5 1 5-38 5 36 5-18 5 6 5-5 5-27 5-4 5-16 5-23 5 21 5 2 5-24 5 21 5-15 5-1 5-24 5-19 5 29 5-7 5-12 5-9 5-4 5-3 5-13 5-21 5 35 5-39 5 17 5 1 5 14 5-17 5 47 5 3 5 11 5 14 5-20 5-29 5 59 5 19 5 7 5-21 5 11 5 14 5-19 5 28 5 12 5 45 5-21 5 47 5-11 5-22 5 69 5-37 5 33 5 26 5-24 5-1 5 53 5 1 5-5 5 18 5 26 5 34 5-1 5 29 5 28 5 12 5 19 5 13 5-25 5 59 5 3 5 11 5 5 5 13 5 27 5 39 5 4 5 25 5 22 5 32 5-2 5 21 5 36 5-16 5 25 5-15 5 31 5 1 5 7 5-7 5 1 5 17 5-1 5 31 5 8 5-33 5 34 5-19 5 8 5-18 5-21 5 33 5-10 5-31 5-12 5 19 5-10 5 8 5 10 5 9 5-33 5 19 5-3 5-30 5-23 5 34 5-10 5 25 5-18 5-16 5 6 5-42 5 13 5-13 5 26 5-21 5-58 5 63 5-40 5 31 5-22 5 8 5 2 5-10 5-22 5 28 5-26 5-7 5 10 5-23 5 32 5-18 5-1 5-7 5-22 5-12 5 21 5-2 5 3 5-15 5-19 5 23 5-5 5-3 5-16 5-24 5 32 5-33 5 17 5-26 5 35 5-23 5 26 5 13 5-13 5-39 5 3 5 0 5 22 5-8 5-8 5-2 5-2 5 0 5 15 5-27 5 7 5-29 5 10 5 11 5-10 5 21 5 16 5-20 5 1 5-3 5 10 5-8 5 12 5-6 5-7 5-2 5-18 5 0 5 16 5-34 5 5 5-18 5-14 5-3 5-12 5 7 5-18 5-7 5 21 5-29 5 14 5-22 5 0 5-30 5 5 5 27 5-33 5-10 5-20 5 3 5-31 5-8 5 13 5-3 5-21 5-3 5-8 5-4 5-16 5-10 5 16 5-34 5 7 5-3 5-17 5 13 5-15 5 2 5-15 5-1 5 20 5-2 5-12 5 11 5-7 5-4 5 20 5-33 5 9 5-7 5-12 5-16 5 29 5-9 5-8 5 0 5 3 5-17 5 22 5-27 5 26 5-16 5 16 5 15 5-12 5-8 5 13 5-9 5-9 5-1 5 25 5-16 5 1 5-34 5 23 5-28 5 27 5-20 5 44 5-60 5 46 5-8 5-42 5 21 5 24 5-5 5-43 5 15 5-15 5 1 5-1 5 37 5-27 5-7 5-6 5 11 5-1 5-21 5 26 5-42 5 11 5 5 5 23 5-32 5 3 5 14 5-13 5 0 5-1 5-15 5-3 5 3 5-18 5 16 5-54 5 11 5 30 5-18 5-19 5 12 5 13 5-29 5 19 5-15 5 0 5-5 5 14 5-35 5 11 5 12 5-33 5-11 5 28 5-10 5-7 5 0 5-21 5 57 5-58 5 8 5-14 5 11 5 25 5-23 5 4 5-19 5 29 5-26 5-25 5 28 5-23 5 14 5-8 5 5 5-5 5-19 5-13 5 38 5-22 5 4 5-15 5-28 5 14 5 38 5-36 5 4 5-19 5 12 5 2 5 1 5 0 5-10 5 1 5 2 5 0 5-9 5 26 5-21 5-3 5-16 5 27 5-33 5-14 5 7 5 18 5-31 5 34 5-24 5-24 5 16 5 26 5-46 5-10 5 25 5 8 5-7 5-21 5 8 5 10 5 17 5 19 5-24 5 28 5-15 5 21 5-20 5 8 5 20 5-17 5 29 5-18 5 15 5 0 5 3 5 16 5 14 5 37 5-71 5 21 5-7 5-13 5 10 5-23 5 10 5 27 5-51 5 38 5 1 5-19 5 28 5-1 5-19 5 24 5-40 5 25 5-10 5-10 5 6 5 3 5 15 5-36 5 25 5-7 5 27 5-36 5 32 5-41 5 29 5-14 5 9 5-19 5-22 5 1 5 40 5-16 5-10 5 22 5-23 5-1 5-3 5 31 5 10 5-54 5 13 5 1 5 6 5-83 5 27 5-7 5-48 5 7 5-22 5-4 5-25 5 9 5-16 5 24 5-6 5-8 5-16 5 44 5 2 5 0 5-21 5 12 5 32 5-13 5-18 5 11 5 1 5-2 5-11 5 43 5 1 5-13 5-21 5 22 5 5 5 20 5-22 5 22 5-12 5-10 5-34 5 29 5-10 5 23 5 4 5 15 5-26 5-15 5 47 5-33 5-9 5 1 5-22 5 26 5-11 5 14 5-10 5-7 5-2 5-27 5-4 5 0 5-20 5 14 5-12 5 9 5-11 5-33 5 24 5 18 5-56 5 10 5 9 5-29 5 9 5 11 5-23 5 24 5 5 5-27 5 26 5 17 5-19 5 15 5 6 5-8 5 25 5-10 5-19 5 29 5 8 5 9 5-17 5 24 5 24 5-8 5 23 5 9 5-16 5 17 5-5 5 27 5-12 5-2 5 16 5 10 5 17 5 5 5-12 5 21 5 27 5 12 5 5 5 53 5-6 5-10 5 24 5 21 5 1 5-18 5 39 5 10 5 44 5-46 5 58 5-14 5 24 5-11 5 20 5 25 5-7 5 26 5-14 5 6 5 16 5 0 5 18 5 29 5-29 5 6 5 34 5 33 5-1 5 7 5 5 5-23 5 16 5-37 5 37 5 26 5-28 5 9 5 20 5 29 5 28 5 30 5-11 5-36 5-12 5 48 5 23 5-37 5 21 5 12 5 13 5 3 5 9 5 18 5-5 5 16 5 20 5-37 5-1 5 29 5 15 5-30 5 12 5-20 5 20 5-15 5 21 5-2 5 6 5 18 5 0 5-26 5 16 5-39 5 49 5 28 5-32 5 1 5-2 5 20 5-17 5 14 5-13 5-1 5 6 5-2 5-22 5 61 5-26 5-25 5 50 5-12 5 8 5 11 5-23 5-30 5 46 5 5 5 14 5-26 5 6 5 10 5-6 5 1 5 3 5-17 5 37 5-37 5 20 5-7 5 0 5 22 5 11 5 14 5-5 5-11 5 25 5-34 5 29 5 11 5 1 5-25 5-4 5 50 5-30 5-9 5 5 5 25 5 20 5-12 5 22 5-10 5 5 5 9 5-17 5 10 5-7 5-4 5 20 5-21 5 24 5-10 5 15 5-6 5 21 5-23 5-8 5 13 5-74 5 24 5-38 5 42 5 7 5-1 5-12 5-21 5 28 5-27 5-21 5-26 5 16 5-21 5-9 5 5 5-5 5-17 5 29 5-37 5-9 5 18 5-9 5-2 5-16 5 1 5-17 5-17 5 33 5-32 5 4 5 10 5-10 5 38 5-68 5 5 5 14 5 20 5-29 5-22 5 34 5-37 5 6 5 9 5-31 5 4 5 10 5-13 5 8 5-24 5 5 5-20 5-12 5 41 5-26 5-1 5-35 5 11 5-10 5-33 5 22 5-30 5-5 5-32 5 25 5-19 5-14 5-34 5-6 5 12 5-37 5-5 5-11 5-32 5 39 5-58 5 33 5-6 5-24 5 28 5 1 5-15 5-18 5 16 5 4 5-19 5 13 5-16 5-4 5 8 5-35 5-6 5 9 5-1 5 14 5-11 5-17 5-3 5-7 5 0 5-2 5 19 5-21 5 3 5 6 5-10 5 2 5-32 5 37 5-11 5 0 5 4 5-32 5 66 5-34 5 11 5-21 5 44 5 0 5-7 5 24 5 23 5-25 5-6 5 33 5-13 5-8 5 36 5-33 5-11 5 2 5-12 5 4 5-2 5-23 5 3 5 11 5 2 5 2 5 1 5-14 5 2 5-13 5-1 5 17 5-53 5 36 5 43 5-73 5 53 5-47 5 37 5 29 5 6 5-29 5 2 5 6 5 35 5-9 5 13 5 13 5 12 5 8 5 2 5-13 5 52 5-59 5 70 5-23 5 15 5 5 5 12 5 16 5 11 5-4 5 42 5-5 5 34 5-13 5-2 5 24 5 14 5-16 5 10 5 34 5-29 5 9 5 25 5-15 5-17 5 17 5 37 5 7 5-1 5-3 5-22 5 32 5 11 5-20 5 30 5-10 5 11 5 6 5-24 5 50 5-35 5 13 5-2 5 19 5 3 5-4 5 23 5-13 5-9 5-37 5 43 5 5 5-6 5 3 5 25 5 13 5 19 5-10 5-28 5 23 5-20 5 35 5-3 5-16 5 10 5 4 5-4 5 31 5 22 5-33 5 9 5-8 5-4 5 44 5-33 5 23 5-3 5 10 5-8 5 12 5-32 5 16 5 20 5-38" fill="none" stroke="#0072bd" stroke-width="75.0" stroke-linejoin="round" shape-rendering="crispEdges"/><path transform="scale(.1)" d="M1740 12467l5-3 5 9 5-7 5-1 5-6 5 40 5-2 5-55 5 32 5 5 5-22 5 28 5-30 5 12 5-4 5 23 5-15 5-48 5 37 5-20 5 19 5-16 5 9 5 7 5-3 5 4 5-24 5 30 5-11 5-9 5 7 5 1 5-15 5 34 5-18 5 0 5-16 5-1 5 18 5-8 5 5 5 49 5-43 5 11 5-2 5 3 5 20 5-13 5 20 5-14 5-2 5-15 5 57 5-37 5-1 5 42 5-2 5-15 5-2 5 8 5 22 5 10 5-19 5 23 5-20 5-18 5 2 5 16 5 13 5-31 5 9 5-15 5 0 5 3 5 9 5 0 5 17 5-51 5-18 5 23 5-20 5 36 5-20 5-24 5 41 5 28 5-36 5 30 5-16 5-15 5 42 5-29 5 14 5-2 5-6 5 18 5-3 5-12 5-26 5 18 5 7 5 5 5 10 5 5 5-29 5-4 5-6 5 7 5-5 5-13 5 9 5-9 5 44 5-68 5 34 5-19 5 8 5-11 5-20 5-3 5-7 5-25 5-5 5 6 5-20 5-34 5-26 5 17 5-21 5 13 5-12 5-4 5-24 5-18 5-28 5 49 5-1 5 5 5-12 5 4 5-17 5 17 5 5 5 8 5-25 5 44 5-8 5-18 5 31 5 8 5-10 5 32 5 14 5-21 5 22 5 28 5-13 5 8 5 8 5 24 5 3 5-3 5 0 5-6 5 27 5-14 5-15 5 43 5-7 5 12 5 14 5 22 5-48 5 28 5 7 5 20 5-7 5 9 5-18 5 1 5 31 5-6 5 23 5 25 5-38 5 8 5 28 5-48 5-2 5 44 5-18 5 8 5 4 5 1 5 1 5 26 5-9 5-39 5 48 5-31 5 23 5 16 5-2 5-18 5 12 5-35 5 16 5 18 5 40 5-6 5-4 5 19 5-6 5 16 5-27 5 29 5-1 5 21 5-25 5 3 5 11 5 11 5 26 5-8 5-3 5 5 5 35 5-25 5 13 5 3 5 17 5 5 5-29 5 6 5-18 5-12 5 10 5 5 5-23 5-7 5-2 5-2 5-20 5 16 5 1 5-19 5-1 5 17 5-28 5-12 5-23 5 13 5-20 5 44 5-28 5 12 5-34 5-9 5-4 5-5 5 0 5-15 5-3 5-56 5 31 5-2 5-10 5-24 5 17 5-51 5-5 5 34 5-49 5-33 5 5 5 7 5-5 5 14 5-22 5-11 5-9 5-35 5-5 5-16 5-16 5 23 5-57 5 2 5 24 5-14 5-24 5-49 5 2 5 21 5-80 5 0 5-8 5-26 5-35 5 10 5 11 5-28 5-24 5 45 5-21 5 6 5 12 5-36 5-27 5 39 5-6 5-12 5 9 5-7 5-16 5 5 5 1 5-11 5 15 5 6 5-4 5-3 5 8 5-21 5-5 5-23 5 49 5-27 5-3 5-4 5 0 5-5 5 11 5-27 5 18 5 12 5-1 5-18 5 0 5-13 5 6 5 0 5 6 5 14 5-28 5-4 5 24 5-1 5-24 5 21 5-30 5 21 5-20 5 7 5-5 5-5 5 9 5-18 5 36 5-27 5-29 5 36 5-7 5 1 5-12 5 35 5-12 5-12 5 17 5-30 5 1 5 15 5-16 5 1 5 17 5-14 5 25 5-52 5 33 5-6 5 17 5 7 5-23 5-17 5 32 5-3 5 8 5-10 5-48 5 29 5 10 5 19 5-56 5 11 5 3 5 1 5 26 5-24 5-1 5 18 5-13 5-18 5-2 5 29 5-45 5 40 5-5 5 45 5-14 5-18 5 54 5-31 5 11 5 19 5 4 5 1 5-11 5 9 5 19 5-13 5 18 5-46 5 64 5-17 5-12 5 7 5 24 5 16 5-16 5 7 5 5 5 21 5-34 5 23 5-8 5 10 5-13 5 13 5-23 5 28 5 9 5-2 5 16 5-31 5 3 5 22 5 7 5-5 5-14 5 0 5 36 5-59 5 54 5 5 5 3 5 5 5-11 5 55 5-5 5-18 5-4 5-26 5 17 5 4 5 5 5-43 5 27 5-2 5 4 5 5 5-14 5-24 5 36 5-19 5 5 5 16 5-10 5-27 5 9 5 2 5 9 5 3 5 29 5-82 5 35 5 10 5-30 5 6 5 2 5 2 5 1 5-9 5-18 5 30 5-26 5 43 5-32 5-5 5 15 5-8 5 10 5-11 5 19 5 7 5-28 5 5 5-4 5-1 5 6 5 16 5-28 5 22 5 13 5 12 5-23 5 23 5 5 5-15 5 20 5 1 5 9 5 20 5-36 5 27 5-19 5 15 5-11 5-2 5-19 5 5 5-13 5-26 5-17 5 5 5 2 5-8 5-2 5 11 5-34 5-1 5 2 5-40 5 41 5-11 5 7 5-49 5 0 5 15 5-19 5-3 5 17 5-35 5-4 5-9 5-1 5 22 5-16 5-14 5 9 5-6 5-21 5 4 5 4 5 17 5-10 5-20 5-1 5 51 5-20 5-1 5 16 5-7 5 13 5 9 5 4 5 31 5-14 5 4 5-3 5 25 5 21 5-13 5-28 5 16 5 30 5 5 5 0 5-8 5 29 5-35 5 54 5-23 5-38 5-18 5 48 5-32 5-12 5 12 5-2 5-14 5 4 5-14 5 2 5-36 5 43 5-2 5-55 5 3 5-6 5 28 5-10 5-24 5 5 5-9 5 3 5-29 5 20 5-32 5-27 5-5 5-5 5-5 5 36 5-42 5 11 5-10 5-5 5-1 5-46 5 17 5-3 5 0 5-48 5 35 5-40 5 7 5 19 5-4 5-17 5 3 5-37 5-6 5 25 5-19 5-28 5 48 5-40 5 48 5-56 5 7 5 15 5 0 5 21 5 0 5 11 5 1 5-3 5-5 5 4 5-1 5 21 5-28 5 43 5-50 5 24 5-10 5 2 5 21 5-15 5 23 5 25 5-37 5 15 5-1 5-2 5 2 5 35 5-5 5-19 5 9 5 6 5 12 5 30 5-11 5 51 5-40 5 34 5 1 5-4 5 46 5-29 5 18 5-16 5-16 5 54 5-28 5 0 5-7 5 25 5-49 5 58 5-18 5-29 5 37 5 21 5 8 5-18 5 25 5-36 5 13 5-14 5 19 5 1 5-28 5 34 5 15 5 0 5-7 5 20 5 0 5 7 5 13 5-2 5-8 5 8 5 32 5-36 5 26 5 5 5 24 5-16 5 15 5 0 5 13 5-18 5-9 5-13 5 13 5 14 5-5 5-20 5 25 5-21 5 20 5 3 5-39 5 28 5-8 5-52 5 46 5-36 5-12 5-2 5-8 5 23 5-9 5 16 5-17 5-9 5-14 5-38 5-14 5 15 5 14 5-15 5 8 5-40 5 31 5-31 5-38 5 8 5 17 5-3 5-3 5-3 5-7 5 13 5-20 5 12 5-14 5 4 5-5 5 1 5-23 5 5 5-21 5 44 5-21 5-2 5 20 5 5 5-4 5 15 5 0 5-19 5 12 5 4 5-11 5 9 5-30 5 45 5-4 5-14 5 30 5-29 5 21 5 2 5-10 5 19 5 19 5-8 5-20 5 13 5 6 5 2 5 4 5-14 5 25 5 25 5-36 5 16 5-39 5 46 5 37 5-14 5-29 5 29 5-10 5-30 5 35 5 8 5-24 5 34 5 11 5-43 5 38 5-24 5 2 5 32 5-34 5 0 5-4 5 6 5 2 5-26 5-23 5 15 5-62 5 46 5-5 5-36 5-1 5-31 5 12 5-17 5 5 5-21 5 38 5-32 5-14 5 30 5 8 5-30 5-18 5 21 5-21 5-3 5 24 5-48 5 10 5 6 5-13 5-11 5 35 5 3 5-14 5 5 5 41 5-51 5 45 5-5 5 5 5-13 5 7 5 14 5-18 5-5 5 22 5-9 5 8 5-1 5-37 5 9 5 18 5-52 5 11 5-11 5-7 5 20 5-2 5-18 5-5 5-12 5 23 5-23 5 3 5 10 5-42 5-11 5-3 5 2 5-8 5 8 5-39 5 8 5 8 5-9 5 11 5-21 5 2 5 32 5-35 5 25 5-47 5 22 5 10 5-29 5 2 5-17 5 3 5-16 5 4 5-22 5 26 5-18 5-23 5-17 5-14 5 24 5-10 5-25 5-21 5 2 5 39 5-38 5 13 5-43 5 22 5 13 5-41 5-15 5 35 5-2 5-17 5 31 5-25 5-1 5 15 5 3 5 3 5 41 5-15 5 30 5 0 5-11 5-39 5 41 5-7 5-12 5 40 5 4 5 14 5 19 5-22 5 42 5 29 5-4 5-9 5 11 5 5 5 18 5 13 5-7 5 1 5-22 5 19 5 5 5 32 5-23 5 6 5 24 5-32 5 40 5 5 5-7 5 19 5-13 5-22 5 47 5-9 5 5 5 11 5-12 5-10 5 26 5-6 5-5 5 6 5 16 5-25 5-4 5 19 5 6 5 19 5-36 5 37 5-17 5 31 5-16 5 22 5-25 5-2 5 30 5-33 5 15 5-4 5 11 5-8 5-9 5 3 5 20 5-23 5 12 5 18 5 5 5-14 5 2 5 7 5 29 5-13 5 47 5-49 5 33 5 12 5-26 5 23 5 28 5-44 5 45 5-7 5 18 5 13 5-12 5 18 5 10 5-11 5 43 5-28 5-1 5 17 5 20 5-15 5 31 5-8 5-29 5 33 5-10 5 20 5-6 5 39 5 18 5-45 5 3 5 4 5 11 5 8 5-21 5 27 5-14 5 1 5-19 5 4 5 11 5 25 5-13 5-28 5 29 5-7 5-14 5 3 5 26 5-18 5 22 5 2 5-37 5 20 5-41 5 22 5 13 5-16 5 33 5-29 5 24 5-25 5 23 5 5 5 13 5 5 5 3 5 1 5-14 5 7 5 11 5-18 5 10 5 4 5-15 5 2 5-5 5-11 5 25 5-3 5-10 5-13 5-6 5 15 5-8 5 14 5-25 5-12 5 30 5-10 5 3 5 0 5-6 5-6 5-33 5 17 5-15 5 11" fill="none" stroke="#a2142f" stroke-width="75.0" stroke-linejoin="round" shape-rendering="crispEdges"/></g><g clip-path="url(#cp20)"><path transform="scale(.1)" d="M1740 11943h10v31h10v6h10v20h10v-21h10v17h10v-26h10v8h10v10h10v-19h10v-11h10v32h10v19h10v6h10v2h10v45h10v-29h10v32h10v0h10v28h10v8h10v-35h10v9h10v7h10v-15h10v2h10v19h10v-29h10v-11h10v3h10v-8h10v5h10v-12h10v-17h10v4h10v16h10v0h10v-20h10v6h10v-3h10v7h10v-19h10v1h10v22h10v9h10v-12h10v-2h10v-8h10v-18h10v-9h10v0h10v-6h10v-19h10v5h10v-6h10v-40h10v26h10v-27h10v-3h10v14h10v-15h10v-27h10v31h10v4h10v-1h10v-32h10v47h10v13h10v13h10v-56h10v29h10v11h10v15h10v4h10v8h10v-9h10v-5h10v12h10v1h10v-2h10v-42h10v-21h10v-24h10v-39h10v-15h10v-5h10v-19h10v0h10v-6h10v-54h10v26h10v-17h10v-3h10v-19h10v-27h10v-5h10v-10h10v16h10v-8h10v4h10v28h10v15h10v22h10v3h10v15h10v6h10v40h10v-5h10v18h10v-4h10v67h10v16h10v13h10v18h10v29h10v48h10v23h10v15h10v60h10v33h10v23h10v53h10v29h10v51h10v20h10v35h10v31h10v29h10v-3h10v22h10v-19h10v37h10v14h10v-40h10v46h10v-61h10v56h10v-15h10v-22h10v-2h10v-31h10v8h10v-12h10v-34h10v36h10v-29h10v-48h10v-12h10v22h10v4h10v-10h10v10h10v-4h10v-14h10v-11h10v-20h10v18h10v-6h10v-5h10v-1h10v-3h10v-36h10v5h10v-13h10v-25h10v28h10v-22h10v10h10v5h10v-3h10v-16h10v-6h10v7h10v18h10v-5h10v-15h10v25h10v-3h10v-10h10v22h10v-36h10v5h10v-21h10v-8h10v-52h10v30h10v-9h10v-11h10v-10h10v-30h10v11h10v-64h10v2h10v0h10v-30h10v-9h10v-11h10v-5h10v-28h10v30h10v-55h10v-46h10v49h10v-18h10v-1h10v-20h10v1h10v-37h10v41h10v-8h10v-3h10v-1h10v18h10v-23h10v14h10v4h10v-11h10v1h10v-10h10v-17h10v9h10v5h10v-12h10v11h10v-15h10v6h10v-11h10v-34h10v2h10v-4h10v-14h10v5h10v-16h10v18h10v0h10v-11h10v-13h10v-16h10v-27h10v-34h10v37h10v-23h10v25h10v-1h10v-22h10v14h10v-19h10v5h10v0h10v-28h10v-15h10v-3h10v10h10v-6h10v25h10v-11h10v-34h10v-9h10v-21h10v8h10v0h10v4h10v-29h10v7h10v-9h10v-16h10v22h10v2h10v12h10v-28h10v6h10v-20h10v10h10v-15h10v-5h10v-13h10v-3h10v-7h10v-21h10v-5h10v-13h10v0h10v-9h10v38h10v7h10v-31h10v59h10v-19h10v35h10v18h10v6h10v13h10v-21h10v16h10v-24h10v0h10v17h10v4h10v12h10v-20h10v0h10v14h10v-14h10v8h10v4h10v-16h10v5h10v-11h10v-19h10v19h10v18h10v-7h10v-16h10v9h10v-13h10v-10h10v-40h10v2h10v-28h10v-59h10v-13h10v7h10v0h10v17h10v9h10v13h10v5h10v12h10v-36h10v32h10v-2h10v20h10v-16h10v5h10v24h10v-47h10v27h10v-18h10v-19h10v26h10v-29h10v13h10v-9h10v-6h10v5h10v-36h10v-1h10v-22h10v12h10v-33h10v3h10v2h10v-21h10v0h10v5h10v16h10v-26h10v17h10v22h10v7h10v27h10v-8h10v7h10v34h10v-1h10v1h10v35h10v11h10v0h10v30h10v38h10v21h10v15h10v-32h10v96h10v-21h10v79h10v13h10v-3h10v59h10v10h10v36h10v7h10v17h10v26h10v-29h10v57h10v8h10v-5h10v9h10v33h10v24h10v13h10v5h10v4h10v20h10v11h10v-2h10v25h10v38h10v-18h10v-1h10v-18h10v6h10v37h10v-26h10v16h10v-13h10v10h10v34h10v-11h10v-8h10v28h10v-30h10v6h10v4h10v11h10v34h10v-38h10v44h10v-1h10v8h10v-29h10v17h10v5h10v-7h10v12h10v20h10v-5h10v17h10v-14h10v31h10v2h10v-13h10v12h10v24h10v37h10v3h10v-18h10v-28h10v-22h10v43h10v14h10v0h10v10h10v-26h10v-11h10v8h10v-36h10v21h10v-55h10v7h10v-24h10v-7h10v-11h10v0h10v-22h10v-11h10v-10h10v-16h10v-12h10v-5h10v15h10v-23h10v-18h10v1h10v2h10v1h10v-31h10v-1h10v-13h10v-12h10v-2h10v-23h10v-27h10v-1h10v-48h10v-7h10v-24h10v-37h10v-20h10v-43h10v7h10v-30h10v-36h10v42h10v-40h10v19h10v-8h10v1h10v-69h10v62h10v-24h10v-44h10v15h10v28h10v-18h10v29h10v-15h10v-4h10v-38h10v30h10v-33h10v37h10v4h10v31h10v27h10v26h10v-22h10v0h10v-9h10v-11h10v-20h10v23h10v2h10v-34h10v18h10v-14h10v5h10v1h10v-37h10v44h10v17h10v9h10v-52h10v53h10v36h10v7h10v44h10v-7h10v20h10v26h10v12h10v-8h10v48h10v12h10v13h10v16h10v2h10v1h10v45h10v-46h10v52h10v5h10v-20h10v46h10v-35h10v58h10v-1h10v-6h10v16h10v19h10v-5h10v-7h10v29h10v3h10v6h10v7h10v39h10v4h10v-13h10v3h10v-2h10v-1h10v20h10v-3h10v34h10v10h10v-30h10v24h10v-63h10v55h10V12523h-10v-8h-10v29h-10v-21h-10v40h-10v-12h-10v-14h-10v-23h-10v2h-10v2h-10v38h-10v-51h-10v15h-10v-6h-10v-48h-10v11h-10v-7h-10v16h-10v-16h-10v12h-10v-21h-10v-8h-10v5h-10v-33h-10v8h-10v-10h-10v25h-10v-35h-10v-14h-10v1h-10v-17h-10v-13h-10v-2h-10v22h-10v-31h-10v-40h-10v17h-10v-56h-10v15h-10v-58h-10v36h-10v-69h-10v-36h-10v27h-10v-63h-10v0h-10v-16h-10v-24h-10v-9h-10v-23h-10v-20h-10v-7h-10v6h-10v41h-10v-25h-10v-26h-10v33h-10v0h-10v8h-10v-10h-10v20h-10v-7h-10v18h-10v39h-10v11h-10v-36h-10v-50h-10v15h-10v-7h-10v-16h-10v26h-10v-25h-10v5h-10v2h-10v9h-10v1h-10v-8h-10v12h-10v2h-10v19h-10v-2h-10v10h-10v36h-10v-6h-10v20h-10v16h-10v11h-10v6h-10v-17h-10v25h-10v20h-10v9h-10v32h-10v10h-10v32h-10v41h-10v5h-10v14h-10v7h-10v32h-10v5h-10v12h-10v-10h-10v11h-10v12h-10v5h-10v56h-10v-40h-10v-14h-10v30h-10v-3h-10v16h-10v10h-10v27h-10v0h-10v2h-10v4h-10v1h-10v3h-10v33h-10v16h-10v0h-10v40h-10v-9h-10v29h-10v0h-10v-9h-10v32h-10v12h-10v5h-10v-33h-10v3h-10v48h-10v-76h-10v1h-10v-1h-10v-20h-10v11h-10v14h-10v5h-10v28h-10v-40h-10v20h-10v-71h-10v4h-10v-11h-10v-14h-10v13h-10v27h-10v-28h-10v7h-10v-24h-10v33h-10v-33h-10v22h-10v-33h-10v1h-10v-5h-10v4h-10v11h-10v-26h-10v37h-10v-23h-10v-1h-10v3h-10v4h-10v-42h-10v10h-10v-33h-10v5h-10v0h-10v27h-10v10h-10v-50h-10v-28h-10v-9h-10v-1h-10v-32h-10v-1h-10v-27h-10v2h-10v-30h-10v-24h-10v-31h-10v6h-10v-28h-10v1h-10v-27h-10v16h-10v-52h-10v0h-10v-32h-10v-21h-10v2h-10v-26h-10v-10h-10v-63h-10v14h-10v-42h-10v-27h-10v-3h-10v-32h-10v-26h-10v-42h-10v-13h-10v5h-10v20h-10v-51h-10v-12h-10v-14h-10v-18h-10v11h-10v-20h-10v-27h-10v-14h-10v16h-10v26h-10v-13h-10v-39h-10v1h-10v-8h-10v0h-10v14h-10v16h-10v6h-10v31h-10v-24h-10v28h-10v3h-10v-4h-10v3h-10v4h-10v20h-10v38h-10v-34h-10v0h-10v5h-10v11h-10v13h-10v-29h-10v56h-10v-44h-10v-30h-10v-18h-10v-2h-10v34h-10v-31h-10v0h-10v1h-10v-32h-10v12h-10v-6h-10v26h-10v33h-10v17h-10v8h-10v45h-10v15h-10v13h-10v-9h-10v21h-10v9h-10v-20h-10v19h-10v-25h-10v37h-10v9h-10v-17h-10v-11h-10v-5h-10v17h-10v-23h-10v35h-10v39h-10v-33h-10v-10h-10v6h-10v6h-10v14h-10v-3h-10v3h-10v13h-10v-31h-10v31h-10v-26h-10v-9h-10v-3h-10v6h-10v-27h-10v-46h-10v46h-10v-40h-10v18h-10v8h-10v23h-10v0h-10v-22h-10v25h-10v34h-10v-40h-10v-12h-10v36h-10v-12h-10v14h-10v15h-10v-1h-10v-18h-10v15h-10v22h-10v-40h-10v52h-10v-22h-10v9h-10v15h-10v5h-10v-21h-10v20h-10v-1h-10v2h-10v7h-10v8h-10v1h-10v5h-10v55h-10v-43h-10v22h-10v26h-10v-27h-10v9h-10v1h-10v51h-10v-14h-10v-9h-10v5h-10v-3h-10v25h-10v34h-10v-13h-10v-14h-10v2h-10v14h-10v4h-10v21h-10v-9h-10v39h-10v-30h-10v16h-10v-28h-10v1h-10v-2h-10v-2h-10v0h-10v14h-10v9h-10v53h-10v-55h-10v9h-10v-10h-10v2h-10v-2h-10v-5h-10v21h-10v-15h-10v8h-10v34h-10v-21h-10v-20h-10v20h-10v-9h-10v60h-10v3h-10v-34h-10v51h-10v-22h-10v37h-10v-8h-10v20h-10v-4h-10v19h-10v4h-10v30h-10v36h-10v2h-10v4h-10v21h-10v8h-10v23h-10v14h-10v33h-10v-11h-10v14h-10v2h-10v27h-10v-6h-10v4h-10v33h-10v-44h-10v7h-10v5h-10v-16h-10v-5h-10v35h-10v41h-10v19h-10v-55h-10v-5h-10v9h-10v0h-10v-2h-10v21h-10v20h-10v-8h-10v29h-10v-9h-10v17h-10v-10h-10v3h-10v20h-10v8h-10v19h-10v-1h-10v25h-10v-6h-10v2h-10v25h-10v-8h-10v-10h-10v60h-10v-57h-10v21h-10v8h-10v60h-10v-34h-10v7h-10v13h-10v12h-10v-19h-10v35h-10v-2h-10v3h-10v-7h-10v-39h-10v28h-10v-32h-10v-24h-10v-48h-10v-15h-10v-21h-10v-35h-10v-55h-10v-27h-10v-61h-10v-18h-10v25h-10v-100h-10v-14h-10v-34h-10v-37h-10v-41h-10v-17h-10v-18h-10v-12h-10v-35h-10v-22h-10v-16h-10v-19h-10v-28h-10v-3h-10v-33h-10v-3h-10v3h-10v-52h-10v-14h-10v10h-10v16h-10v-5h-10v19h-10v8h-10v38h-10v-24h-10v9h-10v-3h-10v25h-10v7h-10v19h-10v6h-10v9h-10v13h-10v25h-10v17h-10v52h-10v58h-10v61h-10v-57h-10v11h-10v-4h-10v-34h-10v26h-10v-11h-10v8h-10v-31h-10v3h-10v14h-10v12h-10v-27h-10v-16h-10v-18h-10v-3h-10v4h-10v23h-10v1h-10v-16h-10v23h-10v-6h-10v4h-10v13h-10v21h-10v11h-10v-9h-10v10h-10v3h-10v-6h-10v34h-10v-5h-10v21h-10v29h-10v0h-10v-16h-10v8h-10v-27h-10v-11h-10v34h-10v-10h-10v10h-10v21h-10v-8h-10v17h-10v-20h-10v-16h-10v11h-10v-1h-10v6h-10v34h-10v-52h-10v39h-10v-23h-10v-11h-10v-6h-10v-1h-10v-10h-10v12h-10v7h-10v12h-10v-26h-10v-8h-10v18h-10v-5h-10v-33h-10v2h-10v-17h-10v-2h-10v-10h-10v32h-10v-9h-10v-7h-10v5h-10v-8h-10v-9h-10v11h-10v11h-10v9h-10v1h-10Z" fill="#0072bd" fill-opacity="0.3" shape-rendering="crispEdges"/><path transform="scale(.1)" d="M1740 12264h10v-5h10v10h10v8h10v13h10v3h10v-15h10v22h10v-47h10v51h10v-13h10v7h10v6h10v-14h10v36h10v-14h10v-3h10v9h10v-12h10v21h10v8h10v15h10v-10h10v-10h10v43h10v-19h10v-9h10v36h10v-2h10v15h10v-30h10v44h10v6h10v-17h10v-13h10v11h10v15h10v-94h10v45h10v9h10v-24h10v19h10v-7h10v4h10v-5h10v25h10v1h10v-58h10v69h10v-19h10v15h10v-14h10v-46h10v45h10v-23h10v12h10v-14h10v2h10v-34h10v19h10v-44h10v-28h10v-37h10v-1h10v-26h10v-18h10v-6h10v-31h10v-4h10v11h10v1h10v-9h10v7h10v14h10v26h10v10h10v15h10v28h10v11h10v9h10v19h10v36h10v-26h10v0h10v2h10v2h10v58h10v1h10v6h10v3h10v10h10v13h10v-8h10v33h10v-8h10v6h10v-13h10v4h10v29h10v-29h10v36h10v12h10v3h10v-1h10v35h10v9h10v22h10v5h10v-2h10v4h10v10h10v-4h10v10h10v30h10v-24h10v6h10v27h10v-3h10v-11h10v-19h10v-6h10v13h10v-23h10v-21h10v-14h10v-7h10v14h10v-24h10v-45h10v6h10v-1h10v-8h10v-21h10v-32h10v-34h10v-27h10v-15h10v-16h10v-1h10v-27h10v-2h10v-17h10v-50h10v8h10v-52h10v-5h10v-30h10v-42h10v-11h10v-62h10v-2h10v-29h10v-41h10v38h10v-18h10v-57h10v40h10v-12h10v9h10v-55h10v55h10v-66h10v41h10v-23h10v18h10v-17h10v-20h10v19h10v1h10v-18h10v5h10v13h10v-28h10v7h10v-8h10v-21h10v-4h10v10h10v-1h10v9h10v-33h10v8h10v-18h10v22h10v20h10v-23h10v13h10v24h10v-22h10v-44h10v48h10v1h10v-8h10v-59h10v55h10v-38h10v13h10v15h10v7h10v13h10v-30h10v-5h10v22h10v-4h10v0h10v24h10v12h10v10h10v25h10v11h10v12h10v-1h10v7h10v3h10v-31h10v46h10v3h10v-53h10v30h10v27h10v-37h10v29h10v35h10v-6h10v3h10v-9h10v1h10v32h10v11h10v3h10v3h10v1h10v-5h10v-26h10v37h10v10h10v-45h10v16h10v17h10v-1h10v-16h10v1h10v-20h10v15h10v-15h10v12h10v-14h10v-2h10v1h10v16h10v-20h10v17h10v13h10v-23h10v-5h10v-1h10v9h10v-12h10v42h10v14h10v9h10v0h10v13h10v-12h10v-10h10v-22h10v-52h10v9h10v7h10v-9h10v-14h10v-42h10v-35h10v9h10v-23h10v16h10v-9h10v-10h10v-8h10v-14h10v11h10v-31h10v14h10v37h10v-33h10v25h10v21h10v10h10v5h10v1h10v30h10v31h10v-19h10v35h10v-5h10v-15h10v1h10v-6h10v-15h10v-4h10v-10h10v-24h10v-32h10v10h10v10h10v-21h10v-4h10v-28h10v6h10v-36h10v-15h10v-67h10v41h10v10h10v-29h10v-39h10v-1h10v-16h10v2h10v-18h10v-53h10v49h10v-15h10v-11h10v-2h10v-22h10v32h10v8h10v18h10v21h10v-13h10v-6h10v-17h10v11h10v-1h10v22h10v4h10v-34h10v40h10v2h10v41h10v14h10v-6h10v57h10v-31h10v19h10v9h10v-8h10v12h10v2h10v-3h10v5h10v26h10v17h10v5h10v10h10v6h10v-3h10v29h10v-5h10v9h10v15h10v-3h10v6h10v15h10v-1h10v27h10v-9h10v-65h10v60h10v15h10v-10h10v-29h10v24h10v-4h10v-27h10v6h10v-19h10v-20h10v-22h10v7h10v-24h10v-23h10v4h10v-17h10v-2h10v-11h10v-12h10v-31h10v1h10v13h10v-36h10v1h10v11h10v-2h10v-24h10v38h10v-26h10v26h10v6h10v2h10v-5h10v39h10v4h10v-15h10v-3h10v10h10v13h10v27h10v11h10v-12h10v1h10v8h10v-5h10v21h10v-31h10v27h10v10h10v8h10v9h10v-37h10v-10h10v-22h10v-36h10v-18h10v23h10v-7h10v-6h10v-18h10v-4h10v-57h10v-36h10v29h10v21h10v-12h10v8h10v18h10v-15h10v-13h10v-12h10v35h10v-23h10v38h10v2h10v34h10v-44h10v-24h10v-14h10v-20h10v3h10v-23h10v-35h10v26h10v-41h10v11h10v-3h10v-7h10v5h10v-30h10v6h10v-14h10v-7h10v3h10v2h10v-55h10v33h10v-21h10v-22h10v2h10v-22h10v-15h10v-12h10v-1h10v-12h10v-26h10v6h10v-4h10v23h10v-22h10v6h10v47h10v23h10v7h10v-5h10v-11h10v34h10v25h10v29h10v-12h10v43h10v22h10v-12h10v4h10v2h10v-33h10v44h10v21h10v3h10v-2h10v5h10v9h10v13h10v23h10v-1h10v12h10v2h10v-8h10v-23h10v33h10v-6h10v-15h10v3h10v-8h10v40h10v-47h10v52h10v26h10v-4h10v17h10v-35h10v21h10v50h10v-4h10v41h10v3h10v-3h10v34h10v14h10v-11h10v15h10v10h10v1h10v31h10v26h10v-14h10v-3h10v29h10v-13h10v-45h10v38h10v-6h10v4h10v-5h10v-1h10v27h10v-15h10v8h10v-11h10v8h10v-44h10v50h10v-9h10v19h10v16h10v-25h10v11h10v-21h10v26h10v-8h10v15h10v-1h10v-17h10v14h10v-30h10v26h10v9h10v-12h10v-30h10v-42h10v37h10v5h10v-6h10V12197h-10v-3h-10v-8h-10v27h-10v-25h-10v29h-10v-4h-10v20h-10v30h-10v2h-10v-15h-10v8h-10v-1h-10v-14h-10v11h-10v59h-10v-39h-10v-48h-10v18h-10v-22h-10v25h-10v-27h-10v27h-10v-49h-10v5h-10v-9h-10v20h-10v-18h-10v-9h-10v32h-10v20h-10v-26h-10v27h-10v-26h-10v8h-10v0h-10v-6h-10v-9h-10v44h-10v-53h-10v-37h-10v-17h-10v5h-10v-7h-10v14h-10v-18h-10v-40h-10v-18h-10v7h-10v-31h-10v5h-10v-45h-10v16h-10v-12h-10v10h-10v-27h-10v-2h-10v-18h-10v29h-10v-4h-10v2h-10v-6h-10v-4h-10v8h-10v-47h-10v32h-10v-23h-10v8h-10v-40h-10v19h-10v-17h-10v-1h-10v-5h-10v-10h-10v-6h-10v59h-10v-72h-10v-36h-10v56h-10v-50h-10v36h-10v-54h-10v-11h-10v-25h-10v-30h-10v-12h-10v7h-10v-56h-10v-26h-10v2h-10v6h-10v22h-10v-50h-10v-14h-10v1h-10v-9h-10v18h-10v-12h-10v19h-10v35h-10v5h-10v5h-10v19h-10v23h-10v0h-10v41h-10v-3h-10v16h-10v15h-10v14h-10v29h-10v-5h-10v5h-10v-21h-10v79h-10v-61h-10v33h-10v-42h-10v36h-10v25h-10v10h-10v59h-10v-13h-10v-25h-10v9h-10v21h-10v11h-10v80h-10v-73h-10v3h-10v-23h-10v38h-10v-34h-10v-10h-10v-22h-10v11h-10v-2h-10v30h-10v-1h-10v-6h-10v4h-10v8h-10v56h-10v-34h-10v20h-10v-3h-10v11h-10v30h-10v46h-10v-19h-10v8h-10v13h-10v20h-10v3h-10v-7h-10v23h-10v-36h-10v9h-10v13h-10v-32h-10v2h-10v-4h-10v18h-10v19h-10v-71h-10v-10h-10v8h-10v-11h-10v10h-10v-11h-10v-26h-10v3h-10v5h-10v29h-10v-62h-10v20h-10v-4h-10v-1h-10v-11h-10v10h-10v9h-10v20h-10v-28h-10v-24h-10v79h-10v-35h-10v-2h-10v14h-10v22h-10v9h-10v13h-10v11h-10v32h-10v-12h-10v49h-10v-29h-10v3h-10v50h-10v33h-10v-17h-10v-17h-10v32h-10v-1h-10v-36h-10v13h-10v25h-10v-34h-10v7h-10v-7h-10v23h-10v-56h-10v-9h-10v-15h-10v-1h-10v-1h-10v-21h-10v5h-10v-9h-10v58h-10v-57h-10v-12h-10v-20h-10v22h-10v-18h-10v-37h-10v42h-10v-1h-10v-14h-10v-4h-10v-47h-10v-2h-10v-35h-10v-29h-10v-15h-10v-2h-10v14h-10v-14h-10v29h-10v-64h-10v17h-10v-12h-10v19h-10v-4h-10v-25h-10v-4h-10v6h-10v3h-10v-19h-10v22h-10v-30h-10v17h-10v23h-10v3h-10v8h-10v1h-10v21h-10v-5h-10v40h-10v28h-10v-7h-10v14h-10v28h-10v8h-10v10h-10v17h-10v8h-10v9h-10v78h-10v-40h-10v13h-10v-7h-10v58h-10v-13h-10v-2h-10v42h-10v-25h-10v8h-10v22h-10v38h-10v-85h-10v19h-10v-24h-10v-31h-10v20h-10v-35h-10v-13h-10v22h-10v-36h-10v-8h-10v-30h-10v18h-10v8h-10v-4h-10v6h-10v16h-10v26h-10v-4h-10v4h-10v16h-10v-4h-10v45h-10v-5h-10v12h-10v23h-10v5h-10v-2h-10v29h-10v24h-10v9h-10v0h-10v-13h-10v-3h-10v15h-10v-31h-10v13h-10v11h-10v-28h-10v-24h-10v13h-10v-1h-10v-17h-10v13h-10v16h-10v27h-10v-25h-10v-20h-10v10h-10v-2h-10v15h-10v39h-10v-44h-10v15h-10v3h-10v18h-10v-23h-10v10h-10v12h-10v-5h-10v9h-10v-5h-10v12h-10v27h-10v-30h-10v-15h-10v-8h-10v51h-10v-71h-10v11h-10v-4h-10v8h-10v-31h-10v15h-10v6h-10v-20h-10v5h-10v-22h-10v-7h-10v-7h-10v-23h-10v14h-10v-34h-10v51h-10v-36h-10v-4h-10v-30h-10v-8h-10v-8h-10v39h-10v-55h-10v-14h-10v-19h-10v37h-10v-18h-10v-11h-10v8h-10v17h-10v-20h-10v8h-10v11h-10v-4h-10v0h-10v0h-10v4h-10v-28h-10v30h-10v-7h-10v-16h-10v35h-10v-5h-10v3h-10v-4h-10v44h-10v-21h-10v-13h-10v8h-10v-6h-10v-6h-10v28h-10v-17h-10v33h-10v-16h-10v-12h-10v25h-10v-11h-10v-3h-10v-4h-10v-11h-10v33h-10v16h-10v-40h-10v53h-10v-27h-10v-9h-10v3h-10v69h-10v-74h-10v17h-10v27h-10v9h-10v-22h-10v16h-10v20h-10v7h-10v17h-10v18h-10v37h-10v33h-10v29h-10v39h-10v6h-10v22h-10v46h-10v11h-10v33h-10v6h-10v35h-10v-6h-10v35h-10v24h-10v18h-10v19h-10v-3h-10v43h-10v6h-10v16h-10v5h-10v-4h-10v-5h-10v19h-10v8h-10v34h-10v-10h-10v53h-10v-19h-10v14h-10v11h-10v-3h-10v-13h-10v5h-10v-12h-10v-8h-10v15h-10v-15h-10v-9h-10v-4h-10v-13h-10v-12h-10v-7h-10v-28h-10v0h-10v10h-10v-23h-10v-2h-10v-5h-10v37h-10v-40h-10v3h-10v-9h-10v9h-10v-15h-10v-9h-10v30h-10v-62h-10v-12h-10v-14h-10v10h-10v-27h-10v-22h-10v12h-10v-24h-10v16h-10v27h-10v-38h-10v-11h-10v-46h-10v-33h-10v-17h-10v-36h-10v-13h-10v18h-10v-13h-10v-15h-10v-18h-10v4h-10v34h-10v-28h-10v15h-10v15h-10v45h-10v12h-10v39h-10v7h-10v32h-10v23h-10v5h-10v15h-10v14h-10v-13h-10v13h-10v-17h-10v25h-10v-5h-10v2h-10v-3h-10v4h-10v15h-10v-4h-10v-16h-10v-12h-10v-19h-10v8h-10v-17h-10v7h-10v-5h-10v13h-10v37h-10v-15h-10v10h-10v3h-10v36h-10v3h-10v-39h-10v-22h-10v-8h-10v-7h-10v-3h-10v9h-10v4h-10v20h-10v-57h-10v7h-10v-2h-10v-23h-10v-21h-10v31h-10v2h-10v-21h-10v42h-10v-42h-10v11h-10v-3h-10v46h-10v-6h-10v-10h-10v24h-10v-21h-10v61h-10v-24h-10v-1h-10v0h-10v13h-10v31h-10Z" fill="#a2142f" fill-opacity="0.3" shape-rendering="crispEdges"/></g>
<path d="M1050.7 1397.7V1391.7M1050.7 1039.8V1045.8M1174.6 1397.7V1391.7M1174.6 1039.8V1045.8M1298.5 1397.7V1391.7M1298.5 1039.8V1045.8M1422.4 1397.7V1391.7M1422.4 1039.8V1045.8M926.8 1084.5H932.8M1496.7 1084.5H1490.7M926.8 1218.8H932.8M1496.7 1218.8H1490.7M926.8 1353H932.8M1496.7 1353H1490.7" stroke="#262626" stroke-width="1.5" fill="none"/>
<rect x="926.8" y="1039.8" width="569.9" height="357.9" fill="none" stroke="#262626" stroke-width="1.5"/>
<clipPath id="cp21"><rect x="926.8" y="1039.8" width="569.9" height="357.9"/></clipPath>
<clipPath id="lp21"><rect x="923.3" y="1039.8" width="576.9" height="357.9"/></clipPath>
<g clip-path="url(#lp21)"><path transform="scale(.1)" d="M9268 12171l5-16 5 17 5 23 5-40 5 14 5-29 5 1 5-3 5 18 5-34 5 5 5 9 5 22 5-23 5 19 5-15 5-6 5 17 5-30 5-11 5 11 5-21 5 2 5 7 5 9 5 19 5 7 5-13 5 11 5 7 5-5 5 40 5-3 5 31 5-3 5 7 5 31 5 1 5 1 5 47 5 0 5 9 5 6 5-1 5-24 5 43 5 9 5 27 5-11 5 36 5 6 5 27 5-26 5 15 5 4 5 0 5 9 5-16 5-26 5 43 5-53 5 38 5 11 5-29 5 7 5-1 5-17 5 17 5-20 5 20 5 6 5 12 5 11 5-5 5 8 5-8 5 8 5 17 5 5 5 0 5-6 5 17 5-29 5 11 5 14 5 9 5-40 5 3 5-2 5 25 5 0 5 11 5 8 5-47 5 12 5-2 5-11 5 14 5-9 5 16 5-10 5-23 5 23 5 2 5-14 5-24 5-7 5 12 5 31 5 5 5-12 5-5 5-41 5 37 5-18 5 1 5-11 5-16 5 40 5-4 5-12 5 1 5 19 5 29 5-4 5-4 5 15 5-10 5-18 5 26 5-12 5-4 5 32 5-7 5-18 5 37 5-4 5 0 5 2 5 1 5 0 5 28 5 6 5-11 5 8 5-5 5 4 5 15 5 1 5 19 5-19 5 17 5 1 5 5 5 18 5-5 5-12 5 5 5 3 5 5 5 2 5 10 5 5 5 11 5-11 5 17 5 6 5 12 5-4 5 11 5 0 5 20 5-18 5-24 5 23 5-26 5-27 5 31 5-16 5-4 5-2 5-18 5 12 5-23 5-17 5-10 5-42 5 27 5-40 5 4 5-25 5-11 5-27 5 20 5-75 5 10 5-21 5-24 5 35 5-24 5 33 5-19 5-8 5 3 5-21 5-2 5 36 5-11 5-24 5 13 5-6 5 15 5-10 5-11 5 23 5-20 5 21 5-8 5-35 5 72 5-32 5 28 5-1 5-16 5-10 5 46 5-21 5 16 5-4 5 15 5-8 5-14 5 16 5 17 5-21 5 11 5-1 5 17 5 9 5-56 5 39 5 25 5-44 5 9 5 36 5-14 5-9 5 13 5 8 5-4 5 9 5 2 5 5 5 0 5 5 5-4 5 24 5-20 5-2 5-7 5 19 5 20 5-3 5 12 5-20 5 11 5-21 5 16 5 6 5-16 5-20 5 1 5-16 5-28 5-12 5-8 5 6 5-13 5-17 5-21 5 19 5-50 5-8 5-17 5-4 5-55 5 17 5-32 5-8 5-31 5-15 5 11 5-16 5-49 5 15 5-26 5 15 5-17 5-6 5-23 5-11 5-22 5-21 5 1 5 16 5-4 5-39 5-4 5-3 5-10 5-13 5 5 5 9 5-2 5 4 5-33 5-34 5 16 5-17 5 8 5-8 5 28 5-24 5 16 5 32 5-22 5-20 5 34 5-5 5 2 5 3 5-24 5 0 5 17 5-21 5 12 5 29 5-33 5 23 5 12 5-9 5 3 5 27 5-37 5 48 5-33 5 16 5-14 5-3 5 36 5-5 5 14 5-15 5 20 5-3 5 23 5 11 5 5 5 4 5-13 5 20 5-10 5 35 5-16 5 26 5-20 5 13 5 0 5-21 5 33 5-20 5-8 5 40 5 28 5 5 5-14 5-1 5 2 5 42 5 7 5 15 5 27 5-10 5-3 5 6 5 11 5 17 5 21 5 0 5 8 5 1 5 5 5 8 5 2 5-32 5 9 5 8 5 2 5 16 5 2 5-14 5 36 5-10 5 3 5-21 5 23 5-14 5-7 5 18 5-17 5 1 5 32 5 8 5-18 5 24 5 6 5-5 5-13 5-16 5 18 5-36 5 4 5-4 5 5 5-34 5-10 5-8 5-14 5 6 5-4 5 2 5-29 5 5 5-22 5 1 5 22 5-29 5-26 5 20 5 4 5-17 5 31 5 6 5-14 5 21 5-46 5 33 5-14 5 34 5-28 5-1 5 3 5-2 5 6 5 19 5-5 5 3 5 4 5-13 5 38 5-37 5 27 5-12 5 17 5-12 5 26 5 4 5 10 5 17 5-15 5 12 5-30 5 42 5 17 5-1 5 14 5 1 5-17 5 41 5-25 5-13 5 28 5-13 5-4 5-15 5-16 5 20 5-32 5 8 5-22 5-12 5 20 5-30 5 20 5-55 5 17 5-39 5-5 5-25 5-61 5 15 5-32 5-34 5 0 5-31 5-16 5-1 5-19 5-27 5-21 5 26 5-39 5-17 5 43 5-3 5-55 5 28 5-18 5 45 5-14 5 0 5 46 5-10 5 30 5-5 5 42 5 9 5-8 5-14 5 44 5-10 5 32 5 10 5-18 5 15 5-29 5 28 5 18 5-41 5 34 5-6 5 8 5-8 5-3 5 19 5-10 5 2 5-30 5 20 5-4 5-14 5-7 5-30 5 7 5 0 5-11 5 33 5-25 5-32 5 33 5-59 5-3 5 4 5 2 5 35 5-45 5 9 5-30 5 8 5 33 5-22 5-12 5 4 5-17 5-12 5-24 5-10 5 14 5 1 5-7 5 26 5 22 5-22 5-19 5 4 5 36 5-3 5-10 5 7 5 11 5-14 5 6 5-8 5-26 5 33 5 1 5 1 5-12 5 10 5 0 5-4 5-10 5-1 5 13 5 8 5 19 5-30 5 6 5 2 5-31 5 26 5-19 5-5 5 16 5-20 5 7 5-21 5 13 5-15 5 8 5 41 5-41 5-4 5-7 5-10 5 37 5-40 5 48 5-42 5 16 5-14 5-16 5 7 5 18 5-26 5-28 5 57 5-45 5 8 5 21 5-47 5 16 5 16 5-1 5 2 5-19 5 32 5-17 5 10 5-13 5 43 5-26 5 7 5-7 5 18 5-20 5 21 5 6 5 35 5-21 5 12 5 13 5 24 5 30 5-10 5 8 5 26 5-15 5 14 5-8 5 15 5-4 5 55 5-10 5 13 5-12 5 28 5-5 5 6 5-2 5 20 5 52 5-38 5 26 5 18 5 4 5 16 5-16 5 51 5 11 5-22 5-2 5 0 5-4 5 35 5 14 5 20 5-39 5 36 5 14 5-10 5-5 5 19 5 33 5-48 5 14 5-3 5 11 5 26 5-22 5-23 5 16 5 2 5 30 5 1 5-20 5 37 5-36 5 27 5 25 5-44 5 35 5 8 5-28 5 9 5-23 5 26 5-25 5 6 5 11 5-15 5-14 5 14 5-7 5-11 5-17 5 22 5 15 5-24 5-6 5 1 5 15 5-36 5 33 5 15 5-26 5-12 5-4 5-7 5-18 5-7 5-10 5 1 5 14 5-33 5 19 5-50 5 17 5-23 5 12 5-1 5-23 5 29 5 8 5 5 5-26 5 1 5 38 5-18 5 54 5-17 5 5 5-5 5-1 5 17 5-3 5 27 5-10 5 9 5 26 5 5 5-36 5 65 5-45 5 19 5 18 5-1 5 49 5-14 5-9 5 21 5 1 5 10 5 23 5 9 5-5 5-8 5 6 5 15 5-8 5-13 5 15 5-45 5 12 5 12 5 0 5 6 5-17 5 0 5-6 5-28 5 6 5 20 5-14 5-19 5-2 5 23 5-6 5 3 5-13 5-30 5-5 5-26 5 38 5-9 5 9 5-47 5 33 5-29 5-14 5-4 5-27 5 8 5-19 5 3 5 11 5-13 5 11 5-20 5-3 5-9 5 7 5-10 5 6 5-21 5-9 5 10 5 19 5-19 5-43 5 26 5-13 5-2 5 12 5-13 5-2 5-25 5 17 5-15 5 11 5 9 5-34 5 1 5 8 5-34 5 11 5-16 5 10 5 3 5 0 5 21 5-13 5-6 5 16 5 9 5-36 5-1 5 14 5 15 5-48 5 30 5 43 5-37 5 31 5 6 5-31 5 17 5-41 5-32 5 9 5 27 5 15 5-33 5-35 5 23 5-32 5 28 5 17 5-49 5-6 5 0 5-1 5 10 5 4 5 11 5-19 5 38 5-4 5-16 5 9 5 2 5-14 5 61 5-11 5-2 5 19 5-9 5 0 5 31 5-31 5 3 5-4 5 28 5 32 5-16 5 29 5-24 5 19 5-19 5 26 5 21 5-26 5-10 5 28 5 13 5-16 5 45 5-41 5 33 5 14 5-12 5 24 5-5 5-2 5 8 5 43 5-40 5 37 5-3 5 13 5 28 5-19 5 2 5 49 5 13 5-7 5-5 5 6 5 27 5 9 5 10 5 14 5-5 5 18 5-2 5 17 5-5 5 13 5-15 5 12 5-9 5 30 5-15 5-2 5-1 5-4 5 1 5 25 5 3 5 3 5-20 5 14 5-31 5 44 5-31 5 32 5-7 5 19 5-30 5-23 5 37 5-17 5-6 5 4 5-38 5-36 5 24 5-14 5 5 5-32 5-3 5-30 5 16 5-23 5-39 5 13 5-11 5-27 5-33 5 3 5-13 5-16 5 2 5-7 5-24 5 14 5-24 5 11 5-8 5 7 5-27 5 7 5-30 5 43 5 13 5-32 5 9 5 4 5-13 5 16 5-27 5 9 5 0 5-7 5-13 5 35 5-10 5-11 5-9 5 13 5-12 5 18 5-12 5 1 5 5 5-20 5 0 5 0 5-14 5-49 5 46 5-25 5 1 5 7 5-37 5 3 5-48 5 48 5-28 5-9 5-1 5 7 5-40 5 50 5-36 5-10 5 15 5-18 5-12 5-25 5 28 5-10 5-11 5 10 5 12 5-9 5 24 5-19 5 23 5-11 5 10 5-23 5 15 5 15 5-2 5-7 5 15 5-13 5 5 5 16 5 3 5-2 5-20 5-21 5 2 5 20 5-14 5 19 5-29 5 17 5-37 5 16 5 10 5-2 5-3 5-18 5 18 5-8 5-6 5 11 5-15 5-3 5 37 5-33 5 10 5-33 5 0 5-16 5 0 5-1 5 23 5-17 5-4 5-3 5 13 5-20 5 13 5-21 5 19 5-2 5 19 5-20 5 17 5 5 5-7 5 22 5-10 5 3 5-21" fill="none" stroke="#0072bd" stroke-width="75.0" stroke-linejoin="round" shape-rendering="crispEdges"/><path transform="scale(.1)" d="M9268 12474l5-15 5 27 5-27 5-31 5-11 5 16 5-31 5-24 5 5 5-12 5-28 5-5 5-20 5 17 5-52 5-14 5 20 5-17 5-36 5 5 5-14 5-26 5-20 5-3 5-24 5-1 5-17 5 15 5-35 5-12 5 0 5-24 5 31 5 9 5-41 5 16 5 16 5-10 5 7 5 17 5-15 5-19 5 25 5 8 5-32 5-3 5 49 5 9 5 10 5-11 5 29 5-21 5 55 5 1 5-1 5 29 5 23 5 18 5 3 5-15 5 3 5 35 5 21 5-4 5 46 5-10 5 26 5 33 5-9 5 44 5 14 5 15 5 6 5 21 5-17 5 62 5-18 5 4 5-1 5 17 5-19 5 41 5-8 5 22 5-21 5 14 5 11 5-28 5-14 5 5 5-3 5-12 5-4 5-38 5-8 5-2 5 6 5-17 5 18 5-49 5 12 5 7 5 5 5-58 5-7 5-30 5-3 5 9 5-1 5-13 5-17 5 5 5-20 5-30 5 0 5 10 5-13 5-36 5 15 5 8 5-8 5 15 5-29 5 38 5-29 5 18 5 13 5-26 5-16 5 25 5 3 5-23 5-24 5 43 5-1 5-13 5 8 5-16 5-29 5 48 5-33 5 12 5 8 5-37 5 17 5 4 5-19 5-7 5-14 5 2 5-9 5-15 5 30 5-19 5-19 5 15 5-4 5 0 5 2 5-23 5 5 5-13 5 2 5 30 5-11 5 7 5 25 5-27 5 2 5 18 5-25 5-10 5 7 5-11 5-9 5 7 5-7 5 48 5-15 5 2 5 1 5-25 5 23 5 6 5 19 5-18 5 41 5 14 5-12 5 12 5-15 5 38 5 12 5-13 5 15 5-27 5 43 5-30 5 20 5 47 5 5 5 15 5 9 5 43 5 34 5-28 5 57 5 8 5-25 5 35 5 9 5 10 5-11 5 46 5-20 5 19 5-8 5 6 5 13 5 10 5-18 5 49 5-22 5 2 5 1 5-23 5-6 5-22 5 9 5-17 5 26 5-60 5 23 5 1 5-2 5 10 5 11 5-52 5 4 5-15 5 25 5-49 5 5 5-3 5-9 5-31 5-2 5-12 5-9 5 11 5-12 5 14 5-21 5 10 5 14 5-43 5 8 5-7 5 17 5 21 5-29 5-22 5-1 5-7 5-23 5 14 5 11 5 3 5 14 5-48 5-6 5-16 5-10 5-31 5 2 5-23 5-3 5-9 5-16 5-3 5-21 5-20 5-28 5 4 5-12 5 16 5-16 5-36 5-3 5 19 5-14 5 23 5 22 5-11 5-13 5 6 5 59 5-45 5 43 5-37 5 22 5 14 5 24 5 11 5-24 5-29 5 61 5-5 5 31 5-50 5 46 5 2 5 18 5-18 5 14 5 3 5-24 5 35 5-40 5-11 5-4 5-13 5 28 5 24 5-38 5-19 5 4 5-2 5-12 5 9 5-8 5 0 5 10 5-7 5-23 5-6 5 1 5-5 5 17 5-22 5 22 5-8 5-19 5-9 5-23 5 16 5 29 5-18 5-23 5-3 5-16 5 0 5 30 5-50 5 39 5-26 5-17 5-12 5 2 5-29 5 34 5-47 5 25 5-4 5-13 5-45 5 4 5-17 5 7 5-4 5-36 5 8 5-30 5 14 5-32 5-30 5-48 5-5 5 2 5 25 5-42 5 28 5-28 5 3 5-11 5 2 5 0 5 7 5-5 5 7 5-35 5-29 5 30 5-5 5-12 5 1 5-13 5-15 5 20 5-50 5 48 5-1 5-32 5-8 5-20 5 29 5 7 5-16 5-22 5-7 5 25 5-13 5-16 5-20 5 29 5-16 5-8 5 18 5-8 5 8 5-41 5 23 5 4 5 4 5-7 5 8 5 11 5-22 5 1 5 47 5-9 5-5 5 11 5-9 5 5 5 0 5 36 5-33 5-11 5 29 5 16 5 7 5-18 5-10 5 42 5-14 5 26 5-49 5 20 5-4 5-2 5-16 5-1 5 2 5 7 5-29 5 5 5 13 5-8 5 4 5-16 5-16 5-7 5 17 5 31 5 11 5-22 5 25 5 2 5 2 5-30 5 49 5-5 5 14 5-4 5 16 5 1 5 51 5-12 5 40 5 18 5 12 5 50 5-3 5-4 5 30 5 36 5-5 5 4 5 31 5 11 5-7 5 31 5 29 5-65 5 33 5 0 5 2 5-20 5-2 5 7 5-26 5 13 5-6 5-37 5 7 5-12 5 10 5 8 5 3 5-28 5 33 5-69 5 58 5-29 5-10 5-7 5-18 5 16 5-6 5 6 5-25 5 40 5 19 5-28 5 15 5-18 5 10 5-29 5 57 5 2 5-8 5 10 5-42 5 46 5-10 5-15 5 13 5 9 5-4 5-30 5 50 5-4 5 3 5-8 5-16 5 4 5 7 5-16 5 20 5-6 5 23 5-1 5 7 5-41 5 13 5 35 5 2 5-21 5 10 5-3 5 11 5-5 5-24 5-14 5 7 5 8 5 0 5-22 5 26 5-1 5 17 5-24 5 7 5 31 5-8 5 18 5 9 5-24 5-3 5 26 5 34 5 1 5-4 5 35 5-5 5 3 5-6 5 6 5-1 5 40 5-40 5 24 5 13 5-36 5 39 5 14 5-20 5-4 5 3 5 12 5-4 5 32 5-14 5 0 5 14 5-9 5 3 5-16 5 14 5 37 5 28 5-19 5 5 5 36 5-21 5 32 5-31 5 41 5-8 5-8 5 51 5-56 5 24 5 34 5-41 5 41 5-17 5-16 5-13 5 33 5-34 5 1 5 8 5 2 5-6 5-34 5 26 5-5 5 21 5-35 5-28 5 2 5 26 5 6 5-22 5 13 5-40 5 34 5-24 5-17 5 3 5-6 5 14 5-28 5-12 5-1 5-4 5 36 5-20 5-2 5-36 5 17 5-8 5-23 5-12 5-5 5 28 5-9 5-29 5-2 5 21 5-26 5 60 5-10 5-17 5 20 5-21 5 22 5-2 5-20 5 43 5-27 5 33 5-34 5 25 5-21 5 18 5-7 5-15 5 2 5 37 5-70 5 2 5 9 5-34 5-33 5 10 5-3 5-6 5-3 5-6 5-13 5-8 5-24 5 46 5-30 5-24 5 35 5-28 5 28 5-2 5-23 5 6 5-22 5 30 5-6 5-8 5 2 5 0 5-2 5 12 5-22 5-1 5-3 5 11 5-1 5-22 5 18 5-23 5 5 5 10 5-7 5 7 5-47 5 49 5-28 5 29 5-41 5-15 5 29 5-8 5 28 5-13 5-33 5 52 5-58 5 50 5-17 5-5 5-18 5 12 5-12 5 18 5-5 5-5 5 7 5-3 5-22 5 24 5-1 5 3 5-1 5-9 5 12 5-8 5-11 5 1 5-22 5 46 5-44 5 68 5-24 5-24 5 20 5 22 5-28 5 6 5 13 5 6 5-12 5 11 5 3 5-5 5 23 5-5 5 5 5 4 5 13 5-5 5 32 5-26 5 69 5-33 5 33 5-5 5 22 5 35 5-10 5 21 5-4 5-17 5 20 5 9 5-11 5 13 5 35 5-14 5 19 5 41 5-3 5 14 5 6 5 33 5-18 5 14 5-29 5 3 5-24 5 23 5 0 5 29 5-20 5 1 5 4 5-12 5-19 5 4 5 9 5-20 5-17 5 39 5-22 5-18 5 21 5-16 5-17 5 7 5 8 5-10 5-31 5 10 5-35 5 38 5-48 5 3 5-11 5 19 5-31 5 7 5-11 5 19 5-7 5-12 5-6 5 18 5-28 5-29 5 24 5-4 5-9 5 40 5-71 5 5 5 10 5-20 5 29 5-46 5 14 5 3 5-16 5 5 5 20 5-17 5 2 5 1 5 1 5-19 5 10 5-32 5 5 5 11 5 15 5-22 5-4 5 20 5-17 5-32 5-2 5-26 5 33 5-4 5-6 5-18 5-14 5 20 5-6 5 13 5-15 5-9 5 12 5 9 5-16 5 6 5 36 5-34 5-10 5 5 5-38 5 76 5-41 5 20 5 20 5-24 5 8 5 20 5-14 5 14 5 11 5-7 5 54 5-30 5 21 5-31 5 36 5-4 5 1 5 3 5 27 5-15 5-9 5-5 5-26 5 16 5 17 5 12 5-8 5-19 5 4 5-17 5 23 5-4 5 6 5 12 5-21 5-1 5-20 5 6 5-23 5-38 5 32 5-28 5 4 5 6 5-9 5 33 5-23 5 1 5 13 5-26 5 7 5-24 5 20 5 17 5-16 5 39 5-27 5 9 5 0 5-11 5 37 5 30 5-25 5-7 5 10 5 47 5-33 5 6 5 1 5-15 5-11 5 13 5-31 5 0 5-9 5-13 5 21 5-26 5-3 5-16 5-12 5 1 5-12 5-6 5-17 5-35 5 38 5-3 5 1 5-34 5 3 5 14 5-42 5-12 5 8 5 11 5-35 5-4 5 39 5-12 5-15 5-3 5-3 5-6 5 18 5-29 5 26 5 23 5-21 5-14 5 1 5 7 5 7 5-6 5-5 5 19 5 1 5 39 5 15 5 28 5 18 5 21 5-8 5 31 5-1 5 71 5-41 5 3 5 27 5 20 5 23 5-7 5-9 5 16 5 23 5-3 5 8 5 3 5 12 5-13 5 38 5 18 5-23 5 36 5-6 5 40 5-16 5 22 5-13 5 12 5 23 5-2 5-5 5 16 5-7 5 21 5-11 5-17 5 44 5 7 5 26 5-2 5 24 5 8 5 36 5 0 5-5 5 28 5-16 5 46 5-3 5 11 5 19 5 11 5-3 5 4 5 12 5 51 5-17 5 15 5 3 5-5 5 45 5 22 5-63 5 21 5 14 5-19 5 27 5-4 5 6 5 35 5-7 5 5 5-31 5 1 5-19 5 0 5 0 5-36 5 45 5-27 5-3 5-25 5 42 5-6 5-12 5 35 5-23 5 16 5-31 5 17 5-16 5 6 5 34 5-55 5 18 5-5 5 15 5-44 5 24 5 16 5-16 5-28 5 13 5 1 5 0 5-11 5-14" fill="none" stroke="#a2142f" stroke-width="75.0" stroke-linejoin="round" shape-rendering="crispEdges"/></g><g clip-path="url(#cp21)"><path transform="scale(.1)" d="M9260 12066h10v-29h10v20h10v-27h10v-6h10v2h10v2h10v-22h10v-16h10v15h10v-17h10v17h10v-15h10v-11h10v-7h10v39h10v7h10v45h10v4h10v41h10v29h10v31h10v-15h10v11h10v46h10v21h10v-1h10v36h10v-11h10v-21h10v7h10v-5h10v30h10v-15h10v10h10v-52h10v46h10v-39h10v28h10v38h10v20h10v1h10v-14h10v5h10v1h10v-22h10v-2h10v-8h10v21h10v-31h10v24h10v-6h10v-15h10v23h10v-24h10v17h10v-2h10v-5h10v-21h10v10h10v-7h10v5h10v-5h10v50h10v-1h10v8h10v-15h10v10h10v19h10v20h10v1h10v21h10v-9h10v7h10v-8h10v7h10v28h10v-5h10v25h10v10h10v-11h10v29h10v1h10v-17h10v36h10v-27h10v42h10v-2h10v16h10v-82h10v29h10v-6h10v-8h10v-33h10v4h10v-39h10v-40h10v1h10v-70h10v-21h10v-19h10v-9h10v-45h10v59h10v1h10v-19h10v-16h10v20h10v-10h10v29h10v22h10v-20h10v22h10v3h10v-6h10v25h10v-33h10v34h10v-39h10v53h10v-12h10v-3h10v29h10v7h10v-18h10v2h10v8h10v34h10v-67h10v51h10v-18h10v54h10v23h10v-2h10v-23h10v-11h10v-23h10v-21h10v-35h10v-18h10v7h10v-61h10v-25h10v-24h10v-64h10v0h10v-27h10v-36h10v-87h10v53h10v-34h10v-57h10v25h10v-38h10v-2h10v-33h10v15h10v-22h10v-26h10v-24h10v-27h10v36h10v8h10v-61h10v61h10v25h10v-15h10v-5h10v5h10v-2h10v-36h10v47h10v28h10v2h10v13h10v-8h10v0h10v27h10v24h10v-2h10v21h10v3h10v-8h10v25h10v-13h10v31h10v8h10v-4h10v37h10v5h10v42h10v-7h10v27h10v-4h10v47h10v22h10v-24h10v24h10v-23h10v17h10v-6h10v1h10v16h10v-6h10v16h10v0h10v-10h10v21h10v-10h10v2h10v-30h10v-37h10v42h10v-27h10v-15h10v-3h10v-40h10v2h10v10h10v-14h10v-47h10v31h10v1h10v0h10v-14h10v16h10v13h10v-1h10v16h10v11h10v-34h10v28h10v23h10v3h10v13h10v7h10v29h10v20h10v2h10v29h10v-27h10v-1h10v23h10v-25h10v-9h10v-19h10v-14h10v-13h10v-40h10v-45h10v-35h10v-55h10v-61h10v-17h10v-27h10v-31h10v-32h10v-7h10v-8h10v-4h10v56h10v0h10v36h10v12h10v30h10v21h10v26h10v0h10v-7h10v-2h10v-24h10v42h10v-9h10v26h10v-16h10v-58h10v46h10v4h10v-21h10v-13h10v-26h10v-6h10v-19h10v-9h10v-7h10v1h10v-24h10v-10h10v-23h10v12h10v-21h10v25h10v-10h10v-23h10v16h10v8h10v18h10v-15h10v33h10v-12h10v-17h10v-42h10v58h10v-7h10v-5h10v-1h10v13h10v-19h10v-12h10v3h10v1h10v-8h10v5h10v-26h10v35h10v-3h10v8h10v-38h10v0h10v3h10v-15h10v-7h10v-4h10v5h10v-10h10v17h10v3h10v31h10v7h10v-49h10v52h10v23h10v-22h10v60h10v30h10v19h10v-2h10v20h10v2h10v22h10v44h10v-15h10v48h10v32h10v23h10v13h10v2h10v1h10v20h10v29h10v20h10v-7h10v-14h10v51h10v6h10v13h10v-8h10v17h10v-51h10v57h10v6h10v1h10v-10h10v-3h10v-1h10v10h10v-8h10v-4h10v6h10v-45h10v17h10v-2h10v11h10v-12h10v-63h10v43h10v-36h10v-19h10v-42h10v13h10v15h10v1h10v-1h10v-10h10v22h10v-4h10v31h10v9h10v-5h10v23h10v19h10v-14h10v49h10v11h10v15h10v6h10v22h10v12h10v31h10v-6h10v-2h10v-5h10v-29h10v-18h10v21h10v-11h10v-15h10v-7h10v-17h10v-1h10v-13h10v9h10v-36h10v2h10v-7h10v-23h10v-17h10v-31h10v2h10v-37h10v34h10v-21h10v-41h10v31h10v-35h10v-20h10v16h10v-5h10v15h10v-37h10v29h10v-23h10v4h10v-28h10v-2h10v2h10v-20h10v15h10v-18h10v-9h10v19h10v-3h10v13h10v14h10v-35h10v-2h10v13h10v-60h10v28h10v-2h10v-54h10v22h10v-10h10v-24h10v53h10v5h10v-2h10v24h10v9h10v3h10v31h10v-52h10v63h10v13h10v21h10v-14h10v2h10v24h10v-36h10v68h10v-1h10v-15h10v45h10v26h10v26h10v-15h10v43h10v-10h10v61h10v5h10v3h10v43h10v14h10v23h10v-34h10v-7h10v65h10v-10h10v5h10v9h10v-13h10v8h10v-4h10v6h10v-9h10v-5h10v-13h10v6h10v-3h10v-31h10v-15h10v-24h10v-35h10v-44h10v-34h10v-3h10v-22h10v-27h10v13h10v-17h10v-33h10v4h10v3h10v2h10v-10h10v12h10v-27h10v-24h10v29h10v14h10v-1h10v2h10v-9h10v11h10v-27h10v-39h10v-5h10v-64h10v29h10v-27h10v-3h10v-1h10v-24h10v-13h10v-3h10v-10h10v0h10v-16h10v26h10v-14h10v22h10v-2h10v13h10v-7h10v1h10v-18h10v0h10v-5h10v-2h10v-4h10v-4h10v-6h10v-42h10v10h10v52h10v-9h10v0h10v-32h10v2h10v-11h10v0h10v12h10v-32h10v36h10v3h10v-33h10v3h10v42h10v-4h10v-14h10v-6h10v-7h10V12081h-10v14h-10v-20h-10v6h-10v40h-10v-24h-10v-54h-10v15h-10v18h-10v0h-10v7h-10v-11h-10v17h-10v22h-10v17h-10v-5h-10v9h-10v5h-10v-7h-10v11h-10v16h-10v-12h-10v57h-10v-43h-10v-9h-10v-7h-10v29h-10v-19h-10v27h-10v-29h-10v2h-10v-5h-10v-35h-10v17h-10v13h-10v-20h-10v63h-10v-43h-10v2h-10v35h-10v7h-10v-11h-10v-1h-10v23h-10v27h-10v-6h-10v-8h-10v60h-10v3h-10v6h-10v14h-10v1h-10v-6h-10v2h-10v-3h-10v-1h-10v2h-10v10h-10v-11h-10v-5h-10v8h-10v40h-10v0h-10v21h-10v27h-10v-11h-10v27h-10v21h-10v28h-10v25h-10v31h-10v28h-10v19h-10v64h-10v-22h-10v11h-10v-1h-10v31h-10v-3h-10v22h-10v-27h-10v8h-10v-26h-10v-5h-10v4h-10v24h-10v-33h-10v9h-10v2h-10v-20h-10v-8h-10v-49h-10v-5h-10v-11h-10v-37h-10v-29h-10v-21h-10v-23h-10v-7h-10v-26h-10v-7h-10v10h-10v-18h-10v-18h-10v-5h-10v-17h-10v1h-10v2h-10v-34h-10v-16h-10v1h-10v-7h-10v29h-10v-55h-10v-10h-10v-33h-10v21h-10v-23h-10v-31h-10v5h-10v35h-10v-6h-10v3h-10v22h-10v-3h-10v-3h-10v-12h-10v7h-10v60h-10v-19h-10v-17h-10v7h-10v20h-10v-8h-10v-2h-10v-11h-10v20h-10v-6h-10v-1h-10v80h-10v-69h-10v29h-10v27h-10v5h-10v3h-10v10h-10v-5h-10v-2h-10v20h-10v-11h-10v23h-10v16h-10v11h-10v-4h-10v10h-10v19h-10v0h-10v36h-10v-8h-10v22h-10v6h-10v-5h-10v21h-10v13h-10v-1h-10v26h-10v17h-10v-20h-10v44h-10v-24h-10v17h-10v6h-10v7h-10v-25h-10v-22h-10v8h-10v-31h-10v-29h-10v6h-10v-34h-10v-19h-10v-2h-10v8h-10v-55h-10v-4h-10v-11h-10v-17h-10v6h-10v-28h-10v-11h-10v13h-10v-19h-10v-1h-10v42h-10v-6h-10v12h-10v33h-10v14h-10v7h-10v34h-10v-31h-10v20h-10v-1h-10v22h-10v7h-10v-5h-10v-3h-10v17h-10v-24h-10v56h-10v-37h-10v10h-10v3h-10v-32h-10v6h-10v-12h-10v-14h-10v13h-10v33h-10v-47h-10v1h-10v-21h-10v-5h-10v-42h-10v12h-10v-24h-10v26h-10v-46h-10v-8h-10v-34h-10v-30h-10v7h-10v-15h-10v6h-10v-58h-10v-23h-10v-16h-10v-10h-10v-30h-10v-48h-10v4h-10v-17h-10v-25h-10v3h-10v-20h-10v4h-10v0h-10v6h-10v-34h-10v6h-10v-12h-10v8h-10v24h-10v-12h-10v2h-10v12h-10v-2h-10v8h-10v-2h-10v7h-10v-5h-10v28h-10v-1h-10v2h-10v33h-10v-11h-10v-4h-10v5h-10v14h-10v1h-10v-21h-10v3h-10v10h-10v15h-10v-19h-10v26h-10v-22h-10v-11h-10v-2h-10v12h-10v27h-10v-51h-10v17h-10v-21h-10v2h-10v31h-10v-7h-10v-2h-10v19h-10v25h-10v9h-10v6h-10v21h-10v-2h-10v38h-10v11h-10v0h-10v4h-10v17h-10v-17h-10v28h-10v-16h-10v7h-10v-23h-10v-7h-10v4h-10v-13h-10v-34h-10v-51h-10v22h-10v-34h-10v-12h-10v-35h-10v2h-10v-6h-10v31h-10v-5h-10v18h-10v42h-10v52h-10v47h-10v76h-10v28h-10v19h-10v13h-10v39h-10v15h-10v36h-10v-27h-10v52h-10v-22h-10v-9h-10v17h-10v10h-10v-28h-10v-26h-10v-19h-10v-27h-10v-11h-10v-5h-10v-15h-10v-5h-10v27h-10v-36h-10v1h-10v5h-10v21h-10v-16h-10v3h-10v-5h-10v37h-10v-40h-10v-4h-10v-5h-10v8h-10v11h-10v9h-10v46h-10v29h-10v1h-10v-8h-10v9h-10v56h-10v-21h-10v13h-10v-24h-10v2h-10v11h-10v-2h-10v-27h-10v46h-10v-47h-10v-4h-10v24h-10v-8h-10v-39h-10v24h-10v-41h-10v-2h-10v-57h-10v-11h-10v-9h-10v32h-10v-69h-10v-7h-10v-37h-10v-3h-10v-27h-10v-7h-10v-28h-10v4h-10v-2h-10v-19h-10v9h-10v-3h-10v-48h-10v-1h-10v-7h-10v-25h-10v1h-10v11h-10v-35h-10v16h-10v-4h-10v-17h-10v-9h-10v44h-10v-24h-10v-24h-10v14h-10v9h-10v-13h-10v0h-10v18h-10v36h-10v-2h-10v8h-10v41h-10v-18h-10v11h-10v34h-10v1h-10v25h-10v10h-10v36h-10v36h-10v53h-10v4h-10v29h-10v50h-10v22h-10v66h-10v4h-10v19h-10v34h-10v25h-10v14h-10v10h-10v11h-10v-4h-10v36h-10v-66h-10v-9h-10v3h-10v11h-10v-35h-10v7h-10v7h-10v4h-10v-34h-10v-10h-10v3h-10v26h-10v-9h-10v-14h-10v-16h-10v6h-10v-27h-10v15h-10v1h-10v-23h-10v17h-10v-23h-10v0h-10v20h-10v-42h-10v11h-10v-5h-10v16h-10v-9h-10v-9h-10v31h-10v-3h-10v20h-10v56h-10v13h-10v44h-10v22h-10v33h-10v19h-10v29h-10v5h-10v15h-10v27h-10v6h-10v-7h-10v-20h-10v-11h-10v4h-10v-17h-10v-25h-10v10h-10v28h-10v22h-10v-52h-10v24h-10v-18h-10v-37h-10v-33h-10v48h-10v-36h-10v-4h-10v-2h-10v-10h-10v-33h-10v10h-10v-20h-10v-4h-10v-2h-10v-31h-10v-11h-10v0h-10v18h-10v-18h-10v24h-10v2h-10v-3h-10v-6h-10v40h-10v-7h-10v13h-10v-3h-10v4h-10v2h-10v0h-10v-15h-10v6h-10v2h-10v-23h-10v10h-10v-2h-10v0h-10v-13h-10v-12h-10v-13h-10v2h-10v-11h-10v42h-10v-7h-10v-29h-10v-17h-10v16h-10v1h-10v12h-10v-24h-10v-15h-10v-24h-10v-34h-10v7h-10v-33h-10v9h-10v-28h-10v-57h-10v-21h-10v-6h-10v-37h-10v-8h-10v8h-10v-18h-10v-64h-10v8h-10v7h-10v6h-10v8h-10v3h-10v23h-10v18h-10v-2h-10v-34h-10v67h-10v-20h-10v-1h-10Z" fill="#0072bd" fill-opacity="0.3" shape-rendering="crispEdges"/><path transform="scale(.1)" d="M9260 12335h10v-11h10v-5h10v-38h10v-38h10v-33h10v-29h10v-23h10v-30h10v-22h10v-11h10v-33h10v-4h10v-39h10v-29h10v-35h10v-4h10v-24h10v18h10v10h10v-1h10v-2h10v0h10v-11h10v-3h10v43h10v29h10v28h10v14h10v32h10v17h10v31h10v12h10v64h10v51h10v2h10v55h10v36h10v0h10v-9h10v29h10v12h10v25h10v5h10v-52h10v38h10v-17h10v-2h10v-36h10v-4h10v-72h10v36h10v-34h10v-3h10v-44h10v12h10v-43h10v-23h10v-61h10v28h10v5h10v0h10v-28h10v-8h10v31h10v-22h10v5h10v-19h10v17h10v8h10v-14h10v18h10v-33h10v9h10v-34h10v14h10v2h10v-64h10v25h10v-9h10v-4h10v7h10v-52h10v61h10v-7h10v0h10v10h10v-35h10v49h10v8h10v4h10v-11h10v32h10v-57h10v76h10v5h10v-18h10v30h10v10h10v43h10v15h10v19h10v77h10v-11h10v44h10v32h10v43h10v16h10v5h10v0h10v-31h10v43h10v-8h10v-12h10v6h10v-1h10v-6h10v-46h10v10h10v-48h10v29h10v-17h10v-22h10v-16h10v2h10v-38h10v-3h10v-28h10v-11h10v16h10v-29h10v-17h10v-11h10v-1h10v-16h10v23h10v-32h10v-30h10v-67h10v21h10v-33h10v-31h10v-9h10v-20h10v-55h10v11h10v11h10v4h10v26h10v28h10v-12h10v-26h10v42h10v38h10v1h10v24h10v8h10v21h10v1h10v-4h10v-16h10v-12h10v8h10v-11h10v-3h10v-15h10v-15h10v-41h10v30h10v5h10v-36h10v24h10v-24h10v-52h10v40h10v-12h10v-31h10v0h10v-7h10v-13h10v-12h10v-10h10v3h10v-40h10v-23h10v-41h10v-13h10v-26h10v-66h10v7h10v-7h10v-21h10v-6h10v-22h10v-18h10v24h10v-34h10v6h10v-16h10v-22h10v5h10v-15h10v-9h10v-11h10v-23h10v7h10v-14h10v2h10v-29h10v11h10v-31h10v43h10v-3h10v-17h10v13h10v-28h10v68h10v-18h10v14h10v4h10v-16h10v56h10v-33h10v40h10v3h10v-16h10v-10h10v-4h10v-16h10v17h10v-32h10v-2h10v-10h10v26h10v-6h10v36h10v-6h10v-7h10v28h10v62h10v-12h10v65h10v27h10v54h10v40h10v12h10v31h10v28h10v7h10v-14h10v22h10v-52h10v-1h10v-7h10v-15h10v-6h10v-63h10v67h10v2h10v-30h10v-6h10v-5h10v10h10v11h10v12h10v-51h10v-19h10v41h10v12h10v13h10v-1h10v5h10v-40h10v41h10v-41h10v29h10v13h10v3h10v16h10v5h10v-13h10v5h10v1h10v-35h10v13h10v4h10v3h10v12h10v12h10v-1h10v29h10v7h10v12h10v17h10v18h10v-1h10v19h10v7h10v5h10v6h10v28h10v13h10v-21h10v-4h10v27h10v18h10v29h10v11h10v12h10v2h10v31h10v23h10v11h10v-24h10v-17h10v1h10v-4h10v-7h10v-9h10v-8h10v-10h10v-2h10v-11h10v10h10v-1h10v-12h10v1h10v-27h10v-12h10v1h10v-16h10v-20h10v1h10v-29h10v9h10v-12h10v20h10v-8h10v20h10v-22h10v-20h10v48h10v-73h10v66h10v-16h10v22h10v2h10v-18h10v-13h10v-39h10v-60h10v10h10v-11h10v12h10v3h10v-17h10v20h10v-12h10v-9h10v16h10v-15h10v-7h10v-10h10v-3h10v-41h10v40h10v7h10v-4h10v-1h10v-12h10v-29h10v2h10v-9h10v1h10v-13h10v-19h10v-6h10v19h10v34h10v-10h10v-6h10v7h10v-10h10v6h10v3h10v3h10v-5h10v22h10v-21h10v-8h10v11h10v22h10v5h10v6h10v33h10v18h10v-23h10v23h10v37h10v4h10v51h10v14h10v20h10v-7h10v23h10v26h10v22h10v2h10v28h10v-3h10v18h10v-1h10v2h10v-15h10v-22h10v0h10v-11h10v0h10v-1h10v-7h10v-28h10v-60h10v17h10v12h10v-16h10v-13h10v-3h10v-5h10v-8h10v-9h10v-25h10v6h10v-12h10v-10h10v-11h10v9h10v-22h10v-4h10v-8h10v19h10v-29h10v-21h10v-18h10v-15h10v0h10v11h10v6h10v-15h10v-11h10v12h10v-4h10v15h10v-5h10v-7h10v-7h10v16h10v11h10v14h10v-15h10v9h10v20h10v-16h10v6h10v25h10v4h10v7h10v15h10v10h10v-8h10v11h10v-1h10v-34h10v-15h10v20h10v-3h10v-18h10v-9h10v-24h10v14h10v-48h10v1h10v16h10v2h10v-15h10v-4h10v62h10v-17h10v20h10v8h10v19h10v-35h10v14h10v1h10v-19h10v-16h10v-17h10v-43h10v-11h10v-22h10v-3h10v-34h10v6h10v-16h10v-25h10v10h10v1h10v-14h10v-20h10v9h10v-28h10v50h10v-15h10v42h10v-13h10v26h10v8h10v24h10v63h10v46h10v32h10v-7h10v27h10v21h10v30h10v5h10v20h10v-3h10v53h10v20h10v27h10v-6h10v1h10v19h10v11h10v12h10v19h10v29h10v34h10v18h10v29h10v5h10v52h10v21h10v7h10v29h10v5h10v9h10v27h10v-29h10v55h10v14h10v5h10v2h10v-21h10v2h10v-4h10v-19h10v0h10v-30h10v24h10v16h10v5h10v8h10v7h10v-3h10v22h10v-15h10v-83h10v62h10v-71h10v4h10v-2h10V12635h-10v-2h-10v35h-10v6h-10v-11h-10v20h-10v21h-10v-18h-10v16h-10v-2h-10v12h-10v8h-10v7h-10v17h-10v-3h-10v-4h-10v16h-10v2h-10v-7h-10v14h-10v-4h-10v47h-10v-66h-10v9h-10v-29h-10v37h-10v-41h-10v-29h-10v-35h-10v-15h-10v1h-10v-61h-10v-13h-10v-17h-10v-7h-10v-49h-10v-16h-10v-27h-10v-12h-10v-18h-10v-13h-10v-2h-10v-38h-10v-27h-10v-9h-10v-9h-10v-49h-10v26h-10v-31h-10v-11h-10v-22h-10v17h-10v-29h-10v-21h-10v-24h-10v-87h-10v-21h-10v-28h-10v-19h-10v-5h-10v-39h-10v32h-10v10h-10v-32h-10v5h-10v69h-10v-42h-10v20h-10v-8h-10v58h-10v-32h-10v23h-10v7h-10v5h-10v29h-10v2h-10v35h-10v0h-10v15h-10v49h-10v-38h-10v21h-10v-8h-10v2h-10v-23h-10v47h-10v-44h-10v-25h-10v-14h-10v16h-10v24h-10v-46h-10v-1h-10v-15h-10v-16h-10v19h-10v16h-10v44h-10v-9h-10v10h-10v-3h-10v29h-10v-22h-10v-6h-10v-2h-10v4h-10v45h-10v-44h-10v-2h-10v12h-10v0h-10v-25h-10v-31h-10v-6h-10v-2h-10v2h-10v-19h-10v-13h-10v-16h-10v25h-10v21h-10v-15h-10v16h-10v22h-10v-2h-10v0h-10v32h-10v-19h-10v5h-10v74h-10v-81h-10v19h-10v22h-10v-11h-10v8h-10v-8h-10v30h-10v-1h-10v0h-10v37h-10v-6h-10v-1h-10v17h-10v25h-10v0h-10v2h-10v32h-10v-24h-10v18h-10v22h-10v-6h-10v26h-10v13h-10v33h-10v3h-10v-17h-10v8h-10v38h-10v-26h-10v4h-10v13h-10v2h-10v11h-10v-15h-10v-16h-10v-1h-10v-33h-10v-44h-10v-28h-10v13h-10v0h-10v-12h-10v-34h-10v-5h-10v-39h-10v-3h-10v-17h-10v-30h-10v-21h-10v-24h-10v32h-10v-38h-10v-5h-10v-2h-10v28h-10v-30h-10v-4h-10v25h-10v-28h-10v-14h-10v-7h-10v6h-10v9h-10v-11h-10v3h-10v13h-10v16h-10v1h-10v-2h-10v12h-10v-10h-10v-7h-10v16h-10v-11h-10v12h-10v22h-10v-7h-10v-18h-10v10h-10v-10h-10v30h-10v6h-10v-6h-10v39h-10v-42h-10v-3h-10v5h-10v23h-10v-20h-10v14h-10v-7h-10v31h-10v33h-10v56h-10v-11h-10v16h-10v-8h-10v16h-10v25h-10v-40h-10v6h-10v5h-10v-12h-10v29h-10v-35h-10v13h-10v-6h-10v6h-10v58h-10v-52h-10v16h-10v7h-10v4h-10v-6h-10v17h-10v21h-10v17h-10v1h-10v3h-10v35h-10v14h-10v13h-10v-6h-10v-22h-10v3h-10v19h-10v3h-10v-2h-10v25h-10v-13h-10v-1h-10v-25h-10v-27h-10v-12h-10v-10h-10v-10h-10v-35h-10v-12h-10v2h-10v-5h-10v45h-10v-75h-10v10h-10v-8h-10v6h-10v-3h-10v-24h-10v-8h-10v20h-10v-42h-10v-27h-10v12h-10v-34h-10v-26h-10v5h-10v28h-10v-50h-10v5h-10v2h-10v12h-10v54h-10v-25h-10v-26h-10v-6h-10v0h-10v0h-10v0h-10v-15h-10v11h-10v-10h-10v4h-10v-32h-10v49h-10v-43h-10v6h-10v12h-10v-35h-10v10h-10v-13h-10v0h-10v-11h-10v-9h-10v-22h-10v28h-10v31h-10v-33h-10v16h-10v5h-10v44h-10v20h-10v-2h-10v29h-10v32h-10v3h-10v-41h-10v-33h-10v-23h-10v-15h-10v-37h-10v-45h-10v-24h-10v-42h-10v-21h-10v-63h-10v-25h-10v-21h-10v5h-10v-13h-10v15h-10v-44h-10v18h-10v-13h-10v26h-10v1h-10v-2h-10v4h-10v4h-10v29h-10v52h-10v-44h-10v8h-10v-21h-10v-16h-10v12h-10v-14h-10v26h-10v-68h-10v-4h-10v-19h-10v17h-10v21h-10v-4h-10v43h-10v-38h-10v30h-10v-37h-10v49h-10v-22h-10v10h-10v24h-10v-1h-10v32h-10v-19h-10v-4h-10v57h-10v-39h-10v18h-10v15h-10v9h-10v41h-10v-28h-10v23h-10v23h-10v11h-10v43h-10v12h-10v41h-10v37h-10v-4h-10v47h-10v14h-10v-1h-10v-1h-10v16h-10v12h-10v9h-10v24h-10v14h-10v-16h-10v3h-10v20h-10v8h-10v-6h-10v6h-10v12h-10v9h-10v8h-10v22h-10v12h-10v-9h-10v11h-10v17h-10v19h-10v3h-10v-10h-10v-20h-10v-21h-10v7h-10v28h-10v-55h-10v-1h-10v-5h-10v-6h-10v-42h-10v-23h-10v16h-10v-30h-10v0h-10v30h-10v50h-10v-7h-10v52h-10v33h-10v18h-10v39h-10v16h-10v21h-10v15h-10v-4h-10v6h-10v8h-10v26h-10v4h-10v-6h-10v3h-10v-3h-10v5h-10v36h-10v19h-10v8h-10v23h-10v-14h-10v52h-10v-21h-10v-14h-10v33h-10v7h-10v8h-10v32h-10v-2h-10v20h-10v-24h-10v3h-10v-26h-10v6h-10v-36h-10v10h-10v-65h-10v-34h-10v-24h-10v-43h-10v-45h-10v-24h-10v-28h-10v-4h-10v3h-10v4h-10v-41h-10v-42h-10v7h-10v1h-10v-8h-10v7h-10v-14h-10v2h-10v6h-10v2h-10v0h-10v7h-10v-27h-10v24h-10v-19h-10v39h-10v23h-10v-19h-10v22h-10v-15h-10v-1h-10v18h-10v17h-10v26h-10v-11h-10v9h-10v5h-10v51h-10v-64h-10v30h-10v26h-10v-22h-10v54h-10v-30h-10v-20h-10v15h-10v49h-10v-30h-10v25h-10v23h-10v4h-10v26h-10v12h-10v77h-10v36h-10v-38h-10v36h-10v5h-10v-4h-10v28h-10v14h-10v31h-10v-32h-10v-27h-10v3h-10v23h-10v-55h-10v-15h-10v-30h-10v-43h-10v-30h-10v-36h-10v-22h-10v-31h-10v-17h-10v-26h-10v-32h-10v-16h-10v-43h-10v-15h-10v-29h-10v-12h-10v-3h-10v15h-10v-16h-10v-9h-10v-4h-10v-18h-10v13h-10v35h-10v9h-10v26h-10v31h-10v16h-10v30h-10v28h-10v-8h-10v45h-10v30h-10v22h-10v23h-10v39h-10v25h-10v-12h-10v11h-10Z" fill="#a2142f" fill-opacity="0.3" shape-rendering="crispEdges"/></g>
<rect x="222" y="58" width="75.2" height="11" fill="#ff0000"/>
<rect x="549" y="58" width="108.2" height="11" fill="#ff0000"/>
<rect x="264.7" y="1056.2" width="20" height="10.5" fill="#ff0000"/>
<text transform="translate(174 444.4) scale(1.1 1)" text-anchor="middle" font-size="33.5" fill="#262626">-500</text>
<text transform="translate(298 444.4) scale(1.1 1)" text-anchor="middle" font-size="33.5" fill="#262626">0</text>
<text transform="translate(422 444.4) scale(1.1 1)" text-anchor="middle" font-size="33.5" fill="#262626">500</text>
<text transform="translate(545.9 444.4) scale(1.1 1)" text-anchor="middle" font-size="33.5" fill="#262626">1000</text>
<text transform="translate(669.9 444.4) scale(1.1 1)" text-anchor="middle" font-size="33.5" fill="#262626">1500</text>
<text transform="translate(159.7 97.9) scale(1.1 1)" text-anchor="end" font-size="33.5" fill="#262626">0.3</text>
<text transform="translate(159.7 232.7) scale(1.1 1)" text-anchor="end" font-size="33.5" fill="#262626">0</text>
<text transform="translate(159.7 367.5) scale(1.1 1)" text-anchor="end" font-size="33.5" fill="#262626">-0.3</text>
<text transform="translate(926.8 444.4) scale(1.1 1)" text-anchor="middle" font-size="33.5" fill="#262626">-500</text>
<text transform="translate(1050.7 444.4) scale(1.1 1)" text-anchor="middle" font-size="33.5" fill="#262626">0</text>
<text transform="translate(1174.6 444.4) scale(1.1 1)" text-anchor="middle" font-size="33.5" fill="#262626">500</text>
<text transform="translate(1298.5 444.4) scale(1.1 1)" text-anchor="middle" font-size="33.5" fill="#262626">1000</text>
<text transform="translate(1422.4 444.4) scale(1.1 1)" text-anchor="middle" font-size="33.5" fill="#262626">1500</text>
<text transform="translate(912.5 97.9) scale(1.1 1)" text-anchor="end" font-size="33.5" fill="#262626">0.3</text>
<text transform="translate(912.5 232.7) scale(1.1 1)" text-anchor="end" font-size="33.5" fill="#262626">0</text>
<text transform="translate(912.5 367.5) scale(1.1 1)" text-anchor="end" font-size="33.5" fill="#262626">-0.3</text>
<text transform="translate(174 942.8) scale(1.1 1)" text-anchor="middle" font-size="33.5" fill="#262626">-500</text>
<text transform="translate(298 942.8) scale(1.1 1)" text-anchor="middle" font-size="33.5" fill="#262626">0</text>
<text transform="translate(422 942.8) scale(1.1 1)" text-anchor="middle" font-size="33.5" fill="#262626">500</text>
<text transform="translate(545.9 942.8) scale(1.1 1)" text-anchor="middle" font-size="33.5" fill="#262626">1000</text>
<text transform="translate(669.9 942.8) scale(1.1 1)" text-anchor="middle" font-size="33.5" fill="#262626">1500</text>
<text transform="translate(159.7 597.1) scale(1.1 1)" text-anchor="end" font-size="33.5" fill="#262626">0.3</text>
<text transform="translate(159.7 731.5) scale(1.1 1)" text-anchor="end" font-size="33.5" fill="#262626">0</text>
<text transform="translate(159.7 866) scale(1.1 1)" text-anchor="end" font-size="33.5" fill="#262626">-0.3</text>
<text transform="translate(926.8 942.8) scale(1.1 1)" text-anchor="middle" font-size="33.5" fill="#262626">-500</text>
<text transform="translate(1050.7 942.8) scale(1.1 1)" text-anchor="middle" font-size="33.5" fill="#262626">0</text>
<text transform="translate(1174.6 942.8) scale(1.1 1)" text-anchor="middle" font-size="33.5" fill="#262626">500</text>
<text transform="translate(1298.5 942.8) scale(1.1 1)" text-anchor="middle" font-size="33.5" fill="#262626">1000</text>
<text transform="translate(1422.4 942.8) scale(1.1 1)" text-anchor="middle" font-size="33.5" fill="#262626">1500</text>
<text transform="translate(912.5 597.1) scale(1.1 1)" text-anchor="end" font-size="33.5" fill="#262626">0.3</text>
<text transform="translate(912.5 731.5) scale(1.1 1)" text-anchor="end" font-size="33.5" fill="#262626">0</text>
<text transform="translate(912.5 866) scale(1.1 1)" text-anchor="end" font-size="33.5" fill="#262626">-0.3</text>
<text transform="translate(174 1442.2) scale(1.1 1)" text-anchor="middle" font-size="33.5" fill="#262626">-500</text>
<text transform="translate(298 1442.2) scale(1.1 1)" text-anchor="middle" font-size="33.5" fill="#262626">0</text>
<text transform="translate(422 1442.2) scale(1.1 1)" text-anchor="middle" font-size="33.5" fill="#262626">500</text>
<text transform="translate(545.9 1442.2) scale(1.1 1)" text-anchor="middle" font-size="33.5" fill="#262626">1000</text>
<text transform="translate(669.9 1442.2) scale(1.1 1)" text-anchor="middle" font-size="33.5" fill="#262626">1500</text>
<text transform="translate(159.7 1097) scale(1.1 1)" text-anchor="end" font-size="33.5" fill="#262626">0.3</text>
<text transform="translate(159.7 1231.2) scale(1.1 1)" text-anchor="end" font-size="33.5" fill="#262626">0</text>
<text transform="translate(159.7 1365.5) scale(1.1 1)" text-anchor="end" font-size="33.5" fill="#262626">-0.3</text>
<text transform="translate(926.8 1442.2) scale(1.1 1)" text-anchor="middle" font-size="33.5" fill="#262626">-500</text>
<text transform="translate(1050.7 1442.2) scale(1.1 1)" text-anchor="middle" font-size="33.5" fill="#262626">0</text>
<text transform="translate(1174.6 1442.2) scale(1.1 1)" text-anchor="middle" font-size="33.5" fill="#262626">500</text>
<text transform="translate(1298.5 1442.2) scale(1.1 1)" text-anchor="middle" font-size="33.5" fill="#262626">1000</text>
<text transform="translate(1422.4 1442.2) scale(1.1 1)" text-anchor="middle" font-size="33.5" fill="#262626">1500</text>
<text transform="translate(912.5 1097) scale(1.1 1)" text-anchor="end" font-size="33.5" fill="#262626">0.3</text>
<text transform="translate(912.5 1231.2) scale(1.1 1)" text-anchor="end" font-size="33.5" fill="#262626">0</text>
<text transform="translate(912.5 1365.5) scale(1.1 1)" text-anchor="end" font-size="33.5" fill="#262626">-0.3</text>
<text x="351.2" y="28" font-size="36.5" font-weight="bold" fill="#000" textLength="216.7" lengthAdjust="spacingAndGlyphs">Slow Theta</text>
<text x="1108.8" y="28" font-size="36.5" font-weight="bold" fill="#000" textLength="207.2" lengthAdjust="spacingAndGlyphs">Fast Theta</text>
<text transform="translate(35.1 348.5) rotate(-90)" font-size="46" font-weight="bold" fill="#000" textLength="252.1" lengthAdjust="spacingAndGlyphs">Recollection</text>
<text transform="translate(35.6 829.2) rotate(-90)" font-size="46" font-weight="bold" fill="#000" textLength="214" lengthAdjust="spacingAndGlyphs">Familiarity</text>
<text transform="translate(35.3 1295.2) rotate(-90)" font-size="46" font-weight="bold" fill="#000" textLength="157.4" lengthAdjust="spacingAndGlyphs">Novelty</text>
<text transform="translate(95 376.4) rotate(-90)" font-size="30" font-weight="bold" fill="#000" textLength="308.8" lengthAdjust="spacingAndGlyphs">Normalized Rayleigh's Z</text>
<text x="394" y="480" font-size="29.6" font-weight="bold" fill="#000" textLength="129" lengthAdjust="spacingAndGlyphs">Time (ms)</text>
<rect x="621" y="447.9" width="420" height="83.5" fill="#fff" stroke="#262626" stroke-width="1.5"/>
<path d="M643 471H740.3" stroke="#0072bd" stroke-width="7.5"/>
<path d="M643 509.1H740.3" stroke="#d95319" stroke-width="7.5"/>
<text x="748" y="480.6" font-size="28.8" fill="#000" textLength="267.5" lengthAdjust="spacingAndGlyphs">Associative Misses</text>
<text x="748" y="520.5" font-size="28.8" fill="#000" textLength="199" lengthAdjust="spacingAndGlyphs">Correct Intact</text>
<rect x="621" y="947.9" width="420" height="83.5" fill="#fff" stroke="#262626" stroke-width="1.5"/>
<path d="M643 971H740.3" stroke="#0072bd" stroke-width="7.5"/>
<path d="M643 1009.1H740.3" stroke="#77ac30" stroke-width="7.5"/>
<text x="748" y="980.6" font-size="28.8" fill="#000" textLength="267.5" lengthAdjust="spacingAndGlyphs">Associative Misses</text>
<text x="748" y="1020.5" font-size="28.8" fill="#000" textLength="244" lengthAdjust="spacingAndGlyphs">Complete Misses</text>
<rect x="621" y="1451.7" width="420" height="83.5" fill="#fff" stroke="#262626" stroke-width="1.5"/>
<path d="M643 1474.8H740.3" stroke="#0072bd" stroke-width="7.5"/>
<path d="M643 1512.9H740.3" stroke="#a2142f" stroke-width="7.5"/>
<text x="748" y="1484.4" font-size="28.8" fill="#000" textLength="267.5" lengthAdjust="spacingAndGlyphs">Associative Misses</text>
<text x="748" y="1524.3" font-size="28.8" fill="#000" textLength="179" lengthAdjust="spacingAndGlyphs">Correct New</text>
</svg></body></html>
